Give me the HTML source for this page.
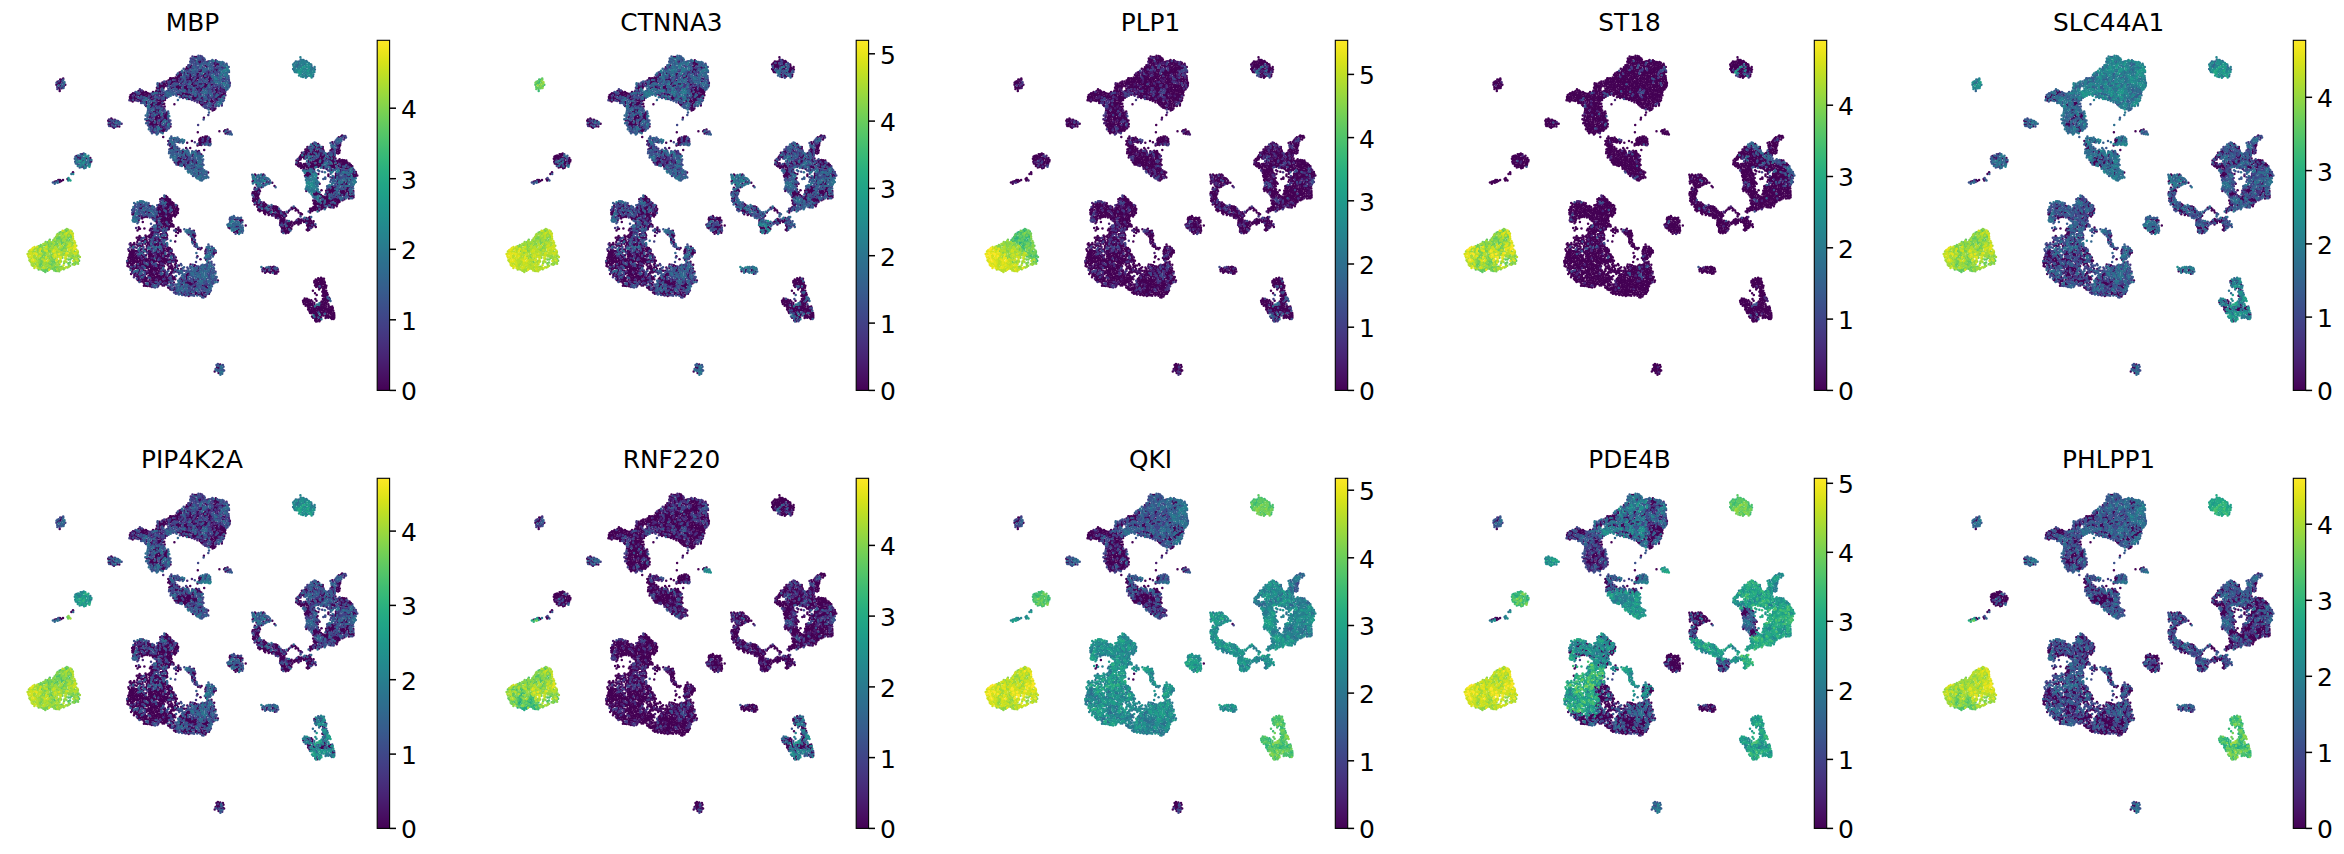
<!DOCTYPE html>
<html><head><meta charset="utf-8"><title>UMAP gene expression</title>
<style>
html,body{margin:0;padding:0;background:#fff}
body{width:2344px;height:854px;position:relative;overflow:hidden}
.tk{font-family:"DejaVu Sans","Liberation Sans",sans-serif;font-size:25px;fill:#000}
.tt{font-family:"DejaVu Sans","Liberation Sans",sans-serif;font-size:24.8px;fill:#000}
</style></head><body>
<svg width="2344" height="854" viewBox="0 0 2344 854" style="position:absolute;left:0;top:0">
<defs><linearGradient id="vg" x1="0" y1="1" x2="0" y2="0"><stop offset="0" stop-color="#440154"/><stop offset="0.03125" stop-color="#470d60"/><stop offset="0.0625" stop-color="#48186a"/><stop offset="0.09375" stop-color="#482374"/><stop offset="0.125" stop-color="#472d7b"/><stop offset="0.1562" stop-color="#453781"/><stop offset="0.1875" stop-color="#424086"/><stop offset="0.2188" stop-color="#3e4989"/><stop offset="0.25" stop-color="#3b528b"/><stop offset="0.2812" stop-color="#375b8d"/><stop offset="0.3125" stop-color="#33638d"/><stop offset="0.3438" stop-color="#2f6b8e"/><stop offset="0.375" stop-color="#2c728e"/><stop offset="0.4062" stop-color="#297a8e"/><stop offset="0.4375" stop-color="#26828e"/><stop offset="0.4688" stop-color="#23898e"/><stop offset="0.5" stop-color="#21918c"/><stop offset="0.5312" stop-color="#1f988b"/><stop offset="0.5625" stop-color="#1fa088"/><stop offset="0.5938" stop-color="#22a785"/><stop offset="0.625" stop-color="#28ae80"/><stop offset="0.6562" stop-color="#32b67a"/><stop offset="0.6875" stop-color="#3fbc73"/><stop offset="0.7188" stop-color="#4ec36b"/><stop offset="0.75" stop-color="#5ec962"/><stop offset="0.7812" stop-color="#70cf57"/><stop offset="0.8125" stop-color="#84d44b"/><stop offset="0.8438" stop-color="#98d83e"/><stop offset="0.875" stop-color="#addc30"/><stop offset="0.9062" stop-color="#c2df23"/><stop offset="0.9375" stop-color="#d8e219"/><stop offset="0.9688" stop-color="#ece51b"/><stop offset="1" stop-color="#fde725"/></linearGradient>
<path id="a0" d="M160.4 99.2h0M132.7 97.9h0M134.6 96.9h0M160 102.5h0M134.7 100.3h0M159.4 104.8h0M157.1 99.3h0M136 95.1h0M137.9 95.1h0M143.9 92.5h0M143.1 91.4h0M137.8 99.6h0M158 103h0M141.2 92.3h0M140.4 90.6h0M141.9 93.5h0M157.8 105.4h0M151.1 104.4h0M140.7 94.6h0M131.1 100.5h0M156 100.4h0M139.5 100.2h0M142.7 96.2h0M147.6 95.2h0M131.3 98.3h0M129.9 97h0M151.3 105.7h0"/><path id="a1" d="M136.2 98.3h0M138.5 90.9h0M161.6 101.1h0M158.1 100.6h0M145.8 92h0M165 97.9h0M147.1 92.9h0M153 91.9h0M145.9 93.9h0M155.8 91.8h0M158.2 93.7h0M152.8 102.4h0M140.9 100.9h0M147.3 96.6h0M134.9 93.3h0M146.6 103.4h0M133 93.2h0M142.2 94.9h0M132.7 101.4h0M151.7 97.2h0M154 98.6h0M146 96.5h0M144 95.6h0M147.7 98.3h0M130.6 95.1h0M143.5 93.8h0M153.6 96.3h0"/><path id="a2" d="M134.4 98.9h0M152.7 99.6h0M160.1 100.5h0M151.1 99.4h0M146.1 106.1h0M163.1 100.7h0M162.9 94.5h0M165 100h0M146.2 102h0M150.3 93.9h0M139.9 95.9h0M158.1 88.6h0M132.1 94.3h0M152.5 104.1h0M150.1 98.1h0M151.2 107.3h0M154.6 102.9h0M148.6 93.4h0M130 98.9h0M156.9 104.2h0M152.9 105.6h0M131.4 96.7h0M155.6 104.6h0M151.3 95.7h0"/><path id="a3" d="M143.8 98.7h0M142.3 97.5h0M159.3 97.4h0M141.9 99.6h0M139.9 89.3h0M136.4 100.6h0M142.5 101.8h0M140.6 99h0M138.2 101h0M142 90.4h0M157 95.8h0M133.8 95.1h0M129.4 100.3h0M154.8 94.7h0M158.3 96h0M155.9 98.6h0M156.7 101.6h0M132.9 96.4h0M149.7 95.9h0M152.9 107.1h0M153 97.6h0"/><path id="a4" d="M161.8 99.6h0M161.5 98.1h0M145.1 97.6h0M136.8 96.4h0M151.6 93.4h0M162.4 102.8h0M139.3 92.8h0M135.5 92h0M137 93.5h0M138.9 94.1h0M158 107h0M156.3 106.2h0M148.6 97.2h0M158.5 108.3h0M145.2 105h0M156 103h0M141.1 103.1h0"/><path id="a5" d="M158.7 98.6h0M133 99.7h0M149.5 99.6h0M148.3 101.2h0M157 97.3h0M144.4 101.4h0M138.1 97.6h0M152.3 101h0M159.4 106.6h0M152.5 94.8h0M141.3 96.3h0M140.9 97.6h0M139.4 98.1h0"/><path id="a6" d="M147 99.6h0M137.4 92.1h0M150.4 100.8h0M144.6 103.2h0M155.3 97.1h0M150.4 102.5h0M143.8 97.2h0M149.9 106h0M149 103.7h0M154.7 99.8h0M143.1 103.1h0"/><path id="a7" d="M143.4 99.9h0M156.9 92.7h0M153.6 93.4h0M148 102.7h0M154.1 101.2h0M154.1 104.4h0"/><path id="a8" d="M145.3 99.9h0M146.4 98.2h0M155 93.1h0M148.1 105.5h0"/><path id="b0" d="M152.9 125.9h0M161.2 116.8h0M151.6 125.1h0M153.7 124.6h0M150.7 123.4h0M160.6 124.1h0M149.4 125h0M152.6 123.2h0M161.1 103.6h0M153.4 121.2h0M161.1 127.4h0M161.2 121h0M155.8 127h0M163.9 116.3h0M162.6 127.7h0M155.3 119.3h0M163.5 113.7h0M165.5 115.6h0M158.9 115.1h0M157 117.4h0M166.7 120h0M159.7 116.6h0M156.2 123.3h0M157.4 109.7h0M165.2 118h0M163.1 126.2h0M157.3 124.4h0M156.8 118.8h0M166.8 116.3h0M155.8 109.7h0M158.5 118.5h0M164.5 130.6h0M165.5 114h0M163.7 129.2h0M157.1 112.9h0M162.5 120.3h0M163 131.7h0M155.7 112.9h0"/><path id="b1" d="M170.5 126.4h0M159.9 125.7h0M154.1 127.5h0M151.7 122h0M160.4 122.2h0M162.9 104.3h0M150.4 127.6h0M164.7 106.6h0M161 107.1h0M156.5 121.9h0M150.3 121.3h0M155.2 124.4h0M155.7 117.3h0M148.6 120.3h0M166.7 117.9h0M150.6 116.8h0M163.6 119.1h0M156.3 120.5h0M156.4 125.6h0M164.2 103.8h0M166.8 112.6h0M149.4 117.5h0M154.4 105.8h0M153.5 111.7h0M159.8 118.2h0M158.9 109.8h0M165.6 129.1h0M146.8 120.6h0M154.9 111.7h0M151.7 131.8h0M167.2 114h0M157.1 115.7h0M158.5 111.1h0M151 113.6h0M162.5 130h0M161.3 130.8h0M153.4 128.9h0M160.1 131.5h0"/><path id="b2" d="M152.5 117.3h0M161.7 126.1h0M162.9 106.9h0M167.7 122.6h0M163.2 110h0M169.4 122.2h0M166.5 123.3h0M164.2 108.8h0M161.2 105.3h0M148.8 123.6h0M166.9 126.2h0M154.7 126.2h0M160.8 119.6h0M160.5 113.8h0M168.8 120.4h0M150.4 115.2h0M165.9 124.9h0M164.8 125.9h0M158.5 121.8h0M161.8 110.2h0M163.2 115.1h0M164.7 127.9h0M156.2 128.3h0M159 124.2h0M158.4 113.5h0M155.6 108h0M153.6 132.2h0M160.1 130.1h0M152.3 129.8h0M149.7 112.5h0M153 130.9h0M155 132.2h0M157.9 119.7h0M151.3 118.1h0"/><path id="b3" d="M169.4 125.3h0M153.1 119.2h0M170.7 124h0M161.8 118.5h0M151.3 126.4h0M148 125.3h0M154.7 122.8h0M154 116.7h0M164.7 123.9h0M148.4 121.8h0M170.4 120.4h0M167.1 129.4h0M168.3 119.1h0M151.4 120.2h0M162.9 117.4h0M163.3 111.6h0M164.9 112.5h0M166 127.3h0M169 128.2h0M151 112.1h0M151 109.3h0M148.8 113.6h0M157.9 133.4h0M153.2 114.9h0M150.7 129.1h0M154 107.8h0M147.4 117h0M156.2 129.8h0M152.5 113.2h0"/><path id="b4" d="M161.9 123.6h0M152.1 128.3h0M149.2 126.8h0M167.9 117.1h0M152.1 115.8h0M167.6 127.5h0M161.5 128.8h0M149.8 119.1h0M160.2 108.3h0M161.4 112.5h0M160.5 109.6h0M166.2 130.8h0M148 110.6h0M168.1 111.6h0M149.9 110.9h0M154.3 109.7h0M156.1 133h0M156.9 131.6h0M152 133.2h0M150.6 130.9h0M157.1 111.4h0M156.8 114.3h0M154.3 112.9h0"/><path id="b5" d="M152.3 108.3h0M161.9 108.5h0M168.9 126.6h0M158.7 126.9h0M146.1 123.2h0M165.1 110.5h0M148 108.8h0M168 115.7h0M155.2 121.4h0M157.1 108.2h0M159.2 120.5h0M149.4 108.8h0M163.8 120.7h0M148.1 115.8h0M159.6 112.4h0M154.9 128.8h0M147.5 123.1h0M145.3 119.3h0M161.2 132.5h0"/><path id="b6" d="M161.3 115.4h0M163.1 122.1h0M163.4 124.9h0M147.2 118.9h0M147.6 112.2h0M167.1 121.3h0M148.8 129.2h0M145.7 115.5h0M165 119.9h0M168.6 113.4h0M156.8 134.6h0M157.1 126.7h0M154.5 130.2h0M158.5 132.2h0M158.2 130h0"/><path id="b7" d="M162.7 133.2h0M152.4 110.2h0M164.7 121.9h0M148.8 107.3h0M159.6 128.7h0M160.1 111h0M147.3 113.9h0M155 115h0"/><path id="b8" d="M168.7 123.8h0M168 125.2h0M169.3 116.3h0M158.2 128.5h0M147.6 106.7h0M162 114h0"/><path id="c0" d="M117.1 126.3h0M115.1 121.5h0M113.9 124h0M108.7 124.5h0M110.3 121.6h0M108.2 120.8h0M110.1 124.2h0"/><path id="c1" d="M119.3 126.6h0M114 127.7h0M112.4 119.6h0M110.7 126h0M112.4 122.8h0M111.3 118.5h0"/><path id="c2" d="M117.9 121.1h0M112.7 126.9h0M121.6 123.7h0M114.9 119.7h0M111.2 123.4h0M109 119.5h0"/><path id="c3" d="M117.4 124.6h0M116.1 124.5h0M109.2 125.9h0M111.8 121.6h0M110.8 120.1h0"/><path id="c4" d="M114.7 122.9h0M119.3 124.6h0M118.2 122.8h0M112.4 124.8h0"/><path id="c5" d="M113.4 120.8h0M114.2 125.9h0M108.8 123h0"/><path id="c6" d="M116.4 120.7h0M115.5 126.8h0M120.1 123.4h0"/><path id="c7" d="M119.5 122.1h0"/><path id="c8" d="M116.1 122.5h0"/><path id="d0" d="M225.1 130.2h0M227.5 129.5h0M224.1 131.3h0"/><path id="d1" d="M225.6 133.4h0M227.1 132.6h0M228.5 132.8h0"/><path id="d2" d="M228.9 131.4h0M230.4 131.5h0"/><path id="d3" d="M226.5 130.6h0M231 133.2h0"/><path id="d4" d="M227.7 134.1h0"/><path id="d5" d="M229.8 134.2h0M231.8 134.6h0"/><path id="d6" d="M225.5 131.7h0"/><path id="e0" d="M61.8 79.8h0M59.7 90.9h0M61.1 81.3h0M58.6 82.7h0M57.9 83.9h0M60.3 82.9h0"/><path id="e1" d="M60.2 79.6h0M65.3 84.8h0M59.6 89h0M56.4 84.7h0M62.7 87.1h0M59.3 84h0"/><path id="e2" d="M63.2 78.4h0M57.5 81.7h0M58.9 87.7h0M61.7 88.3h0M60.5 85.9h0"/><path id="e3" d="M57.2 86.9h0M63.9 86.2h0M63 82.8h0M58.9 81.2h0M57.3 88.9h0"/><path id="e4" d="M63.3 79.8h0M56.5 82.7h0M60.6 87.5h0"/><path id="e5" d="M62.5 81.1h0M61.6 84h0M63.5 88.1h0"/><path id="e6" d="M64 84.1h0M61.9 85.7h0"/><path id="e7" d="M64.5 82.3h0M58.6 85.3h0"/><path id="f0" d="M206.1 138h0M199.5 139.2h0M199.2 140.6h0M199.3 143.1h0M197.5 145.5h0M205 140.8h0M201.4 139.6h0M200.8 141.5h0"/><path id="f1" d="M204.4 139.5h0M203.9 141.5h0M207.1 136.4h0M206.3 139.5h0M208.9 140.5h0M206.1 142.1h0M208.9 141.9h0M210.2 141.2h0"/><path id="f2" d="M205.3 136.4h0M204.5 137.9h0M200.6 137.9h0M200.7 143.6h0M201.9 142.6h0M199.3 144.7h0"/><path id="f3" d="M202.7 137.3h0M208.5 144.9h0M210.1 138.9h0M203.7 143.1h0M210.1 142.5h0M201.2 145.1h0"/><path id="f4" d="M202.9 139h0M208.9 137.5h0M207.4 140.9h0M204.9 144.8h0M202.6 140.9h0"/><path id="f5" d="M207.8 138.7h0M208.2 143.5h0M205.7 143.6h0M207.5 142.3h0"/><path id="f6" d="M197.6 144h0M210.6 144.1h0M202.6 144.3h0"/><path id="f7" d="M209.8 145.2h0"/><path id="f8" d="M206.7 144.5h0"/><path id="g0" d="M89.8 162.5h0M76.5 156h0M77.9 157h0M80.2 159.3h0M83.3 167.1h0M82.1 154.3h0M85.3 165.1h0M77.2 159.3h0M90.3 158.1h0M79.5 157.9h0M83.1 160.4h0M80.7 156.5h0M91.2 161.4h0M86.4 158.3h0"/><path id="g1" d="M80.6 154.3h0M75.4 156.8h0M79.1 164.4h0M79.7 167.6h0M75.2 161.8h0M77.3 164h0M74.8 158.8h0M83.7 153.6h0M81.9 158.1h0M78.6 159.3h0M89.8 159.5h0M89.4 161h0M88.7 164h0"/><path id="g2" d="M80.6 162.4h0M82.2 161.7h0M78.1 155.6h0M81.9 155.9h0M81.5 167h0M79.4 156.2h0M75.8 163.6h0M85.1 160.1h0M86.3 163.5h0M85.9 161.9h0M86.2 166.2h0M85 157.4h0"/><path id="g3" d="M81.9 165.1h0M75.8 160.1h0M84.9 163.2h0M76.2 157.9h0M84.1 168.3h0M83.7 155h0M83.6 157.7h0M85.6 167.7h0M91.4 159.9h0M87.4 161.6h0M90.1 163.8h0"/><path id="g4" d="M83.8 165.2h0M77.8 165.9h0M85.3 154.3h0M77.6 160.6h0M88.4 158.2h0M87.7 159.7h0M84.6 158.7h0M88.3 162.7h0"/><path id="g5" d="M88.4 155.7h0M81.8 163.3h0M76.8 162.2h0M78.8 162.2h0M81.7 159.7h0M88.1 165.4h0M83.1 159h0"/><path id="g6" d="M80.7 164.4h0M80 166.1h0M86.9 156.7h0M89.7 165.2h0M84.6 166.4h0"/><path id="g7" d="M83.5 162.8h0M84.1 161.6h0M85.5 155.7h0"/><path id="g8" d="M80.3 161h0M89.4 166.7h0"/><path id="h0" d="M73 172.2h0"/><path id="h1" d="M71.4 173.9h0"/><path id="h4" d="M73.2 174h0"/><path id="i0" d="M67.5 179.1h0"/><path id="i1" d="M68.2 180.4h0"/><path id="i2" d="M69.3 179.6h0"/><path id="i3" d="M68.5 178.1h0"/><path id="i5" d="M70.4 180.4h0"/><path id="j0" d="M61.3 181.1h0M59.9 180h0M54.6 181.7h0"/><path id="j1" d="M63 179.9h0M56.2 181.3h0"/><path id="j2" d="M59.6 182.1h0M58.3 179.9h0"/><path id="j3" d="M52.9 182.5h0"/><path id="j4" d="M57.7 181.2h0M54.7 183.7h0"/><path id="j5" d="M55.6 182.6h0"/><path id="j6" d="M57.7 182.7h0"/><path id="k0" d="M143.3 206.7h0M133.5 215h0M144.8 217h0M142 215.7h0M152.3 217.8h0M141.3 208.6h0M138.7 220.1h0M146.2 216.1h0M140.9 204.8h0M141.8 207.2h0M143 217.1h0M159.1 208.3h0M139.6 207.5h0M149.5 212.5h0M139.1 215.9h0M133.9 213.1h0M141.6 217.3h0M145.2 212.2h0M154 218.2h0M139.7 209h0M149.3 205.7h0M147.2 217h0M146.2 211h0M151 206.6h0M132.4 214.2h0M148.2 212.7h0"/><path id="k1" d="M134.8 206.9h0M136.3 218h0M151.1 209.2h0M135.2 205.6h0M144.8 208.8h0M144.6 206.4h0M151.3 216.4h0M140.6 215.6h0M139.1 202.9h0M155.1 213.8h0M153 219.2h0M143.4 211.9h0M139.8 213.8h0M138.7 212.1h0M144.2 204.9h0M147.8 208.9h0M154.8 212.5h0M153.7 211.1h0M134.7 208.7h0M134.6 210.7h0M147.5 215.6h0M139 210.2h0M133.2 211.5h0M132.3 212.6h0M144.1 213.1h0M155.5 219.1h0"/><path id="k2" d="M137.3 216.4h0M150.2 207.8h0M133.2 217.9h0M137.5 204.2h0M137.8 205.9h0M143 201.6h0M149.8 217.5h0M154.3 209.2h0M155 217.1h0M147.8 206.5h0M138.3 208.4h0M152.4 209.3h0M140.3 211.6h0M141.9 211.4h0M156.9 214.6h0M148.9 207.3h0M147.9 204.6h0M149.3 214.3h0M133.3 209h0M149.2 216h0M137.3 212.7h0M147.2 214.3h0M132.1 210.1h0"/><path id="k3" d="M135 216.4h0M143.5 215.7h0M153.1 216h0M142.5 205.3h0M135.6 203.9h0M154 207.1h0M141.1 202.7h0M140.5 210.2h0M137.4 223.2h0M139.6 218.5h0M138.9 204.7h0M138.3 222h0M136.9 207.1h0M145.1 214.9h0M145.2 203.5h0M151.1 213.5h0M140.6 206.5h0M139.1 206.2h0M147.9 211h0M148.7 203.3h0"/><path id="k4" d="M151.8 214.9h0M149.2 209.7h0M146.7 209.7h0M137.5 219.2h0M142.8 209.8h0M142.9 214h0M146.3 207.5h0M142.5 203.5h0M138.2 217.8h0M150.4 215.2h0M141.7 213h0M155.1 210.5h0M136.4 209.8h0M146.8 212.7h0M156.9 211.7h0M156.4 213.3h0"/><path id="k5" d="M134.9 221.8h0M134.9 218.1h0M152.4 206h0M134.1 203.1h0M152.7 212.1h0M136.9 214.1h0M154.5 220.6h0M145.9 205h0M151.8 210.9h0M146.6 202.8h0M138.4 213.9h0M154.6 215.5h0"/><path id="k6" d="M152.4 207.5h0M143.4 208.1h0M136 219.3h0M133.3 221.4h0M136.8 221.2h0M153.5 213.6h0M133.4 207.1h0M144.5 210.4h0M150.2 211.1h0M137.2 211.3h0"/><path id="k7" d="M132.6 220.2h0M135.6 220.6h0M140 201.2h0M133.6 216.5h0M141.5 201.3h0M135.6 213h0"/><path id="k8" d="M137.5 202.3h0M134 219.6h0M135.4 214.7h0M144.3 202.3h0"/><path id="l0" d="M170.3 216.3h0M170.8 225h0M172.7 206.8h0M171.9 205.5h0M174 212.9h0M167.7 212.3h0M164.5 212.8h0M172.2 203.8h0M170.4 200.9h0M157.7 208.8h0M172.4 214.8h0M173.6 215.5h0M176.2 214.8h0M164.6 214.2h0M162.4 210h0M177.9 210.6h0M167.1 206.8h0M173.5 203.2h0M176.3 212.8h0M156.8 210.1h0M167.3 217.9h0M175 216.4h0M165.5 219h0M170.5 226.4h0M163.9 198.9h0M169.1 226h0M170 202.4h0M161.1 227.1h0M156.8 219.5h0M171.2 217.8h0M166 214.3h0M178.2 209.1h0M176.9 211.5h0M169.7 220.1h0M166.5 225.1h0M163.1 224.5h0M164.5 224.8h0M168.8 229.2h0"/><path id="l1" d="M161.8 206.7h0M168.9 207.4h0M173.5 210h0M165.6 208h0M170.1 199.6h0M169.2 206h0M170.6 214.9h0M158.1 207.3h0M167 210.4h0M160.2 199.2h0M160.8 210.8h0M169.4 213.5h0M177.1 205.8h0M168.7 211h0M167.5 213.9h0M166.8 201.2h0M163.6 211.5h0M165.4 199.8h0M171.9 223.7h0M164.7 207h0M167.4 199.6h0M159.8 213.6h0M162.8 213.3h0M156.6 217.7h0M158.3 212.1h0M169.3 221.8h0M166.1 198.2h0M168.1 221h0M159.9 216.4h0M170.9 219.3h0M164.6 221.8h0M166.8 220.3h0M167.7 203.4h0M160 219.5h0M163.8 223.3h0M159.8 215h0M162 219.9h0"/><path id="l2" d="M171.7 207.9h0M167.4 208.6h0M166.2 209.3h0M168.6 198.9h0M161.7 205.2h0M175.3 208.8h0M170.6 204.9h0M171.2 212.4h0M162.2 208.4h0M169.2 214.9h0M168.1 215.9h0M173.3 224.9h0M162.1 211.9h0M175.6 210.7h0M174.7 214.5h0M163.5 217.2h0M167.3 197.2h0M164.5 201.5h0M162.9 214.8h0M177 207.4h0M164 218.5h0M168.9 227.7h0M157.4 216h0M158.3 217.5h0M166 195.9h0M168.4 201.8h0M169.8 217.7h0M156.8 224.3h0M157.2 222.7h0M161.3 214.5h0M162.7 221.3h0M165.7 226.5h0M165.1 227.9h0"/><path id="l3" d="M162.1 216.4h0M169.5 209.9h0M163.5 204.5h0M160.3 205.5h0M174.3 211.2h0M158.8 205.1h0M171 203.3h0M176.7 209h0M164.4 215.6h0M161.1 212.9h0M171.6 221h0M164.1 208.8h0M169.3 204.2h0M164.1 220h0M170.2 223.1h0M158.3 210.1h0M167.6 226.2h0M157.7 227.4h0M159.6 225.5h0M157.7 226h0M164.7 230.8h0M168.4 222.8h0M162.5 228.5h0M167.9 219.6h0M168.6 218.4h0M158 213.6h0M163.4 226.6h0M162 223.5h0M167.5 229.6h0"/><path id="l4" d="M161.9 198.3h0M160.1 207.3h0M171.9 216.1h0M173.4 208.6h0M173.8 205.1h0M177.9 213h0M172.7 211.2h0M166.3 203.9h0M159.9 209.4h0M169 200.4h0M174.7 206.8h0M172.2 226.2h0M158.7 232.1h0M172.1 202.2h0M156 215.5h0M164.9 217.2h0M162.1 218.5h0M167.9 205h0M165.3 220.5h0M165.5 223.8h0M155.7 221.2h0M161 221.9h0M157.5 221.4h0"/><path id="l5" d="M170.5 206.8h0M163.4 207.6h0M166.1 212.5h0M163.2 206.3h0M165.6 205.9h0M169.8 211.9h0M160.3 203.9h0M161.2 202.9h0M161.9 199.9h0M156.3 208.5h0M160.3 201.4h0M165.8 215.8h0M163.2 200.5h0M168.3 224.5h0M160.6 223.9h0M160.5 229.4h0M158.4 224.3h0M165.5 229.3h0M167.2 223.6h0"/><path id="l6" d="M161.4 225.1h0M164.3 210.2h0M170.3 208.2h0M170.6 210.8h0M159.8 211.8h0M157.2 205.2h0M175.9 205h0M158 230.7h0M163.9 228.5h0M166.5 222.1h0M159.7 222.8h0M160.1 218h0M158.6 218.9h0M154.1 225.4h0"/><path id="l7" d="M165.7 211.1h0M162.3 203.9h0M164.9 203.9h0M164.3 195.4h0M159.4 226.9h0M164.4 196.9h0M167 228.2h0M158.8 221.6h0"/><path id="l8" d="M171.7 209.9h0M163.7 202.9h0M165.8 202.6h0M162.6 201.8h0M155.8 225.6h0M163.4 229.8h0"/><path id="m0" d="M178.4 227.5h0M179.1 231.1h0M180.6 231.5h0"/><path id="m1" d="M178.6 229.3h0M176.1 232.1h0"/><path id="m2" d="M173.6 226.6h0M177.1 229.8h0"/><path id="m3" d="M178 233h0"/><path id="m4" d="M180.3 230h0M176 228.9h0"/><path id="m5" d="M174.2 230.5h0"/><path id="m6" d="M175.6 230.6h0"/><path id="n0" d="M139.6 236.1h0M142.2 218.6h0"/><path id="n1" d="M144.4 228.6h0"/><path id="n2" d="M140 228.7h0"/><path id="n3" d="M145.5 235.4h0"/><path id="n4" d="M136.1 228.1h0"/><path id="n5" d="M151 223.7h0"/><path id="o0" d="M189 287.7h0M198.1 278.7h0M206.2 287.6h0M207.9 288.2h0M197 271.6h0M208.3 262.4h0M206.5 285.8h0M172.2 276.3h0M204.6 285.2h0M202.4 285.6h0M204.9 292.4h0M173.2 277.5h0M205.4 296.6h0M167.6 281.5h0M198.6 268h0M203.4 296.1h0M198.1 294.5h0M209 293.7h0M174.7 277.1h0M202.1 294.7h0M173.7 278.9h0M203.8 293.2h0M209.4 285.2h0M201.3 292.7h0M175.3 279.2h0M174.6 287.4h0M168.1 287.4h0M182 284.4h0M200.3 294.2h0M198.7 270.5h0M190.6 264.6h0M188.7 296.1h0M170.4 289.4h0M189.6 284.4h0M181.2 268.9h0M181.4 292.9h0M175.4 271.5h0M193.6 286.9h0M173.9 282.4h0M190.9 291.3h0M195.1 286.9h0M191.4 293.7h0M194.8 265.2h0M172.6 279.9h0M175 289h0M205.2 286.7h0M195.3 284.8h0M184.2 294.8h0M217.9 280.6h0M178.9 272.6h0M193.9 266.8h0M181.7 279h0M173.5 289.7h0M195.4 292h0M186.8 279.8h0M196 281.4h0M192.7 283.9h0M175.8 292.1h0M182.9 281.2h0M196.7 293.5h0M191 285.5h0M195.4 293.9h0M189.7 294.3h0M194.5 282.6h0M184.7 280.8h0M186.1 274.5h0M169.2 288.1h0M186.4 276.5h0M191.2 283.6h0M193.9 281h0M185.3 282.7h0M187.9 275.3h0M190.2 282.3h0M188.2 273.3h0M187.4 283h0M187.9 281.5h0M187.1 278.1h0M193.3 279.2h0M188.3 292.8h0M189 283h0"/><path id="o1" d="M170.6 287.9h0M179.8 279.1h0M197.3 269.7h0M188.6 289.2h0M190.5 288.8h0M169.8 279.1h0M203.7 286.4h0M210.4 271h0M206.1 289.3h0M180.2 286.8h0M215.6 271.8h0M203.2 289.1h0M215.6 280h0M192.1 289.9h0M201.4 289h0M170 286.4h0M180.8 277.8h0M210.9 269.3h0M172.2 284.1h0M176.8 270.6h0M207.1 283.4h0M205.6 269.3h0M206.1 294.8h0M180.8 285.4h0M176 288.1h0M214 268.6h0M206.7 281.8h0M183.2 287.8h0M201.4 265.5h0M203.8 282.2h0M199.6 272.6h0M190.4 267.9h0M173.5 285.2h0M204.3 265.3h0M194.5 289.7h0M208 284.9h0M189.7 292.4h0M209.7 274.4h0M185.4 291.3h0M199.1 284.2h0M193.1 291h0M209 275.9h0M186.6 270.8h0M196.9 285.8h0M206 284.5h0M213.9 272.7h0M196.6 266.2h0M196 274.4h0M173.8 272.5h0M211.5 261.8h0M213.6 283.3h0M212.2 282.7h0M185.3 293h0M200.6 291.3h0M182.8 293.4h0M174 292.5h0M182.8 270.4h0M186.9 295.1h0M196 283.5h0M187.3 267.5h0M184.3 270.8h0M180.1 283.5h0M177 267h0M209.6 277.9h0M189.6 275h0M193.9 284.7h0M214.2 264.7h0M188.2 285.5h0M211.1 279.3h0M186.2 281h0M192.7 282.2h0M183.6 280h0M188.8 280.5h0M190 273.7h0M184.9 276.7h0M190.7 281h0M184.1 292.1h0M175.8 293.8h0M186.8 293.7h0"/><path id="o2" d="M171.2 279.6h0M198.1 288.4h0M206.3 279h0M170.7 281.2h0M189.4 286.2h0M206.4 267.7h0M196.8 287.7h0M199.3 290.1h0M202.9 291.3h0M184.2 286h0M198.2 266.5h0M194.3 272.4h0M205.1 283.1h0M207.2 264.8h0M201.7 279.3h0M202.1 297.3h0M194.8 267.8h0M213.9 278.8h0M201.1 268.4h0M206.2 266.1h0M169.1 277.9h0M207.3 273.5h0M172 285.7h0M204.3 268.1h0M206.7 292.4h0M215.3 276.7h0M204.1 294.6h0M207.8 274.8h0M211.8 267.8h0M198 282.5h0M196.8 280.1h0M188.1 268.8h0M188.2 271.6h0M195.3 288.3h0M190 290.1h0M190.6 295.3h0M177.2 293.6h0M180.8 291.3h0M201.8 270h0M206.4 280.4h0M210.9 290.6h0M180.9 264.1h0M192.6 288h0M205.3 281.5h0M207.8 266.1h0M203 279.9h0M209.9 273h0M212.3 284.1h0M175.4 290.8h0M192.8 264.8h0M181.5 282.8h0M212.7 280.4h0M181 280.9h0M193.9 292.1h0M185.5 295.6h0M178.4 292.9h0M190.2 277.4h0M201.2 287.3h0M198 292.5h0M190.6 278.7h0M192.4 286h0M177.3 271.9h0M186.1 286.4h0M172 290h0M180.8 272.7h0M211.1 281.8h0M183.8 275.7h0M194.7 279.9h0M191.8 279.3h0M184.1 278.1h0"/><path id="o3" d="M179.5 288h0M188.2 279.2h0M216 278.6h0M213.9 270.6h0M189.6 272.1h0M208.7 272h0M169 282h0M195.8 269.3h0M205.8 290.7h0M188.8 290.9h0M204.5 290.2h0M202.6 287.7h0M208.2 291h0M194.3 269.5h0M190.6 287h0M211.6 272.2h0M172.5 281.3h0M197.1 277.6h0M179.9 290.1h0M175.3 284.4h0M198.1 287h0M170.8 277.5h0M187.5 286.9h0M200.2 275.9h0M209.8 292h0M191.2 271.1h0M203.5 297.5h0M178.7 291.5h0M199.5 292.7h0M200.4 274.5h0M173.3 288.3h0M200.5 286.2h0M192.6 271.8h0M210.5 276.6h0M204.4 280.5h0M205.7 264.7h0M177.2 284.4h0M176.7 289.4h0M213.4 281.9h0M184.2 290.1h0M182.1 294.9h0M208.1 278.1h0M194.1 295.8h0M214 280.4h0M203.5 266.5h0M209.7 279.5h0M212.4 273.4h0M211.8 265.2h0M178.9 282h0M192.3 295.3h0M179.2 274h0M210.9 283.3h0M193.5 294.6h0M211.6 263.7h0M171.9 288.6h0M177.1 265.6h0M192.1 276.1h0M192.9 277.7h0M185 279.3h0M181.5 265.3h0M187.4 290.7h0M192.2 281h0"/><path id="o4" d="M188.6 270.2h0M207.1 269.7h0M197.2 295.6h0M204.6 288.2h0M182.3 286.3h0M201 277.2h0M187 289.4h0M212.4 269.9h0M187.1 292.1h0M201 284.4h0M167.8 285.4h0M207.3 263.3h0M208.1 292.4h0M211.2 274h0M177.5 288.2h0M176.4 286.3h0M200.2 266.7h0M198.2 272.6h0M203.7 283.8h0M200.3 295.7h0M181.1 270.5h0M203.7 270h0M185.1 287.4h0M203.6 278.4h0M216.7 277.1h0M194.4 273.9h0M198.9 274.2h0M207.7 293.8h0M178.9 294.4h0M203.5 271.9h0M198.8 285.8h0M185.2 284.9h0M197.4 284.5h0M213.8 275.3h0M195.9 276.5h0M212.7 271.3h0M211.5 277.6h0M182.1 273.1h0M190.9 274.9h0M194.1 276.2h0M186.3 272.3h0M179.5 280.6h0M182.8 274.3h0M182.8 268.3h0M182.9 282.9h0M184.1 267.3h0M184.1 282h0M201.8 274h0"/><path id="o5" d="M208.7 286.4h0M198.5 277.3h0M207.1 271.5h0M195.1 270.6h0M196.9 268h0M180.1 293.7h0M198.6 281.2h0M178.2 286.5h0M188.2 277.1h0M178.3 270.6h0M202.4 277.3h0M193.8 271h0M185.3 289.2h0M195.9 272.4h0M191.7 269.4h0M176.1 276h0M199.5 287.7h0M195.5 277.9h0M179.9 271.6h0M201.9 282.9h0M190.1 266.2h0M182.1 271.7h0M184.2 283.7h0M209.5 283.6h0M177 291.1h0M170.7 284.7h0M217.4 282h0M208.3 280.7h0M182.9 291.5h0M192.1 292h0M208.3 282h0M195.8 290.3h0M188.2 294.6h0M201.7 271.4h0M186.9 284.7h0M213.4 267.2h0M184.7 274.2h0M182 275.8h0M205.8 275.7h0M209.9 262.5h0"/><path id="o6" d="M208.9 270.6h0M209.6 268.9h0M199.9 278.3h0M199.6 280.2h0M209.5 289.5h0M205.7 272.7h0M207.4 289.7h0M210.6 287h0M209.3 287.9h0M197 273.4h0M210.7 288.7h0M211.7 275.7h0M199.9 282.9h0M199.6 269.4h0M207.8 268.1h0M182.1 289.5h0M200.3 270.9h0M205.7 274.3h0M197.9 290.8h0M212.5 278.8h0M197.2 275.2h0M191.7 266.9h0M210.8 285.1h0M212 286.3h0M209.6 263.9h0M202.6 264.8h0M209.8 281h0M175 269.8h0M182.8 277.8h0M180.8 289.1h0M186.4 287.8h0"/><path id="o7" d="M205 270.9h0M204.9 279h0M196.5 289.1h0M215.4 273.5h0M178.5 289.7h0M215.4 282.3h0M213.2 276.8h0M193.4 268.1h0M179.2 284.8h0M202.2 281h0M198.5 275.5h0M205 266.7h0M178.1 280.7h0M207 276.6h0M200.6 281.2h0M209.4 265.3h0M178.4 283.6h0"/><path id="o8" d="M181.6 288h0M202.1 275.4h0M202.2 266.9h0M203.6 275.8h0M204.9 277.3h0M201.3 272.6h0M203.6 274.1h0M209.3 266.9h0M211 266.3h0M202.5 268.7h0M191.3 273h0M192.7 273.3h0M192.8 274.8h0"/><path id="p0" d="M195.2 235.5h0M200.4 249.2h0M194.2 236.9h0M205.4 251.3h0M198 248.7h0M192.3 235.3h0M195.1 244.6h0M192.2 240.1h0"/><path id="p1" d="M188.8 234.4h0M193.8 235h0M193.2 233.8h0M195.1 242.5h0M193.9 241.7h0M193.9 230.8h0M201.6 247.9h0M192.1 238.3h0"/><path id="p2" d="M194.7 233.6h0M189.8 228.7h0M190.9 231.2h0M195 239.9h0M199.7 247.9h0M195.9 246.7h0M194.5 246.1h0"/><path id="p3" d="M187.4 233.2h0M191.8 232.8h0M194 239h0M192.4 231.1h0M192.8 243.4h0M196.9 245.5h0M184.3 229.3h0"/><path id="p4" d="M190.7 236.2h0M190 232.7h0M197.4 247h0M192.2 236.9h0"/><path id="p5" d="M190.9 234.2h0M188.7 232.4h0M188.3 229.9h0M192.1 241.9h0"/><path id="p6" d="M187 231.7h0M193.9 232.3h0M196.6 243.9h0"/><path id="p7" d="M189.5 230.9h0M185.6 231.4h0"/><path id="p8" d="M186.5 230.1h0"/><path id="q0" d="M215.8 252.5h0M205.5 253.6h0M214.1 252.9h0M213.7 254.5h0M210.4 250.5h0M206 259.7h0M206 249.5h0M214.6 249.9h0M213.2 251.7h0"/><path id="q1" d="M206.4 252.2h0M206.7 250.7h0M210.3 256.4h0M212 252.9h0M212.4 254.9h0M207.2 248.6h0M214.6 251.6h0M212.6 249.7h0M211.9 246.8h0"/><path id="q2" d="M207.7 253.4h0M208.3 259.4h0M208.4 251.2h0M210.6 257.9h0M208.4 244.6h0M209.9 259.1h0M208.7 258.1h0"/><path id="q3" d="M211.1 254.4h0M206.8 258.4h0M204.8 258.1h0M208.4 249.7h0M215.7 250.7h0M209.5 246.5h0M212.4 248.2h0"/><path id="q4" d="M206.2 254.9h0M207.3 257.1h0M212.9 256.5h0M208 246.8h0M206.7 247.3h0"/><path id="q5" d="M209.1 253.3h0M208.8 256.7h0M211.9 251.3h0M211.1 248.8h0M213.8 248.2h0"/><path id="q6" d="M209.8 254.9h0M210.4 252.1h0M209 248.1h0"/><path id="q7" d="M207 260.9h0M207.8 255.4h0"/><path id="q8" d="M205.9 256.4h0"/><path id="r0" d="M200.5 259.2h0"/><path id="r1" d="M197.4 256.2h0"/><path id="r2" d="M196 261.9h0"/><path id="r3" d="M196.9 257.5h0"/><path id="r5" d="M196.4 253.1h0"/><path id="s0" d="M236.1 226.7h0M237.9 226.5h0M234.1 232.1h0M236.1 231.5h0M235.1 219.6h0M237 219.5h0M229.9 228.2h0M238.8 229.4h0M237.3 230.8h0M237.7 232.7h0M240.8 221.8h0M239.7 220.3h0M240.6 219.3h0M242.4 220.5h0M228.6 227.5h0"/><path id="s1" d="M235 227.8h0M237.3 227.7h0M235.6 233.7h0M233.1 223.4h0M230.1 217.7h0M237.8 217.7h0M238.6 219.1h0M241 231.1h0M231 227.1h0M230.3 220.8h0M240.7 223.4h0M231.3 218.4h0M229.7 219.3h0M232.4 226.6h0M241.3 227.9h0"/><path id="s2" d="M233.8 216.1h0M242.4 225.5h0M234.5 217.3h0M242.3 232.7h0M240.4 226.8h0M239 227.7h0M236.1 221h0M233 219.2h0M227.4 224.8h0M239.6 218.2h0M241.1 217.7h0M231.5 219.9h0M232.4 224.7h0"/><path id="s3" d="M235.7 225.1h0M237.8 225h0M234.5 226.6h0M236.2 218.2h0M234.4 224.2h0M238.5 223.5h0M233 229.4h0M242.3 222.2h0M243 230.8h0M232.9 217.5h0M230 222.3h0"/><path id="s4" d="M233.2 227.8h0M236.8 223.8h0M231.7 216.9h0M242.8 227.6h0M235.1 222.7h0M237.5 221.8h0M242.8 229.3h0M233.7 230.7h0M230.1 224.4h0"/><path id="s5" d="M233.8 225.4h0M236.8 229h0M239.9 225h0M240.8 229.4h0M239.3 230.9h0M238.8 222.2h0M228.7 224h0"/><path id="s6" d="M240 232.8h0M234.9 229.4h0M231.5 228.7h0M233.6 221.4h0M231.9 230.5h0M231.1 225.5h0"/><path id="s7" d="M239 234h0M228.1 226h0M229.5 226.1h0"/><path id="s8" d="M231.9 221.2h0M231.4 222.5h0"/><path id="t0" d="M269.1 182.3h0M261.5 187.3h0M263.4 183.4h0M266.7 182.1h0M253.6 180.4h0M254.9 174.4h0M272.3 182.7h0M264.3 179.4h0M252.6 181.5h0M263.4 174.6h0M262.1 175.5h0M259.5 177.9h0M256 175.4h0"/><path id="t1" d="M267.2 180.6h0M265.8 179.4h0M263.2 185.4h0M259.9 187.2h0M265 185.2h0M265.6 183.4h0M262.5 177h0M258.5 175.1h0M264.6 175.5h0M260.6 182h0M259.2 181h0M256.7 181.3h0M256.6 177.5h0"/><path id="t2" d="M269.9 180.4h0M265.9 177.7h0M262.1 184.5h0M252.2 174.8h0M263.1 178.3h0M254.1 177.2h0M257.4 185.9h0M259.3 184.6h0M258 180.2h0M259.4 179.5h0M259.1 176.6h0"/><path id="t3" d="M268.6 179.1h0M270.6 182.6h0M263.4 181.6h0M269.2 183.7h0M261.2 174.4h0M261.7 179.3h0M263 186.7h0M261 178.1h0M267.5 183.6h0M256.1 179.1h0"/><path id="t4" d="M261.1 180.5h0M267.5 178.2h0M262.1 181.8h0M258.8 186.2h0M252.7 177.1h0M252.9 183.5h0M257.3 175.9h0"/><path id="t5" d="M253 178.8h0M264.1 177h0M259.9 183.3h0M255.1 180.4h0M258.2 177.6h0M254.4 182.3h0M256.4 182.7h0"/><path id="t6" d="M260.7 185.4h0M266.4 184.6h0M253.8 175.7h0M257.9 183h0M257.9 184.5h0"/><path id="t7" d="M254.5 178.8h0M260.5 175.6h0"/><path id="t8" d="M264.9 181h0M263 179.9h0"/><path id="u0" d="M295.1 208h0M296.3 209.2h0M291.6 207.8h0"/><path id="u1" d="M298.7 212.5h0M298 210.6h0M295.6 210.5h0"/><path id="u2" d="M300.7 213.2h0M292.3 209.1h0"/><path id="u3" d="M288.9 210.8h0M293.5 207.8h0"/><path id="u4" d="M302 214.2h0M300.6 214.8h0"/><path id="u5" d="M290.4 209.6h0"/><path id="u6" d="M300.5 216.5h0"/><path id="u7" d="M293.7 206.5h0"/><path id="v0" d="M297.9 161.7h0M323.7 160.4h0M300.7 163.3h0M304.7 166h0M304.6 167.7h0M317.8 162h0M321.9 162.4h0M302.3 165.8h0M313 163.9h0M317.5 164h0M300.8 165.9h0M305.7 163.7h0M307.5 165.5h0M303.2 167.2h0M311.5 149h0M305.9 165.4h0M301 168h0M324.6 166.9h0M311.2 163.5h0M334.4 166.6h0M312.8 161.4h0M314.3 164.5h0M335.8 164.3h0M322.1 157.5h0M328.6 159.4h0M301.9 152.8h0M320.2 156.1h0M334.8 168.1h0M306.6 155.3h0M312.7 153.2h0M333.1 167.3h0M331 167h0M296.1 164.2h0M298 165.7h0M323.9 156.3h0M307 154h0M332.5 165.7h0"/><path id="v1" d="M323.3 162.3h0M322 160.8h0M298.7 163h0M316.3 161.6h0M314.5 151.3h0M313.9 145.4h0M299.7 165h0M296.4 160.6h0M320.6 152.7h0M299.1 166.5h0M314.1 169.4h0M307 152.4h0M319.1 163.6h0M320.6 164.7h0M307 167h0M333.9 161.7h0M313.2 149.2h0M308.3 167.4h0M300.5 159.6h0M308.8 169.1h0M299.1 158.3h0M310.4 166h0M323.3 158.3h0M342.1 167.6h0M309.7 158.9h0M325.4 160h0M302.9 156.9h0M301.3 156.7h0M312.6 157.7h0M319.6 159.1h0M310.3 153.5h0M304.2 156.6h0M304.9 151.7h0M315.8 152.4h0M299.9 156.7h0M326.5 158.4h0M306.6 150.5h0"/><path id="v2" d="M305.6 153.6h0M297.5 164.3h0M308.5 161.9h0M315.4 160.3h0M301.5 164.5h0M308.7 160.1h0M322.7 163.7h0M316.9 160h0M318.4 160.5h0M318.4 158.5h0M320.7 163.1h0M307.4 147h0M311.8 167h0M316.6 151.2h0M321.6 159.3h0M307.3 148.4h0M304.2 158.5h0M322.3 153h0M331.3 164.9h0M310.4 167.5h0M318.2 167h0M314.9 165.8h0M317.7 152.6h0M317.4 154.4h0M319.5 157.4h0M313.4 165.8h0M312.7 151.6h0M329.8 165.5h0M322.2 156.1h0M313.8 154.1h0M300.9 158.1h0M310.3 155h0M300.9 155.3h0"/><path id="v3" d="M314.2 161.7h0M332.2 161.6h0M304 164h0M333.4 163.2h0M323.3 166.4h0M316 164.5h0M320.8 166.1h0M317 165.7h0M298.8 159.9h0M310.5 162.1h0M319 165.8h0M313.4 168.2h0M333.8 165h0M303.6 168.9h0M318.6 150.9h0M311.8 165h0M306.8 157.8h0M314.8 149.1h0M327.2 153.9h0M305.4 149.6h0M338.1 165.5h0M315.2 155h0M328.9 162.2h0M309 151.5h0M303.9 153.9h0M304.5 155.2h0M311.7 154.8h0M308 150.3h0M310.8 157.9h0"/><path id="v4" d="M314.3 170.9h0M307.6 163.4h0M315.6 158.2h0M311.9 168.9h0M316.8 157.2h0M324.8 161.3h0M314.1 147.2h0M297.7 158.9h0M305.1 170.1h0M309.5 146.7h0M308.9 165.4h0M325.2 168.3h0M329.1 160.9h0M314.4 157.4h0M312.4 160.1h0M327.5 167.6h0M313.5 155.9h0M308.7 153.6h0M318.9 155.3h0M312.2 150.2h0M328.3 164.4h0M322.7 154.7h0"/><path id="v5" d="M296.5 162.5h0M314.5 152.8h0M315 163.2h0M309.2 163.9h0M322 167.2h0M314 159.1h0M320.4 151.3h0M315.7 156.4h0M310.1 148.4h0M308.7 147.9h0M311 152h0M327.4 160.3h0M318.1 157.1h0M326.3 161.4h0M307.8 156.1h0M308.1 154.8h0M311.8 158.8h0M303.5 152.4h0M325.1 157.7h0"/><path id="v6" d="M307 161.3h0M305.6 158.8h0M316.1 153.7h0M319.9 161.9h0M312.4 147.9h0M303 170.6h0M324.9 165.5h0M316.6 149.1h0M310.7 150.3h0M305.8 156.5h0M317.5 155.7h0M326.6 164.8h0M324.5 158.9h0M326 154.9h0"/><path id="v7" d="M320.7 167.8h0M331.5 163.6h0M315.2 167.6h0M322.6 165.1h0M320.3 160.4h0M330.4 162h0M316.4 166.9h0M327.5 162.9h0"/><path id="v8" d="M308.5 158.4h0M310.3 160.2h0M309.4 156.7h0M325.7 163h0M302.3 155.2h0M310.9 156.6h0"/><path id="w0" d="M342.1 135.4h0M339.3 152.7h0M339.6 146.3h0M338.7 145h0M340.2 145h0M336.5 153.1h0M336.9 151.5h0M344.6 137.8h0M339.1 148.1h0M337.6 145.9h0M336.3 149.6h0M329.4 156.6h0"/><path id="w1" d="M333.1 153h0M332.3 142.2h0M341.2 136.6h0M336.5 145h0M338.8 137.3h0M339.8 150.6h0M332.4 148.3h0M338.5 151h0M338.1 153.4h0M338.1 149.2h0M331.7 149.6h0M333.6 149.4h0"/><path id="w2" d="M332.9 144.1h0M340.4 142.9h0M338.9 139.4h0M334.7 142h0M344 139.4h0M345.3 136.1h0M333.3 150.8h0M337.8 147.5h0M328.7 153.3h0M331.9 152h0"/><path id="w3" d="M343.9 136h0M342.4 137.3h0M335.5 143.6h0M337.7 144.1h0M341.7 139.3h0M346 137.5h0M334.4 151.8h0M336 146.5h0M330.1 154.5h0"/><path id="w4" d="M334.8 153.1h0M338.6 142.8h0M335.8 140.4h0M332 154.2h0M330.5 143.1h0M336.7 139.4h0M334.9 150.3h0M329.8 152.5h0"/><path id="w5" d="M341.3 141h0M336.7 142.3h0M337.7 138.3h0M334.9 155h0M335.2 148.7h0"/><path id="w6" d="M339.3 141.3h0M331.3 145.3h0M331.5 146.7h0M334.8 145.5h0M332.9 146h0"/><path id="w7" d="M340.5 138.5h0M337.8 140.4h0M333.7 147.7h0"/><path id="w8" d="M340.3 140.1h0"/><path id="x0" d="M313.2 171.9h0M315.7 195.4h0M306.3 190.9h0M313.7 194h0M314 195.6h0M316.8 194.6h0M318.2 193.2h0M315.3 193.4h0M306.6 169.5h0M310 173.2h0M310.6 174.6h0M319.6 183.7h0M309 174.4h0M306.9 172.7h0M306.3 174.6h0M307.6 174.2h0M316.6 191.9h0M308.4 172.1h0M307 176.5h0M315.4 182.3h0M305 175.7h0M308.5 176.1h0"/><path id="x1" d="M313.4 197.2h0M315 196.7h0M312.9 170.4h0M316.6 198.1h0M316.5 179.3h0M307 189.6h0M318.4 195.8h0M317.6 183.8h0M315 172.7h0M319.7 192.3h0M316 173.6h0M318 189.5h0M314 192.1h0M313.4 183.8h0M307.4 170.7h0M305.7 177.3h0M315.2 191.3h0M308.9 170.6h0M316 184.1h0M308.7 177.8h0M317.8 186.3h0M312.1 175.8h0"/><path id="x2" d="M316.6 196.7h0M311.4 180.4h0M307.8 179.2h0M317.2 180.9h0M309.9 171.6h0M313.2 179.2h0M310.2 168.9h0M309.6 179.6h0M318.7 182.5h0M309.6 186.5h0M308.3 188.9h0M304.8 172.9h0M312.4 177.3h0M314.8 186.4h0M310 176.5h0M306.8 181.9h0M310.7 191.1h0M306.8 178.1h0M316.6 185.7h0"/><path id="x3" d="M305.9 180.1h0M314.7 179.8h0M314.3 188.8h0M311.2 170.4h0M312.5 195.4h0M320.5 196.5h0M306.4 187.3h0M311.3 172.4h0M308.4 190.5h0M309.6 181.3h0M309.5 192.2h0M314.1 190.5h0M308.4 180.6h0M318.1 191.4h0M316.7 189.9h0M311.4 189.4h0M312.3 190.9h0"/><path id="x4" d="M305.9 171.3h0M305.7 189.1h0M315.5 180.9h0M317.1 182.5h0M312.2 174.2h0M307.9 187.1h0M315.1 178.4h0M317 188.4h0M309.6 189.6h0M314.7 183.6h0M308.2 183.8h0M312.9 189.4h0M311.8 187.9h0"/><path id="x5" d="M313.7 173.5h0M313.7 176.1h0M311.8 182.5h0M313.8 177.6h0M314 182h0M304.3 171.4h0M311 178.7h0M314 185.3h0M315.7 187.6h0M316.5 175.3h0M309.1 187.8h0"/><path id="x6" d="M313.4 180.8h0M311.4 194.1h0M318.1 197.8h0M316.1 176.8h0M315.1 174.8h0M313.4 187h0M311.8 192.3h0M309.4 185.1h0"/><path id="x7" d="M306.9 185.7h0M310 183.3h0M310.5 187.6h0M312.7 185.7h0M306.8 183.2h0"/><path id="x8" d="M310.9 185.4h0M311.9 184h0M308.4 182.3h0"/><path id="y0" d="M333.1 188.9h0M343.6 187.4h0M339.8 189.2h0M348.3 191.5h0M341.2 190.7h0M339.2 200.1h0M340.3 171.7h0M328.1 196.2h0M332.7 199.9h0M335.9 177h0M348.9 198.4h0M344.9 164.5h0M346.6 191.2h0M347.7 188.9h0M347.2 187.6h0M334.9 190.4h0M351.7 188.1h0M345.6 184.3h0M345.7 192.7h0M344.1 195.4h0M349.8 195.9h0M348.4 195.3h0M335.7 198.7h0M337.6 181.8h0M353.5 195.7h0M340.7 169.7h0M334 195.6h0M346.8 183.1h0M339 166.5h0M340.7 167.1h0M334 187.4h0M333.5 191.8h0M331.9 186.3h0M335.6 193.8h0M331.8 189.5h0M332.5 192.8h0M344.8 194.1h0M342.8 193.8h0M326.8 169h0M338 175.4h0M353.3 176.9h0M341.7 165.9h0M353.5 197.2h0M332.4 191h0M337.3 199.5h0M330.8 191.1h0M347.3 176.2h0M351.8 193.3h0M326.3 193.1h0M327.4 190.3h0M327.7 165.6h0M329.4 190.1h0M353.3 191.1h0"/><path id="y1" d="M350.5 179.8h0M348.9 187.4h0M342.9 190.4h0M351 196.8h0M344.1 191.2h0M340.5 192h0M333.8 198.1h0M332.2 177.8h0M347.3 180.9h0M347 179.3h0M327 194.6h0M352.1 195.7h0M349 193.1h0M336 186.8h0M338.9 177.1h0M348.7 171.1h0M323.4 168.1h0M332.4 187.7h0M343.9 193h0M337.9 179.9h0M346.1 189.5h0M342.7 184.2h0M344 182.9h0M341.2 193.7h0M340.6 184.3h0M339.5 195.2h0M338.1 194.4h0M342.2 192.5h0M344.4 199.2h0M342.5 200.3h0M344.1 181.4h0M347.3 184.4h0M345 174.1h0M328 193.2h0M340.9 195.8h0M345.1 178.3h0M348.8 176.7h0M330.3 193h0M337.8 184.2h0M329 191.8h0M345.2 168.6h0M342.9 170.5h0M336.5 196.5h0M326.1 190.7h0M338.8 174.3h0M335.8 175.5h0M347 168.5h0M350.2 175.9h0M331.4 169.8h0M329.1 188.4h0M335.9 173.6h0M343.6 167.6h0M335 178.1h0"/><path id="y2" d="M333.2 170.7h0M332.4 198.1h0M341.5 171.2h0M331.1 179.9h0M344.8 189h0M349.6 186.1h0M342.1 177.9h0M349.1 190.1h0M341.3 187.7h0M337.8 197.6h0M339.9 173.5h0M340.7 177.2h0M334.9 197.1h0M333.8 177h0M352.4 179.8h0M343 198.9h0M340.3 178.8h0M351.3 173.2h0M338.5 178.5h0M335.5 185.3h0M343.6 197.5h0M342.2 195.1h0M352.3 198.2h0M340 165.5h0M346.7 174.8h0M344.1 184.3h0M344.7 175.9h0M347.9 169.9h0M334.2 186h0M330.8 195.8h0M345.8 171h0M334.9 183.8h0M342.1 169.2h0M346 176.5h0M339.4 164h0M345.1 197.1h0M337 183.1h0M329.9 163.7h0M352.9 186.5h0M337.3 173.9h0M338.6 172.9h0M328 170.6h0M336.3 168.7h0M329.8 170.9h0M353.3 192.6h0M344.3 170.8h0M330.8 168.5h0"/><path id="y3" d="M341.3 189.2h0M333.9 179h0M338.4 189.5h0M338.6 191.4h0M348.4 182.2h0M333.1 181.6h0M330.4 177.3h0M342.3 176.5h0M350.1 181.8h0M330.4 181.7h0M337 191.9h0M344 177.4h0M341.2 199.9h0M346.3 165.1h0M334.5 180.8h0M347.9 196.8h0M340.2 197h0M335.1 188.9h0M330.4 187.7h0M343.1 166.4h0M343.2 186h0M332.8 196.7h0M332.4 194.9h0M345.4 187.6h0M344.7 185.8h0M335.7 181.5h0M346.3 195.7h0M343.3 175.4h0M350.2 174.2h0M338.9 196.5h0M334.2 193h0M339.2 169.1h0M343.7 169h0M353.7 178.3h0M336.8 194.7h0M350.7 187h0M329.7 169.3h0M327.5 191.7h0M348 177.8h0M327.2 188.2h0M327.1 186.3h0M337.1 178.2h0"/><path id="y4" d="M350.8 198.2h0M342.9 188.8h0M338.8 188.2h0M336.9 188h0M341.8 172.8h0M340.7 181.4h0M339.2 180.3h0M349.5 169.8h0M335.4 192.2h0M330.7 173.7h0M329.5 196.2h0M350.1 190.9h0M345.2 166.7h0M346.7 193.7h0M337.2 193.3h0M339.6 175.6h0M337.3 186.1h0M329.2 194.5h0M343.3 173.7h0M339.5 185.2h0M335.5 195.2h0M340.4 182.8h0M324.3 163.3h0M328.3 185.7h0M353.4 194.2h0M337.3 167.7h0M328.2 187.1h0M335.2 170h0M330 186.2h0M333.2 169.4h0M331.2 194.4h0M353.2 188.5h0"/><path id="y5" d="M332.8 179.9h0M341.7 179.7h0M341.7 197.8h0M350.3 188.7h0M338.9 186.5h0M351.4 180.8h0M349.2 178.7h0M341.4 174.4h0M350.6 194.4h0M346.2 198.3h0M341.5 186h0M349.8 172.7h0M345.5 179.8h0M352.5 183.7h0M347.4 171.9h0M350.5 183.8h0M350.2 192.4h0M346.6 178h0M351.1 185.1h0M350.7 177.6h0M337.3 176.7h0M351.4 189.4h0M326.4 166.7h0M330.9 172.1h0M351.6 191.4h0M336.5 166h0"/><path id="y6" d="M340.2 198.4h0M348.4 183.5h0M332.7 176h0M355.8 178.2h0M345.7 181.5h0M343.9 179.1h0M342.7 181.5h0M351.6 182.2h0M333.6 182.9h0M346.3 186h0M344.8 172.4h0M346.6 173.1h0M339.4 183.8h0M336.5 179.4h0M352.2 178.3h0M332.1 183.2h0M353.8 184.4h0M355.8 181.9h0M352.6 185.2h0M353.7 179.7h0M331.9 184.7h0"/><path id="y7" d="M350.5 171.4h0M348.5 180.1h0M336.9 190.1h0M342 182.6h0M348.3 186h0M339.4 193.7h0M338.9 181.9h0M338.7 171.2h0M353.5 181.6h0M329.4 167h0M351.9 171.8h0M348.6 175.1h0"/><path id="y8" d="M343.4 171.9h0M354.9 180.6h0M329.6 184.9h0M338 170h0M329.5 198.3h0M354.5 183.1h0M336.7 171.7h0M332.3 172.2h0"/><path id="z0" d="M318.3 174.1h0M328.4 176.1h0"/><path id="z1" d="M317.6 178.1h0M328.4 174.6h0"/><path id="z2" d="M322.2 171.8h0M319.3 171.3h0"/><path id="z3" d="M325.3 178.8h0M323.3 179h0"/><path id="z4" d="M325.2 177.5h0"/><path id="z5" d="M318 170.2h0"/><path id="z6" d="M324.9 172.2h0"/><path id="A0" d="M326.4 196.6h0M325.3 197.8h0M313.8 203.5h0M315.8 206h0M326.6 198.5h0M326.6 199.9h0M314.3 202.2h0M336.5 200.6h0M335.2 201.7h0M338 201.3h0M321.3 204.9h0M327.8 199.4h0M327.7 202.4h0M330.5 201.5h0M327.7 200.8h0M310.2 212.5h0M311.3 209.8h0M311.8 208.4h0M310.1 210.7h0M313.4 207h0"/><path id="A1" d="M323.5 197.9h0M338.5 198.8h0M331.4 205.6h0M322.6 196.3h0M313.1 200.5h0M314.8 204.7h0M330.8 207.3h0M316.6 203.8h0M339.6 201.8h0M324.7 199h0M331.1 197.5h0M336.7 206.3h0M319.3 194h0M323.2 202.4h0M333.8 204h0M334.9 204.9h0M323.5 205h0M334.4 199.8h0M337.3 204.3h0M315.6 209.9h0"/><path id="A2" d="M324.3 196.7h0M322.5 208.4h0M315.1 208.3h0M328 197.8h0M330.6 204.4h0M323.3 200.7h0M318.1 204.3h0M321.4 197.6h0M319 210.4h0M316.8 207.4h0M310.1 208.7h0M336.3 202.8h0M338.4 202.6h0M315.3 203.2h0M329 201.4h0M319.5 207.4h0M327.3 204.7h0M312.2 211.1h0"/><path id="A3" d="M314.8 206.9h0M315.1 200.4h0M329.3 207.1h0M333.7 207.5h0M319.2 203.3h0M319.6 205.3h0M321 209.2h0M323 206.2h0M317.7 202.9h0M325.3 207.9h0M313.2 208.7h0M326.4 201.5h0M329.2 203.6h0M326.5 203.4h0M313.8 210.1h0M318.2 208.2h0"/><path id="A4" d="M324 207.5h0M333.8 205.8h0M322 201.5h0M316.3 201.5h0M332.1 204.3h0M321.5 207h0M331.6 200.7h0M319.7 198.3h0M329.1 199.9h0M322.6 203.8h0M317.4 209.3h0M325.2 204.2h0"/><path id="A5" d="M314.8 198.4h0M332.2 207.2h0M322.8 199.1h0M330.9 199.1h0M324.8 205.9h0M331.5 202.4h0M318.5 206.2h0M324.1 203.5h0M328.7 205.3h0M308.6 211.4h0"/><path id="A6" d="M321.6 199.8h0M320.7 203h0M330 205.6h0M335 203.2h0M333.1 202.2h0M319.5 209.1h0M326.6 206.6h0M324.9 202.4h0"/><path id="A7" d="M324.7 209.3h0M319 199.8h0M318.4 201.4h0M324.7 200.7h0"/><path id="A8" d="M317.2 199.5h0M319.9 201.3h0M317.6 211.6h0"/><path id="B0" d="M321.5 190.2h0"/><path id="B1" d="M321 194.9h0"/><path id="B4" d="M325.5 194.2h0"/><path id="C0" d="M293.1 68.9h0M296.9 64.9h0M298.4 63.2h0M299 64.9h0M296.8 66.4h0M303.5 59.9h0M306.3 61h0M307 76.6h0M305.8 74.9h0M299.1 61.6h0M295.8 61.5h0M313 76.2h0M294.9 66.5h0M311.4 66h0M300.8 66.1h0M300.7 59.5h0M297.9 67.2h0M312 67.8h0M305 64h0M310.8 69.7h0M314.9 69.6h0"/><path id="C1" d="M296.3 72.3h0M294.1 70.6h0M297.2 61.7h0M307.1 62.1h0M313.3 74.6h0M294.5 69.1h0M311.2 64.6h0M303.8 62.8h0M295.5 67.8h0M301.2 61.3h0M299.2 67.9h0M299 69.6h0M302.2 74.7h0M295.6 64.8h0M294.6 62.9h0M293.1 64.6h0M312.3 69.6h0M302.9 65.6h0M314.6 66.9h0M309.7 70.9h0M313.8 68.5h0"/><path id="C2" d="M305.6 62.8h0M294.9 72.1h0M300.4 57.2h0M299.3 66.5h0M302.7 69.8h0M304.8 61.2h0M311.5 70.9h0M304.1 68.4h0M309.8 72.3h0M305.4 69.3h0M305.4 65.4h0M303 77.1h0M311.3 72.5h0M302.4 72.3h0M306.8 67.1h0M310.6 68.2h0M307.3 72.3h0M305.5 76.3h0"/><path id="C3" d="M296.5 63.1h0M305.4 72.2h0M314.4 72.1h0M300.6 64.6h0M308.8 63h0M301 67.5h0M294.1 67.7h0M309.8 63.9h0M300.2 63.3h0M305.8 77.8h0M304 73.7h0M307.1 69.5h0M301.6 62.7h0M303 64.1h0M303.1 61.5h0M302 59.9h0"/><path id="C4" d="M304.6 70.6h0M313.9 70.8h0M308.9 75.8h0M297.7 68.9h0M301.8 71.1h0M308.5 64.9h0M303.6 71.6h0M309.8 66.7h0M304 76.1h0M293.6 66h0M309 68.4h0M300.5 71.5h0"/><path id="C5" d="M296.1 70h0M311.6 77.5h0M306.6 70.9h0M311.6 75.6h0M297.2 70.9h0M312.9 72.6h0M310.9 74.1h0M309 73.4h0M306.3 73.5h0M299 75.5h0M301.2 76.5h0"/><path id="C6" d="M302.2 68.5h0M308.6 69.9h0M307.5 74.3h0M301 72.9h0M306.9 64.6h0M308.4 66.9h0M300.1 74.4h0M305.2 66.7h0"/><path id="C7" d="M310.3 76h0M308 71.1h0M300.7 69.8h0M299.6 72.9h0"/><path id="C8" d="M298.2 72.4h0M299.2 71h0M303.3 67.1h0"/><path id="D0" d="M276.7 271.8h0M266 271.7h0M274.5 270.3h0M274.8 273.8h0M267.1 270.1h0M272.8 270.7h0M262.6 271.2h0M273.2 269.4h0"/><path id="D1" d="M277.7 269.2h0M267.8 271.3h0M268.3 268.5h0M275.3 272.5h0M272.4 267.3h0M276.5 273.6h0M265.5 268.6h0"/><path id="D2" d="M278.2 271.6h0M271 268.7h0M274 271.5h0M269.2 271.8h0M270.8 271.4h0M264.2 269.3h0"/><path id="D3" d="M265.1 272.8h0M270.3 266.9h0M270.3 272.7h0M273.8 266.8h0M263.2 268.2h0"/><path id="D4" d="M276.3 270h0M275.2 267.3h0M262.3 269.4h0M264.7 271.1h0M273.9 268.2h0"/><path id="D5" d="M269.3 270.3h0M277.1 268h0M269.7 268.1h0"/><path id="D6" d="M275.2 268.8h0M272.8 272.8h0M268.5 267h0"/><path id="D7" d="M266.5 267.5h0"/><path id="D8" d="M261.4 267.1h0"/><path id="E0" d="M323.8 296.6h0M333.1 315.2h0M324.8 305.6h0M323.5 307.9h0M324.8 307.4h0M323.4 310.4h0M322.5 309.1h0M321.4 308.1h0M322.9 288.5h0M324.4 304.3h0M324.4 289.6h0M330.4 307.1h0M328.6 308.2h0M319.8 280.6h0M321.3 310h0M307.4 300.6h0M319.8 309.4h0M326.2 309.8h0M311.2 300.2h0M309.5 311.4h0M330.9 309.7h0M329.5 309.5h0M334.2 314.4h0M314.8 309.3h0M308.1 309.4h0M320.9 282.9h0M314.4 281.1h0M312.4 301.6h0M303.3 302.3h0M308.7 301.7h0M308.4 308h0M307.7 306.5h0M317.4 321.2h0M324.9 284.5h0M316.4 319.7h0M313.5 308.7h0M312.1 303.8h0M309.5 304.1h0M315.8 281.4h0M309.9 307.3h0M311.4 311.8h0M315.5 284h0M332.6 313.4h0"/><path id="E1" d="M305.6 305.7h0M332.2 306.4h0M325 308.9h0M326.4 306.6h0M316.2 286.9h0M321.8 306.5h0M322.9 302.8h0M318.2 278.3h0M318.7 306.6h0M329.8 317h0M331.9 319.1h0M321.1 281.2h0M317.9 308.4h0M322.6 280.5h0M327.1 293h0M310 301.3h0M326.4 285.8h0M324.5 298.6h0M318.3 280h0M315.2 320.5h0M328.6 311.5h0M323.2 301.3h0M324.6 300.3h0M325.7 299.5h0M332.5 309.7h0M305.5 302.8h0M305.8 300.1h0M316.9 318.2h0M324.2 291.3h0M310.3 303h0M317.9 284.3h0M315.2 311.9h0M307.8 305h0M309.5 309.3h0M313.4 306.8h0M316.4 313h0M326.3 290.8h0M314.3 282.6h0M334.3 317.7h0M316.4 285.2h0M312.6 305.3h0M331.4 311.1h0"/><path id="E2" d="M314.9 315.2h0M324 278.8h0M324.2 288h0M326.5 304.6h0M322.8 304.6h0M321.2 279.1h0M326.8 308.5h0M320.5 305.8h0M327.6 301.5h0M330.9 314.5h0M331 317.9h0M326.5 303.2h0M320 320h0M324.7 310.9h0M319.4 310.7h0M316.9 306.6h0M327.9 310h0M324.9 303h0M308.8 299.8h0M325.1 295.9h0M316.6 308.6h0M325.6 317.9h0M325.8 297.9h0M319.5 279.3h0M319.7 282h0M312.8 312.1h0M307.1 302.1h0M304.3 299.9h0M316.9 280.2h0M303.9 303.9h0M310.1 313h0M326.8 317.3h0M323.3 294h0M314.3 303h0M334.1 313h0M316.5 315h0M317.5 313.9h0M311.6 309.2h0"/><path id="E3" d="M334.3 316h0M321 277.7h0M325.4 315.7h0M304.7 298.4h0M331.7 316.3h0M333 317.5h0M328.6 315.2h0M321.6 315.6h0M317.8 309.8h0M327.7 294.8h0M317.6 311.4h0M326.4 295.9h0M315 285.4h0M319.7 318.4h0M322.5 313.8h0M326.8 315.4h0M315.3 307.9h0M322.9 299h0M326.5 313.8h0M328.3 317.8h0M322.6 282.1h0M323.3 284h0M325 286h0M321.3 287h0M313.1 317.7h0M327.9 316.4h0M314.5 304.9h0M318.4 282.9h0M324.9 282.6h0M304.8 301.3h0M317.3 281.7h0M303 300.8h0M309.1 305.5h0"/><path id="E4" d="M323.3 306.3h0M328.7 306.1h0M321.7 301.4h0M326 287.7h0M325.3 312.4h0M321.1 317.7h0M315.8 279.4h0M329.9 310.9h0M329.1 300.2h0M327.2 311.8h0M321.4 285.4h0M326 294.4h0M319.6 284.6h0M321.1 313.9h0M319.7 316.7h0M320.2 311.9h0M315.8 310.5h0M317.9 315.8h0M331.6 312.5h0M314.1 311h0M306.2 304.5h0M308.3 303.5h0M316.7 283.2h0M311.8 307.7h0M323.9 295.2h0M321.9 284.1h0"/><path id="E5" d="M332.8 308h0M317.7 285.9h0M320 307.9h0M328.4 304.3h0M323.2 312.3h0M306.9 298.7h0M313.6 313.6h0M319.4 321.3h0M318.8 287.5h0M330.3 313h0M329.1 297.8h0M322.6 278.8h0M318.6 320.1h0M310.8 310.5h0M315 313.4h0M325.5 301.4h0M312.8 310.4h0M315.5 317.6h0M310.9 305.1h0M324.8 293.3h0M331.3 308.3h0"/><path id="E6" d="M323.4 315.5h0M321.2 304.4h0M320.7 302.8h0M333.6 319.1h0M327 300.1h0M321.9 312.5h0M324.2 281.3h0M323 286.6h0M328.8 313.1h0M315.9 316.3h0M325.4 291.9h0M312 316.4h0M315.2 319.1h0M333.3 310.8h0M316 321.6h0M323.5 292.6h0M311.5 313.3h0"/><path id="E7" d="M319.7 286.4h0M330.5 301h0M325.1 313.7h0M318.5 312.5h0M318.6 317.6h0M329.9 299h0M327.8 298.3h0M327.5 296.9h0M314.4 316.9h0"/><path id="E8" d="M315 306.3h0M319.4 303.2h0M319.2 304.7h0M313.5 315.2h0M321.4 319.2h0M317.1 304.5h0M319.8 314.6h0"/><path id="F0" d="M322.4 295.7h0M320.1 288.1h0"/><path id="F1" d="M323.1 290.3h0M315 293.2h0"/><path id="F2" d="M312.9 290.7h0M319.1 289.4h0"/><path id="F3" d="M322.3 291.7h0"/><path id="F4" d="M316.5 300.7h0"/><path id="F5" d="M315.4 299h0"/><path id="F6" d="M316.7 295.1h0"/><path id="G0" d="M217 367.3h0M218.1 368.3h0M220.2 364.6h0M214.7 371.5h0M219.2 367.3h0M218.6 373.1h0"/><path id="G1" d="M222.9 369.7h0M222.9 365.1h0M224.1 370.6h0M220.1 368.4h0M219.7 365.9h0M217.9 364.1h0"/><path id="G2" d="M215.6 368.9h0M223.5 366.8h0M221.2 370.4h0M216.5 365h0M217.2 369.4h0"/><path id="G3" d="M222.2 373.8h0M217.8 366h0M218.9 369.9h0M217.7 371.1h0"/><path id="G4" d="M222.2 367.9h0M222.8 371.4h0M220.4 373.2h0"/><path id="G5" d="M221.4 369h0M221.2 365.7h0M215.9 370.3h0"/><path id="G6" d="M219.7 371.5h0M220.4 374.7h0"/><path id="G7" d="M220.8 367.2h0M221.6 372.2h0"/><path id="H0" d="M215.6 90h0M215.6 98.8h0M215.4 108.5h0M224.5 90.1h0M217.1 64.6h0M223.1 89h0M213.5 108.3h0M209.1 81.8h0M214 63h0M215.7 65.7h0M217 88.9h0M213.3 87.8h0M213.2 105.4h0M212.1 89.4h0M214.6 64.3h0M223.4 92.6h0M211.1 84.7h0M217.8 63.4h0M214.3 109.8h0M212.6 110.4h0M216.5 91.8h0M216.1 69.7h0M219.9 90.4h0M220.1 88.7h0M211.2 98.6h0M224.8 93.5h0M217 71.3h0M220.3 86.9h0M220.7 91.9h0M212.6 84.5h0M217.8 86.4h0M217.6 90.5h0M215.6 93.1h0M211.7 100.4h0M218.3 93.4h0M218.6 64.7h0M212.9 101.5h0M223.4 94.4h0M208.7 73.6h0M213.1 81h0M211.8 102.3h0M217.3 99.8h0M211.4 70.5h0M221.2 67.3h0M221.3 94.7h0M217.2 98.1h0M217.8 69h0M221.8 96.1h0M220.6 97.5h0M214 94.8h0M220.1 95.8h0M218.4 97h0M213.4 71.2h0"/><path id="H1" d="M216.2 62.9h0M222.8 81.4h0M225.3 91.9h0M223.2 91h0M214.7 87.5h0M215.3 61.8h0M213.3 106.9h0M211.6 107.8h0M212.2 109h0M221.8 105.5h0M212.3 91.4h0M222 88.2h0M216.2 84.4h0M229.9 83.1h0M210.7 82.7h0M216.7 87.5h0M214.1 66.9h0M211.3 105h0M214 72.7h0M221.3 90.1h0M223 68.1h0M224.3 78.9h0M227.1 87.7h0M222 92.6h0M213.6 103.7h0M224.2 97.9h0M222.6 78.5h0M218.7 91.4h0M214.8 100.6h0M217.8 75.9h0M215.2 68.6h0M213.9 82.8h0M215.8 60.2h0M209.7 97.7h0M225.2 67.5h0M215.1 73.7h0M214.4 70.1h0M220.4 85h0M215.3 102.4h0M225.4 95.2h0M215.4 95.1h0M219.5 71.9h0M209.9 72.2h0M213.5 90.7h0M214.3 99.4h0M213.7 93.4h0M222.5 66.8h0M219.5 94.6h0M207.8 75.2h0M212.9 96.9h0M216.1 101.2h0M214.3 96.9h0M229.4 86.3h0"/><path id="H2" d="M216.1 72.5h0M215.8 80.8h0M224.5 81.4h0M226.2 72.5h0M213.8 89.2h0M215.9 85.9h0M211.7 87.4h0M213.3 85.9h0M211.2 81.4h0M214.4 84.3h0M215.5 106.6h0M228.4 83h0M228.9 80h0M212.8 62.1h0M216.7 105.8h0M228.7 67h0M219 85.3h0M222 69.8h0M227.5 79.6h0M216.4 68h0M218.8 89.5h0M225.5 77.9h0M220.7 76.1h0M211 92.4h0M221.9 104.1h0M229 71.9h0M212 73.2h0M222.8 101.2h0M210.4 88.7h0M217.6 74.1h0M216 75.5h0M220.2 93.2h0M217.5 80.3h0M211.7 103.7h0M229.2 81.7h0M221.5 79.9h0M212.7 98.6h0M211.7 65.7h0M220.1 73.2h0M219.1 100.2h0M218.4 67.6h0M209.1 88.4h0M226.5 63.7h0M210.2 86h0M222.5 97.3h0M217.8 72.5h0M219.8 67.4h0"/><path id="H3" d="M225.9 80h0M224.1 88.1h0M223.1 64.1h0M222.6 84.9h0M226.4 86.1h0M217.9 78.3h0M210.6 90.5h0M223 87h0M219.8 63.6h0M221.5 65.8h0M217.5 66.2h0M225.6 87.2h0M219.2 80.6h0M210.6 106.3h0M222.9 80h0M229.7 85h0M213.5 79.7h0M225.6 76.3h0M211.7 63.4h0M222.5 74.7h0M224.4 68.6h0M211.3 61.1h0M228.7 78h0M210.3 73.7h0M213.2 64.6h0M219 87.2h0M228.5 76h0M210.3 64.1h0M223.3 76.4h0M219.7 61.9h0M212.8 69.8h0M213.4 68.1h0M211.9 71.8h0M216.8 94.3h0M210.8 75.3h0M211.3 96.6h0M210.2 65.6h0M218.4 70.6h0M218.6 98.7h0M208.6 66.6h0M206.9 87.8h0M215.2 71.4h0"/><path id="H4" d="M226.2 90.1h0M225.2 83.4h0M225.3 64.7h0M226 81.6h0M222.2 83.2h0M223.6 73.3h0M212.4 82.6h0M214.6 91.8h0M218.8 105.9h0M217.6 84.9h0M227.5 89.2h0M216.9 77.1h0M221.5 85.9h0M220 65.7h0M223.7 62.7h0M220.8 101h0M215.4 105.1h0M216.6 103.8h0M212 67.2h0M221.1 68.7h0M223.9 100.2h0M219.8 79.1h0M211.7 93.9h0M219.6 69.3h0M217.9 95.1h0M212.4 60h0M213.1 78.1h0M220.2 99.3h0M211.5 69h0M209.8 91.5h0M215.7 97h0M219.8 82.3h0"/><path id="H5" d="M217.7 81.7h0M226.7 84.2h0M220.7 81.2h0M227.5 82h0M219.9 83.6h0M218.3 62.1h0M227.1 73.9h0M219.5 77.3h0M213.7 74.1h0M226.9 65.3h0M228.7 87.5h0M214.9 79.8h0M210 103.4h0M219.2 102.2h0M210.2 94.3h0M227.3 78h0M215.6 77.1h0M217 61.2h0M222.4 62.1h0M219.4 75.2h0M217.1 102.2h0M209.6 61.2h0M211.8 76.8h0M216.6 95.8h0M212.3 95.6h0M207.1 68.5h0"/><path id="H6" d="M214.4 81.4h0M218.5 82.9h0M225.2 73.5h0M223.7 65.9h0M227.6 72h0M226.3 75h0M225.8 88.6h0M227.6 70.5h0M220.6 71.1h0M227.1 76.2h0M221 62.4h0M221.1 102.5h0M227.9 85h0M225 66.1h0M223.7 96.2h0M221.3 64.3h0M227.9 86.3h0M222.1 99.2h0M214.1 76.4h0M213 75.6h0M208.4 85.6h0"/><path id="H7" d="M224.3 71.7h0M224.5 85.3h0M216.1 82.6h0M222.6 71.8h0M220.1 103.6h0M221.5 73.4h0M218.5 104.5h0M213.7 61h0M228.9 70.5h0M226.3 68.7h0M221.1 74.7h0M221.2 77.8h0"/><path id="H8" d="M216.6 79.2h0M223.7 70.2h0M223.5 83.3h0M215.1 78.5h0M225.8 70.5h0M224.7 75.3h0M227.2 67.3h0M227.7 69h0"/><path id="I0" d="M197.5 80.7h0M180.8 73.5h0M198.3 73.8h0M208.2 97.6h0M171.6 82h0M159.4 90.6h0M179.7 94.6h0M199.1 86.6h0M171.5 88.1h0M180.4 88.5h0M181.1 78.7h0M171.5 80.2h0M176.5 87.8h0M188 73.1h0M196.7 73.6h0M162.5 86.8h0M196.4 57.1h0M181 75.2h0M177.9 87.3h0M194.1 86.4h0M179.1 77.1h0M163.6 85.1h0M159.5 88.6h0M191.1 76h0M204.4 78.4h0M184.4 88.5h0M201.3 98.5h0M181.5 95.4h0M185.8 97.6h0M183.9 87.2h0M196.3 85.3h0M164.2 86.7h0M202.8 99.4h0M199.7 102.8h0M168.4 80.6h0M205.6 77.5h0M163.5 88.3h0M177.5 77.5h0M208.7 95h0M171.9 78.6h0M173.3 87.2h0M186.8 80.3h0M167.1 83.3h0M177.9 79.4h0M197 75.1h0M199.8 83.9h0M201.8 83.7h0M186.1 88.1h0M201.1 104.3h0M200.2 61h0M187.9 89.1h0M159 85.6h0M161.1 86.9h0M173.4 82h0M185.5 93.5h0M188.5 95.2h0M159.5 87.2h0M187.1 78.9h0M167.7 84.8h0M204.4 103h0M203.1 104.2h0M188 91h0M186.7 86.1h0M161.6 95.7h0M177.1 81.4h0M176.2 86.1h0M163.3 83.7h0M178.7 82.5h0M194.7 56.9h0M210.5 101.4h0M202.2 105.3h0M191.2 80.1h0M171.5 83.7h0M190.6 95h0M176.5 79.2h0M185.4 86.8h0M175.3 81.4h0M175.6 77.4h0M211.4 78.3h0M193.9 98h0M195 85h0M189.1 79.5h0M192 82h0M207.9 101.7h0M170.4 78.2h0M192 84h0M189 93.7h0M164.4 82.8h0M173.2 78.2h0M191.4 65.5h0M174.8 78.7h0M187.3 93.2h0M206.8 100.5h0M193.6 82.6h0M190.5 78.9h0M192.4 97.7h0M208 99.5h0M186.8 67.3h0M203.4 60.1h0M194.2 99.6h0M185.5 95h0M193.4 95.4h0M207.5 76.7h0M194 96.6h0M197.8 76.8h0M207.7 89.2h0M192.9 99h0"/><path id="I1" d="M179.5 72.5h0M189 98.9h0M197.7 90.2h0M200.5 91.1h0M196.6 88.1h0M196 97.9h0M198.5 88.2h0M200.2 88.3h0M177.8 94.3h0M179.1 75h0M197.9 96.7h0M183.8 80.9h0M178.1 89.1h0M160.3 92.1h0M179.7 86.9h0M199.7 101.2h0M185.5 69.5h0M187.2 82.2h0M205.7 73.2h0M181 86.2h0M184.3 72.4h0M181.6 92.6h0M180.3 79.9h0M208.6 79.3h0M204.9 74.3h0M184.6 74.2h0M189.6 75.2h0M190.6 74.1h0M201.3 89.5h0M195.1 60.8h0M199.2 71.5h0M183.7 93.2h0M156.5 90.4h0M207.7 96.1h0M197.6 95.2h0M182.7 94.2h0M161.9 85.5h0M177.9 85.4h0M186.2 89.7h0M156.9 87.8h0M210.3 108.9h0M158.3 91.8h0M178.1 76h0M186.8 68.8h0M165.8 96.8h0M201.8 101.3h0M182.1 82.1h0M160.3 94.6h0M195.7 79.6h0M208.3 61.5h0M191.1 89h0M169.7 79.8h0M186.1 77.2h0M159.4 83.8h0M188.4 68.4h0M165.9 85.8h0M166.3 81.5h0M203.4 77h0M198.2 61.3h0M170.4 86.9h0M164.9 84.2h0M162.5 82.4h0M190.9 91.2h0M184.1 96.9h0M204.9 83.7h0M192.9 85.2h0M181.2 96.8h0M191 71.4h0M199.2 62.9h0M181.1 83.3h0M189.7 66h0M186.9 94.6h0M170.1 84.3h0M189.9 77.5h0M189.6 67.7h0M204.3 86.2h0M210 80.5h0M207.4 84.5h0M203.3 75.4h0M187.1 97.4h0M160.3 85.2h0M193.4 77.4h0M206.3 103.1h0M206 84.9h0M202.4 87.7h0M188.4 70.1h0M193.1 73.1h0M202.2 97.3h0M200.3 95h0M195.2 80.9h0M206.9 85.9h0M191.1 67.4h0M209.9 78.6h0M190.7 61.4h0M202.3 59.1h0M210.1 76.9h0M201 71.2h0M194.7 76.8h0M197.1 78.1h0M198.7 77.9h0M201.3 69.6h0M208.5 72h0M192.6 79.8h0M205.3 87.2h0M205.1 65.6h0M206.8 67h0M200.6 62.7h0"/><path id="I2" d="M161.4 90h0M179.4 81h0M188.2 81.1h0M206.9 72.1h0M199.5 89.5h0M180.3 91.9h0M195.7 90h0M199 91.2h0M204.9 98.8h0M179.4 93h0M198.7 97.9h0M189.4 73.2h0M195.8 100h0M180.9 72h0M162.5 96.7h0M197.8 100.4h0M176.6 90.6h0M186.9 70.2h0M199.2 92.6h0M168.7 90.4h0M205.4 79.6h0M160.5 96.7h0M183.3 79.6h0M188.6 97.3h0M191.9 100h0M197.6 82.3h0M205.1 107.7h0M194.3 91h0M179.2 78.8h0M188.3 65.3h0M164 92.4h0M197.3 102.2h0M208.4 83h0M181.9 84.6h0M200.2 93.5h0M176.8 75.1h0M183 97.9h0M195.7 87h0M186.8 75.9h0M207.7 78.2h0M206.8 62.1h0M186.6 91.9h0M188.1 77.9h0M190.3 85.5h0M169.8 82.8h0M200.4 55.9h0M203 102.4h0M209.1 107.4h0M156.8 94.1h0M196.4 76.4h0M167.4 86.6h0M196.2 96.1h0M195.7 67.2h0M205.9 104.6h0M206.6 106.8h0M166.9 97.7h0M211.5 79.7h0M202.8 81h0M188 85.5h0M193.8 59.1h0M196.9 92.9h0M184.9 84.6h0M176.1 82.8h0M194.4 83.7h0M192.3 78.3h0M199.1 75.7h0M192.2 61.8h0M192 95.6h0M201.8 93.5h0M200.8 76.5h0M192.3 59.2h0M194.6 101h0M193.1 68.6h0M208.3 91.4h0M190.7 58.4h0M196.2 82h0M202.8 57.8h0M185.9 83h0M202.3 61.9h0M206.2 75.1h0M175.2 80.1h0M189.1 88.2h0M203.2 83.4h0M195.1 63.4h0M209.2 75.5h0M199.8 69.6h0M192.5 56.6h0M201 79.4h0M202.3 67.2h0M203.9 88.4h0M208.2 70.4h0M200.1 64h0M198.5 66.9h0M201.8 75.1h0M204.5 104.6h0"/><path id="I3" d="M170.3 81.2h0M207.1 108.2h0M186.4 71.7h0M172.1 90.2h0M162.1 91.2h0M203.7 98.2h0M181.6 89.4h0M162.2 93.2h0M196 72.2h0M201.1 102.8h0M176.3 92.9h0M168.4 82h0M171.7 86.4h0M158.2 90h0M168.3 88.8h0M198.6 59.9h0M182.5 77.9h0M183.5 75.3h0M192.2 74.2h0M198.3 85.1h0M192.5 90.2h0M206.7 82.5h0M201 87h0M185.5 91.1h0M197.7 87h0M161.5 83.6h0M209.5 99.2h0M165.1 94h0M195.5 74.5h0M185.3 75.4h0M207 94.7h0M198.2 57.3h0M205.3 94.6h0M188.9 83h0M174.9 89.3h0M203.7 100.7h0M203.6 82h0M178 83.8h0M198.1 83.7h0M204.2 61.4h0M209.9 105.1h0M164.2 81.4h0M201.9 56.5h0M169.1 95.1h0M182.9 96.1h0M186.1 81.5h0M188.4 76.3h0M186.9 84h0M207.8 63.1h0M183.2 85.2h0M203.5 106.4h0M168.7 83.8h0M196.1 62.4h0M191.7 63.3h0M202 60.5h0M202.8 91.5h0M191.6 69h0M205.2 105.9h0M201 58.1h0M191.1 98.9h0M200.7 59.4h0M185.7 78.6h0M191.7 93.3h0M205.9 95.9h0M196.5 64.4h0M209.2 90.2h0M199.9 74.5h0M198.4 70.1h0M193.1 81.2h0M173.6 84.4h0M189.4 91.3h0M209.1 96.4h0M174.8 87.2h0M200.4 80.7h0M173.3 94.7h0M195.3 65.6h0M172.3 85.1h0M207.2 73.8h0M205.4 71.7h0M202.8 78.2h0M203.6 65.2h0M197.8 68.1h0M195.3 71h0"/><path id="I4" d="M188.4 71.7h0M189 89.9h0M197.3 71.9h0M207.2 80.8h0M180.5 82h0M169.8 88.3h0M199.5 99.5h0M181.8 80.5h0M174.7 91.3h0M183 89.9h0M182.7 88.1h0M163 98.1h0M181.1 77.3h0M200.2 85.7h0M197.7 58.7h0M164 96.8h0M209.6 84.1h0M201.1 99.9h0M192.1 86.4h0M157.5 84.6h0M157.8 86.5h0M198.4 55.8h0M183.7 68.8h0M183.6 83.1h0M167.1 91h0M188.5 66.8h0M190.8 87.2h0M175.7 94.4h0M204 71.9h0M199 95.7h0M207.6 104.3h0M164 99.1h0M174.3 83.2h0M198.7 94.2h0M188.6 92.4h0M169.8 92.9h0M190.1 81.5h0M184.7 76.7h0M194.2 79.4h0M191.1 59.9h0M175 84.5h0M208.3 103h0M188.2 87.1h0M184.2 95.4h0M173.5 79.9h0M172.4 91.5h0M204.8 59.8h0M174.1 85.8h0M195 78.3h0M207.7 93.3h0M193.8 63.8h0M200.3 78.3h0M189.5 86.8h0M207 65h0M192.5 67h0M206.8 70h0M193.5 62.4h0M200.4 73.2h0M193.6 60.9h0M199.2 80h0M196.8 66.4h0M193.4 65.4h0M204.2 58.5h0M189.6 70.9h0M209.1 92.9h0"/><path id="I5" d="M179.7 90.6h0M197.4 62.8h0M206.5 63.6h0M206.7 98.9h0M177.9 73.6h0M206.7 79.1h0M190.3 97.8h0M191.4 72.8h0M184.7 70.9h0M192.4 71.8h0M162.1 88.5h0M194 71.7h0M189.5 96.3h0M183.2 73.6h0M163.4 90.2h0M205.5 81.7h0M180.7 93.6h0M188.1 75h0M180 84.9h0M184.7 89.9h0M194.4 73.5h0M178.2 91h0M168.4 92h0M192.7 88.3h0M176.7 84.6h0M182.3 72.2h0M179.8 97.3h0M196.2 69.1h0M165.2 95.5h0M204.6 63.3h0M159.5 93.3h0M199.6 58.1h0M199.9 96.9h0M184.9 79.8h0M157.6 83.2h0M190.1 64.6h0M204.4 80.8h0M169.2 86.1h0M171.9 94.3h0M190.7 82.8h0M198.9 81.9h0M198.1 64.3h0M184.6 82h0M194.3 94.2h0M203.3 79.6h0M190.4 92.5h0M202.7 68.9h0M203.1 63.5h0M204.2 67.5h0M210.1 67.1h0M193.5 93.1h0M205.3 62.2h0M201.7 63.5h0"/><path id="I6" d="M170.3 89.7h0M197.5 98.8h0M196.9 91.5h0M196.7 70.4h0M176.6 95.7h0M170.1 91.3h0M194.9 88.2h0M194.3 89.6h0M182.2 91.2h0M206.4 97.3h0M178.1 92.5h0M168.6 96.7h0M208.6 105.8h0M171.1 92.6h0M194.1 75.5h0M195.1 92.5h0M194 70.3h0M189.6 69.4h0M205.2 100.5h0M195.9 58.5h0M192.4 75.6h0M196.1 83.6h0M202 86h0M173.2 89.3h0M201.5 96h0M184.4 78.3h0M203.2 84.9h0M167 94.7h0M165.4 91.7h0M193.5 57.7h0M204.5 89.9h0M182.5 86.4h0M201 82.2h0M186.2 96.2h0M172.9 92.8h0M206.2 89h0M208.9 100.5h0M204.2 69.3h0M205.1 75.9h0M176.6 89.2h0M199.6 65.9h0M208.4 87.2h0"/><path id="I7" d="M207 90.5h0M185.9 73.8h0M196 94.4h0M174.4 93.6h0M183.2 76.7h0M201.6 92.2h0M205 97.2h0M166.4 92.8h0M208.7 109.6h0M195 95.7h0M194.3 67h0M203.2 70.6h0M203.5 95.9h0M167.1 96.1h0M205.6 91.7h0M205.1 70.4h0M203.4 93.7h0M194.7 68.3h0M205.6 69h0M202.5 72.3h0M210 69.9h0M208.4 64.4h0M209.5 68.5h0M201.5 64.8h0"/><path id="I8" d="M196.6 61h0M182.1 70.8h0M184 91.3h0M186.9 99h0M192.6 70.1h0M167.9 93.5h0M170.7 95.8h0M193.1 91.7h0M189.4 84.3h0M209.2 62.7h0M203.1 89.6h0M206.1 93.1h0M202.3 73.7h0M170.2 94.2h0M204.3 92.3h0M200.4 67.7h0M201 66.1h0"/><path id="J0" d="M170.3 144.1h0M197.2 151.7h0M169.9 145.4h0M192.8 154.5h0M170.4 148.8h0M168.3 140.9h0M177.4 148.3h0M178.2 142h0M173.3 149.4h0M172.5 146.4h0M171.8 148h0M173.7 139.6h0M179.4 141.3h0M177.3 151.7h0M182.1 150.7h0M185.6 154.1h0M182.1 153.4h0"/><path id="J1" d="M170.7 152.7h0M197.9 153.4h0M199.2 152.2h0M169.3 142.6h0M171.4 138.2h0M197.2 154.8h0M196.1 150.8h0M175.2 146.8h0M168.2 144.4h0M173.7 141.3h0M169.3 149.6h0M182.3 141.5h0M179.3 148.8h0M175.4 151.3h0M187.3 149.5h0M176.6 140.3h0"/><path id="J2" d="M171.3 136.6h0M175.2 144.8h0M171.8 145h0M193.6 153.1h0M172.3 151.5h0M174.6 142.5h0M177.2 146.9h0M176.4 138.7h0M192.2 151.3h0M171 146.3h0M178.8 139.1h0M188.4 151.3h0M176 154.3h0M173.9 152.4h0M185.7 151.9h0"/><path id="J3" d="M169 153.2h0M195.9 152.9h0M170 140.7h0M173.9 145.9h0M169.2 151.8h0M194.5 155.3h0M175.1 148.8h0M173.9 150.8h0M177.8 149.8h0M172.4 152.9h0M180.8 141.3h0M183.2 149.8h0M186.8 152.9h0"/><path id="J4" d="M170 138.5h0M170.7 150.8h0M177.5 137.5h0M179.7 142.6h0M174.9 138h0M197.8 156.3h0M175.2 140.1h0M174 147.9h0M174.6 154.4h0M176.4 149.7h0"/><path id="J5" d="M171.3 140.2h0M172 149.9h0M176.4 141.7h0M177.6 153.7h0M173.3 143.8h0M178.2 140.4h0M182.8 143.1h0M180.9 151.2h0"/><path id="J6" d="M180.9 139.9h0M171.2 142.1h0M173.1 138.3h0M183.9 141.7h0M172 143.4h0M187 150.9h0"/><path id="J7" d="M194.1 151.7h0M184.2 140.3h0M172.8 142.3h0M185 150.7h0"/><path id="J8" d="M191.9 152.8h0M182.3 139.4h0"/><path id="K0" d="M179.9 162h0M188.9 161.7h0M178.5 161.2h0M198.4 172.7h0M180.4 160.1h0M181.2 158.6h0M181.7 162h0M198.6 174.2h0M196 161.8h0M208.1 172.6h0M178.4 163.5h0M181.6 156.1h0M193.6 159.6h0M177 162.2h0M179.5 158.1h0M177.7 164.6h0M189.1 160.2h0M174.8 162.2h0M192.9 162h0M178.1 158.2h0M194 167.4h0M198.7 169.5h0M183.9 164.9h0M201.3 154.6h0M192.2 160.7h0M196.9 163.1h0M191.7 168.4h0M187.4 162.3h0M183.9 159.4h0M179.1 164.7h0M194.6 164h0M188.1 163.8h0M185.2 166.7h0M186.2 159.9h0M184.8 163.8h0M192.2 165.2h0M185.7 156h0M183.4 152.2h0M192.2 156.3h0M187.3 157.1h0M187.2 158.5h0"/><path id="K1" d="M179.6 152.7h0M199.9 153.7h0M196 160.4h0M200.8 159.4h0M190.4 161.1h0M180.5 163.4h0M182.4 163.6h0M201.6 172.7h0M178.8 159.5h0M182.8 157.8h0M194.3 161.1h0M201.3 168.8h0M173.4 159.9h0M200.5 169.9h0M187.3 168.8h0M194.4 162.5h0M184.2 158h0M183.8 162.9h0M190.5 159.6h0M177 155.2h0M193.7 168.8h0M176.2 152.5h0M200.3 157.6h0M187.4 160.6h0M181 152.6h0M193 175.9h0M185.9 162.8h0M185.8 165.1h0M184.7 160.9h0M176.4 159.5h0M172.8 155.5h0M193.6 158.1h0M175.9 163.1h0M187.3 164.9h0M190 166h0M189.8 163.4h0M188.9 157h0M190.4 157.5h0M188.4 159h0M193.6 156.7h0"/><path id="K2" d="M198.6 154.7h0M205 171.8h0M202.5 164h0M201.9 160.1h0M201.2 165h0M202.5 161.5h0M204.7 174.3h0M196.9 175.9h0M195.3 159h0M188.6 169.6h0M195.7 173.8h0M201.4 179h0M206.6 174.8h0M201.8 177.3h0M199.8 164.4h0M202.6 168.5h0M178.3 155.6h0M196.2 177.5h0M176.4 164.5h0M196.2 166.7h0M198.8 157.5h0M202.6 175.4h0M193.7 170.6h0M194.3 173.1h0M183.6 156.3h0M179.2 150.9h0M192.4 158.9h0M177.2 156.6h0M194.3 165.8h0M190 168.4h0M192.9 166.4h0M203.5 165.1h0M188.2 155.6h0M185.5 157.6h0M200.9 167.5h0"/><path id="K3" d="M189.2 171.5h0M198.2 171h0M206.5 171.5h0M171.4 153.9h0M197.7 159.2h0M173.1 154h0M199.9 173.7h0M200 175.3h0M198.9 176.2h0M202.8 174.1h0M193.9 174.9h0M181.9 160h0M170.6 157.5h0M203.2 179.2h0M208.3 177.6h0M187.3 154.3h0M197.2 168.8h0M203.1 171.2h0M183.2 161.7h0M191.3 154.4h0M203.2 159.4h0M195.7 168.3h0M199.5 158.9h0M181 154.7h0M199.2 168.1h0M186.6 167.6h0M176.3 157.8h0M191.5 167h0M190.6 156.1h0M188.6 165.3h0M193 173.2h0M182.4 154.8h0"/><path id="K4" d="M206.5 173.1h0M195.3 171.6h0M199.7 171.5h0M200.8 162.8h0M204.3 178.2h0M201.9 180.5h0M197.5 157.8h0M170.9 155.7h0M207.2 176.5h0M201.5 170.9h0M199.3 156h0M203.2 176.7h0M202.5 169.9h0M198.4 163.1h0M176.8 160.8h0M180.2 156.6h0M190.6 172.5h0M192.9 164.1h0M195.8 164.8h0M190.4 170.6h0M197.7 164.8h0M190.9 164.4h0M187.7 166.3h0M184.4 153.1h0"/><path id="K5" d="M188.8 153.1h0M179.6 154.5h0M205.1 176.7h0M200.3 180.2h0M202.8 155.9h0M200.3 178.1h0M204.3 170.3h0M201.3 174.9h0M180.1 165.6h0M201.1 156h0M181.9 166.1h0M197.6 167.5h0M192.2 171.8h0M174.8 160.8h0M185.5 168.8h0M191.3 162.3h0M194.9 157.5h0M192.1 169.8h0M184.2 154.6h0M181.6 164.8h0"/><path id="K6" d="M198.1 161.8h0M196.7 172h0M206.1 178.1h0M197.2 173.9h0M196.1 170.4h0M200.7 160.8h0M172.3 157h0M199.3 179.3h0M195.9 156h0M195.1 169.5h0M202 166.6h0M174.9 159.3h0M175.5 156.6h0M188.8 167.4h0M198.3 166.1h0M191.5 173.9h0"/><path id="K7" d="M199 160.5h0M199.6 162.1h0M203.5 172.6h0M187.8 171.2h0M174 156.7h0M201.6 157.6h0M195.3 176.1h0M173.3 158.3h0M189.3 154.7h0"/><path id="K8" d="M195.3 154.2h0M197.3 178.6h0M198.3 177.7h0M200.4 176.6h0M188.4 172.6h0M200 166h0"/><path id="L0" d="M44.7 270h0M56.1 270.9h0M37.8 251.1h0M55 269.5h0M43.4 270.7h0M52.2 268.7h0M42.1 262.4h0M41.9 257.2h0M38.7 269.5h0M42.6 255.6h0M40.3 263.6h0M41.9 261.1h0M47.8 268.7h0M54 267.6h0M41.4 269.6h0M52.6 262.1h0M46.3 270.1h0M41.7 263.8h0M45.3 272.1h0M52.7 265.3h0M50.2 264.6h0M40.2 265.1h0M47.6 270.7h0M51.1 261.2h0M45.3 268.8h0M39.9 266.7h0M51.4 265.7h0M55.3 266.9h0M51.5 264.2h0M38.8 264.6h0M58.8 269.8h0M39 259.5h0"/><path id="L1" d="M54.2 270.6h0M43.3 269.2h0M45.9 262.3h0M45.9 264.4h0M42.7 252.3h0M45.3 255.6h0M43.6 258.2h0M43.8 250.9h0M53.6 269.3h0M44 254.8h0M58.6 268.4h0M56.5 268h0M54.6 259.8h0M44.7 259.2h0M42.6 265.6h0M40.5 262.2h0M49 263.7h0M41.4 266.9h0M42.1 249.8h0M40.7 260.3h0M48.3 262.3h0M40.4 258.2h0M49.2 267.4h0M59.2 271.3h0M50 260.2h0M53 263.8h0M59.4 264.6h0M57.1 266.6h0M35.2 258.4h0M55.4 263.9h0M52.5 259.9h0"/><path id="L2" d="M33.8 251.4h0M46 266.4h0M57.7 270.9h0M33.9 249.5h0M34.6 262.7h0M31.5 258h0M35.7 264.2h0M47 263.2h0M47.5 266.3h0M54.2 265.6h0M37 252.4h0M50.1 268.8h0M49.5 261.5h0M50.5 262.6h0M48.8 265.5h0M50.9 267.5h0M52.9 266.8h0M39 267.8h0M38.9 263h0M38.3 266h0M36.9 265.7h0M58.7 267h0M39.1 261.1h0M51.4 259h0M38 254.9h0M40.2 254.4h0M36.6 259.3h0M38.1 248h0"/><path id="L3" d="M35.4 251.9h0M28.9 251.6h0M32.3 252.2h0M43.7 262h0M44.4 265.3h0M46.3 267.8h0M33.5 256.1h0M30.2 261.3h0M42.2 258.8h0M33.9 257.7h0M43.5 263.9h0M32.6 262.8h0M42.1 253.9h0M35 248.4h0M35.4 255.8h0M40 268.9h0M60.7 269.7h0M33.6 264.1h0M29.4 260.2h0M41.1 255.7h0M34.8 254.4h0M37.7 260.8h0M58 264.8h0M38.5 252.3h0M50.1 266.1h0"/><path id="L4" d="M46.2 259.3h0M32.1 253.8h0M46.7 254.5h0M31.2 262.6h0M57.3 269.2h0M47.4 264.8h0M44.7 266.7h0M47.7 258.1h0M31.7 264.7h0M44.9 263.3h0M29 257.6h0M64.7 268.2h0M34 266h0M38.7 258.2h0M32.6 265.8h0M36.5 257.8h0M38.7 253.7h0M37 262.7h0M56.5 265.3h0"/><path id="L5" d="M36 261.1h0M42.7 267.5h0M36.3 250.1h0M30.8 251.5h0M32.7 250.1h0M43.4 259.7h0M29.2 253.4h0M44.2 268h0M27.6 254h0M30.6 259.5h0M48.6 259.9h0M40.8 253.2h0M37.5 268.1h0M34.4 268.1h0M37.9 256.5h0M37.5 264.4h0"/><path id="L6" d="M45 260.7h0M46.1 257.3h0M33.5 253.5h0M30.1 250.3h0M49.1 269.8h0M30 254.5h0M32.1 261.2h0M30.3 257.2h0M39.8 251h0M34.6 259.7h0M35.5 266.5h0M40.7 248.8h0"/><path id="L7" d="M34.1 261.4h0M31.7 255.2h0M28.4 256h0M47.5 261.2h0M32 256.8h0M39.7 256.1h0M30.9 253.1h0"/><path id="L8" d="M31.4 249.6h0M32.6 259.5h0M35.7 253.4h0M36.7 254.5h0M32.8 248.1h0"/><path id="M0" d="M62.6 243.3h0M69.9 234.6h0M63.6 242.1h0M63.4 246.9h0M55 241.6h0M61.3 243.9h0M60.2 236.9h0M60.8 232.2h0M59.5 232.8h0M65.3 243.8h0M69.5 239.9h0M65 245.3h0M66.9 241h0M71.7 236.1h0M61.3 242h0M68.7 237.8h0M59.3 238.7h0M58.4 237.6h0M56.9 238.7h0M73.4 256.4h0M79.1 260.7h0M68 233.9h0M67.3 235.2h0M67.3 231h0M65.5 230h0M61.7 239.4h0M65.9 231.4h0M68.1 244.8h0M78.3 259.3h0M77.8 256.6h0"/><path id="M1" d="M62.7 234.3h0M72.2 242.8h0M61.3 248.7h0M64.6 247.9h0M53.3 240.3h0M65.5 246.8h0M68.6 241.4h0M65.6 239.4h0M71.3 238.1h0M69.7 236.6h0M60.8 238.4h0M58 236.2h0M67.2 239.4h0M62.4 232.3h0M65.9 248.9h0M73.9 250.8h0M72 255.7h0M58.1 240.3h0M64.8 235.6h0M62.8 238.3h0M63.7 233.1h0M66.3 245.3h0M64.6 237.1h0M75.3 261.4h0M56.3 241.1h0M74.8 251.9h0M67.5 236.9h0M69.8 247h0M77.8 262.2h0"/><path id="M2" d="M71.3 234.3h0M63.9 251.5h0M70.6 241.4h0M65.5 241.9h0M56 236.9h0M59.7 234.4h0M66.8 244h0M73.3 254.4h0M71.7 231.6h0M71.9 246.4h0M57.6 234.1h0M70.9 250.2h0M54.6 238.5h0M59.4 241.1h0M68.2 247.8h0M59.3 243.3h0M78.5 255.4h0M64.8 232.3h0M58.2 241.8h0M68.9 256.4h0M72.5 244.3h0M66.8 228.9h0M75.6 256.7h0M68.3 229.7h0M68.2 251.4h0M77 254.8h0"/><path id="M3" d="M61.9 237.2h0M61.2 233.5h0M69.8 233.2h0M56.9 235.3h0M54.7 239.9h0M69.2 231.6h0M71.3 245h0M63 240.6h0M69.6 242.7h0M61.4 235.9h0M66.9 247h0M71.2 239.6h0M66.2 250.5h0M64.1 239h0M64.5 240.6h0M70.7 256.8h0M77.9 252.1h0M70.4 255.4h0M76.3 245.7h0M77.1 257.7h0M73.4 257.8h0M74.7 257.9h0"/><path id="M4" d="M71.3 251.9h0M71.9 253.4h0M63.3 235.8h0M62.4 246h0M64.4 250h0M63.9 243.9h0M77.6 253.5h0M67.4 242.4h0M72.2 240.6h0M69.6 252.9h0M75.4 254.9h0M73.6 243h0M65.8 238h0M79.9 256.9h0M64.1 231h0M66.2 236.5h0M72.3 248.8h0M70.5 253.9h0"/><path id="M5" d="M64.8 234h0M72.9 233.4h0M68 232.3h0M70.6 243.6h0M69.2 244h0M73 252.1h0M73.1 238.8h0M72.4 250.4h0M60 244.6h0M66 234.7h0M75.1 242.8h0M76.3 252.2h0M68.7 235.4h0M76.2 249.6h0M73.9 245.9h0"/><path id="M6" d="M70.5 230.5h0M74.3 253.2h0M62.6 230.8h0M69.6 248.4h0M68.5 249.3h0M77.5 250.8h0M69.5 245.6h0M72.6 234.9h0M71.2 233h0M76 253.5h0M73.1 247.3h0"/><path id="M7" d="M73 236.7h0M68.3 246.2h0M74.3 241.1h0M69.2 250.5h0M66.7 233.2h0M71 247.7h0M77.6 260.6h0"/><path id="M8" d="M74.9 244.9h0M74.8 248.1h0M73.8 249.5h0M75.4 246.8h0"/><path id="N0" d="M44.8 251.8h0M54 261.5h0M61.4 250.7h0M63.2 248.8h0M52.1 243h0M70.3 259.6h0M54.5 245.8h0M44.2 245h0M55.6 244.3h0M51.8 244.6h0M70 262.5h0M60.9 240.5h0M68.4 259.6h0M49.8 239.8h0M53.2 248.6h0M57.2 244.1h0M50.4 251h0M40.7 246.5h0M68.3 263.2h0M48.2 244.2h0M71.9 257.9h0M48.7 250.7h0M51.2 256.8h0M47.9 242.3h0M61.7 266.7h0M48.7 246.3h0M48.5 249.1h0M49.5 258.9h0M41.7 251.1h0M75.4 264.1h0M52.7 257.9h0M55 262.6h0"/><path id="N1" d="M45.8 253.2h0M45.7 245h0M56.1 242.7h0M47.8 256.4h0M44.3 253.2h0M45.7 242.1h0M72.6 264.3h0M64.6 253.7h0M57.6 246.9h0M50.8 246.2h0M50.2 243.7h0M62.4 257.7h0M40.8 245h0M59.2 260.9h0M49.2 247.8h0M60 249.6h0M62.8 250.3h0M63.7 269.2h0M64.1 263.3h0M38.7 246.3h0M41.9 248h0M68.8 264.9h0M39.6 247.8h0M51.9 254.7h0M65.5 251.8h0M74.1 263.3h0M74.1 259.9h0M37.8 249.7h0M60.1 266.9h0M55.6 258.3h0M48.9 252.1h0"/><path id="N2" d="M53.3 244.3h0M62.7 253.6h0M50.9 242.2h0M44.4 257h0M56.4 245.7h0M53.5 246.9h0M46.7 243.8h0M50.5 252.8h0M56.8 251.4h0M51.1 248.6h0M66.5 258.8h0M58.3 252.5h0M49.5 257.2h0M58.2 249.2h0M63.2 255h0M58.7 245.4h0M50 245.1h0M50.2 255.2h0M42.3 245.9h0M76.3 262.6h0M61.1 261.4h0M67.5 255.1h0M78.1 263.7h0M70.1 265.8h0M49.2 242.8h0M58.7 263h0M57.6 261.7h0M67.5 267.5h0"/><path id="N3" d="M45 243.4h0M54.1 243.2h0M62.3 251.9h0M52.9 241.9h0M52 250h0M47.1 252.6h0M54.6 248.3h0M59.6 255.5h0M49.9 249.3h0M66.4 262h0M45.7 249.2h0M64.3 261.4h0M54.9 253.3h0M36.6 248.1h0M58.2 255.2h0M47.1 245.6h0M47.1 249.5h0M61.7 256.2h0M47.4 247.4h0M49.1 241h0M62.9 267.5h0M43.3 244h0M69.1 254.7h0M74.2 264.7h0"/><path id="N4" d="M53 253.1h0M52 251.4h0M48.4 253.3h0M48.3 255h0M61.8 247.3h0M52.2 245.8h0M62.1 268.8h0M61.2 254.3h0M55.5 249.6h0M59.9 248.3h0M44.2 247.6h0M60.1 251.8h0M56.7 253.1h0M43.6 249.5h0M60.9 268.1h0M56.9 254.6h0M52.1 247.6h0M68.8 266.7h0M56.7 262.8h0"/><path id="N5" d="M61.2 252.7h0M60.4 260.2h0M60.4 246h0M64.7 255.5h0M55.3 247h0M56.5 248.6h0M65.4 260.2h0M58.7 251h0M53.7 255.2h0M66 254.7h0M57.1 250.1h0M57.4 257.3h0M52.9 256.3h0M66.1 267.2h0M75.9 259.4h0M39.6 249.6h0"/><path id="N6" d="M73.4 261.1h0M46 247h0M46.8 251.1h0M45.2 250.4h0M66 253.2h0M66.4 256.4h0M55.8 256.2h0M60 262.6h0M54.4 257.4h0M63.5 265.3h0M56.3 260.6h0M37.3 246.7h0"/><path id="N7" d="M60.4 258.8h0M54.9 251.2h0M54 249.8h0M65.2 258h0M59.2 256.8h0M34.5 247.1h0M57.2 259.6h0"/><path id="N8" d="M53.4 251.6h0M60.7 257.2h0M58.8 254h0M55.3 254.6h0M67.4 253.3h0"/><path id="O0" d="M134.3 252.2h0M152.8 233.8h0M152.4 269.8h0M133.5 253.8h0M152.7 268.2h0M155.4 269.6h0M154.6 267.1h0M151 269.4h0M132.1 254.9h0M151.9 254.1h0M154 275.2h0M134.1 255.6h0M133.7 250h0M153 235.8h0M149.7 270.8h0M132.9 257.1h0M148.5 258.4h0M155.1 252.2h0M152.3 271.7h0M151 272.6h0M136.1 258.8h0M132 250.8h0M151.5 274.4h0M158.8 271.3h0M154 259.9h0M150.2 253h0M148.6 272.4h0M132.9 252h0M153 274h0M150.3 276.6h0M134.6 257.9h0M157.5 269h0M131.1 257.2h0M149.9 275h0M128.3 257.8h0M137.5 259.7h0M140.6 262.9h0M128.3 259.9h0M157.9 273.2h0M159 255.9h0M128.8 266.4h0M148 267.8h0M129.3 256.3h0M137.5 274.5h0M138.4 268.3h0M131.5 252.3h0M133.4 261h0M140.8 260.4h0M149.6 279.7h0M137.3 242h0M135.6 256.4h0M139.3 257.6h0M132.8 265.6h0M150 254.9h0M138 261.5h0M157 274.5h0M157.5 255.5h0M149.9 230.3h0M130.9 259h0M130.5 262.9h0M139.3 265.6h0M137.8 265.6h0M158.7 239.3h0M139.7 245.3h0M129 263.1h0M132.4 264h0M127.8 264h0M162.4 247.3h0M150.4 238h0M150.7 228.7h0M159.5 264.2h0M162.5 266.5h0M158.8 241.3h0M137.9 258h0M152.7 228.8h0M158.1 242.7h0M149.4 236.9h0M140.6 265.2h0"/><path id="O1" d="M161.9 243.4h0M160 269.6h0M130.7 245h0M152 259.3h0M150.7 260.4h0M131.4 253.7h0M136.2 261.3h0M152.3 266.3h0M145 276.9h0M155.9 267.9h0M150.1 258.8h0M162.1 261.9h0M141 266.9h0M157.5 233h0M151.1 251.6h0M134.8 262.1h0M147.7 260.1h0M146.4 238.8h0M132.3 260h0M150.9 268h0M149.7 262.1h0M155.2 261.4h0M154.8 243.7h0M157 270.5h0M136.5 266.6h0M145.2 243.7h0M155.4 271.5h0M155.5 233.1h0M142.6 262.8h0M166.9 237.4h0M145.8 272.5h0M136.5 264.7h0M130.1 253.2h0M158.2 237.6h0M146.1 258.9h0M133.2 267.3h0M127.3 262.4h0M156.9 254h0M132.2 271.2h0M157 258.3h0M142 264.6h0M146 260.3h0M156.5 252.4h0M138 245.7h0M148.5 253.9h0M157.6 266.5h0M147.4 266.2h0M143.4 264h0M156.4 250.8h0M162 237.6h0M159.2 228.9h0M148.9 264h0M155.7 257.9h0M139.6 261.1h0M149.4 235.6h0M142.6 246.1h0M149.4 265.6h0M163.7 239.2h0M153.1 231.7h0M150.9 234.2h0M127.5 265.9h0M142.6 244.1h0M151.5 232.3h0M140 259h0M146.8 246h0M156.6 243.9h0M138.3 252.4h0M140.7 246.3h0M160.9 244.9h0M142.1 255.6h0M145.8 265.2h0M153.8 240.6h0M143.1 256.9h0M149.4 245.7h0M161 230.8h0M159.9 260.9h0M141.1 254.1h0M147.5 273.3h0"/><path id="O2" d="M134.8 260.7h0M143.3 252.4h0M143.3 270.1h0M153 261h0M161.3 260.6h0M154 268.9h0M134.6 244.5h0M132.8 244.8h0M160.5 234.3h0M142.4 261h0M134.2 259.4h0M154 245.2h0M131.6 246.6h0M135.4 254h0M144.9 239.7h0M152.5 256.5h0M142 267.9h0M134.4 274.3h0M155.5 273.9h0M130.6 255.3h0M135.2 251h0M167.2 235.6h0M130.1 251.8h0M166.7 234.3h0M149.6 273.6h0M150.3 257.2h0M132.6 258.6h0M148.8 261.1h0M156.5 272.8h0M151.8 277.2h0M145.5 270.7h0M160.1 262.3h0M147 261.2h0M136.8 262.6h0M146.2 249.7h0M157.7 278.3h0M158.1 275.6h0M139.3 269.9h0M144.1 259.9h0M151.2 270.9h0M137.1 251.1h0M141 237.8h0M159.5 275.4h0M137.9 240h0M129.7 258.2h0M159.4 230.8h0M146 266.7h0M150.9 264.8h0M136.8 268.2h0M128.9 261.3h0M130.5 243.2h0M149.6 244h0M149.1 267h0M160.7 236.4h0M139.5 264.2h0M155.5 239.3h0M151.4 236.3h0M163 245.2h0M146.1 255.2h0M149 250.8h0M156.7 261.2h0M144.4 258h0M158.6 244h0M155.8 241h0M152.2 238.3h0M140.3 250.2h0M157.9 245.5h0M141.3 249.1h0M129.5 254.5h0"/><path id="O3" d="M134.2 242.9h0M161.9 234.2h0M153.3 257.7h0M135.2 268h0M153.9 255.8h0M148.5 275.9h0M146 237h0M133.6 269.5h0M132.3 268.9h0M154.3 270.6h0M153.9 262.1h0M146.8 241.9h0M131.7 249.5h0M160.8 256.5h0M150.4 266.4h0M145.4 261.5h0M133.8 263.4h0M146.1 273.9h0M148.5 269.9h0M151.4 255.7h0M132.8 262.3h0M148.6 242.5h0M146.4 251.4h0M143.9 240.9h0M136.6 257.5h0M128.9 250.8h0M149 256.2h0M146.7 240.5h0M157 264.4h0M137 255.8h0M142 241h0M158.8 261.7h0M130.5 268.1h0M165.9 232.7h0M136.9 244.5h0M146.4 268.1h0M139.2 239.8h0M138.3 237.5h0M157.1 229.3h0M138.7 273h0M148.1 236.4h0M138.5 262.9h0M155.5 245.5h0M130.7 260.9h0M139 271.6h0M164.1 237.3h0M154.1 238.2h0M144.4 265.6h0M139.8 238.5h0M151.4 248.6h0M150.2 240.7h0M148.6 252.2h0M131.1 264.9h0M156.7 259.7h0M158.1 265.3h0M147.8 244h0M144.7 256.2h0M160.1 240.3h0M144.8 249.6h0M150.2 263.6h0M140.8 252.7h0"/><path id="O4" d="M144 261.4h0M152.7 243.5h0M153.4 253.2h0M154.1 265.7h0M151.6 257.9h0M140.8 268.5h0M129.6 244.3h0M136.5 253.1h0M143.5 268.4h0M161.1 263.2h0M156.7 237.6h0M147.3 271.6h0M163 233.3h0M154.3 272.6h0M128.4 249.3h0M155.4 253.8h0M142.1 258.9h0M148.1 262.6h0M156.6 231.6h0M160 259.5h0M140.4 240.5h0M138.4 256.2h0M139.6 267.3h0M155.9 256.5h0M136.7 247.8h0M166 239.6h0M166 244h0M153.5 242h0M155.4 237h0M134.9 247.2h0M157.1 239.4h0M155.2 255.3h0M161 241.6h0M154.8 231.6h0M159.3 257.9h0M151.5 230.2h0M140 255.6h0M141.1 257.6h0M153 248.2h0M160.6 266.8h0M155.5 265h0M150.8 250h0M150.2 242.7h0M149.3 239.4h0M141.7 251.7h0M146.9 248h0M161.6 246.2h0"/><path id="O5" d="M152.7 252.1h0M141.6 270.2h0M152.6 250.1h0M152.5 245.3h0M152.6 227h0M133.3 248.2h0M130.1 247.5h0M158.2 234.5h0M133.5 272.5h0M140.6 271.7h0M134.7 266.2h0M154.5 264h0M142.2 266.2h0M152.6 264.1h0M131.4 267h0M164.7 233.5h0M143.8 266.8h0M141.2 243.2h0M141.3 239.2h0M147.3 252.8h0M144.8 273.4h0M144.4 262.7h0M138.4 244.3h0M154.6 228.7h0M142.6 238.3h0M138.1 264.2h0M158.3 259.8h0M156.3 227.6h0M163.7 231.7h0M162.2 239.4h0M157.6 246.9h0M153 237.2h0M143.9 255.1h0M150.9 245.9h0M154.6 234.3h0M143.5 247.1h0M142.7 248.7h0M138.7 250.7h0M152.3 240.6h0"/><path id="O6" d="M144.1 242.7h0M151.7 262.1h0M161.5 249.2h0M154.7 247.1h0M156.3 266h0M158.1 236.2h0M141.8 273.7h0M155.8 263.5h0M156.1 249.5h0M163.9 235.6h0M156.6 234.1h0M127.1 261h0M144.4 271.9h0M137.2 271.9h0M145.7 263.4h0M155.9 230.2h0M144.1 237.7h0M145.6 257.2h0M138.1 254.5h0M139.6 243.5h0M151.4 241.7h0M162.6 230.9h0M166.2 230.8h0M163.2 240.6h0M160 243.3h0M139.7 251.9h0M154.1 230h0M148.7 247h0M157.3 241.4h0M153.2 239.3h0"/><path id="O7" d="M161.9 235.6h0M154.6 235.7h0M154.7 250.8h0M165.7 235.2h0M142.1 253.2h0M130.5 269.9h0M142.2 271.5h0M136 271.1h0M144.9 268.1h0M154.4 249.1h0M140.5 273.2h0M155 242.2h0M154.5 258.5h0M147.6 264.5h0M151.4 239.5h0M164.7 240.2h0M139.9 247.7h0M143.5 250.6h0"/><path id="O8" d="M133.2 246.8h0M145.3 241.6h0M144.9 251.3h0M160 237.6h0M156 247.4h0M154.6 227h0M138.6 249.4h0M139.8 254.1h0M150.1 248.5h0M153.3 246.5h0M148.4 248.6h0M151 243.8h0"/><path id="P0" d="M143.6 279.6h0M170.7 252.3h0M161.7 277.1h0M171.9 278.4h0M141.9 278.9h0M169.1 280.5h0M168 254.6h0M164.4 255h0M144.5 281.5h0M163.1 248.5h0M166.6 249.1h0M168.2 279.4h0M163.9 253.2h0M161.6 254.9h0M154.8 278.4h0M161.7 280.5h0M146.5 279.5h0M146.6 281h0M162.7 259.3h0M171.4 273.5h0M152.5 275.6h0M162.4 275.7h0M156.6 276.5h0M156.4 280.7h0M166.8 260.8h0M143.5 282.5h0M138.9 278.9h0M158.9 276.8h0M144.5 284.1h0M151.4 284.4h0M164.2 285.5h0M149.2 284.6h0M163.6 281.2h0M158.9 267.9h0M149.7 283.1h0M173.6 254.6h0M164.2 274h0M164.1 259.1h0M160.7 279.5h0M158.8 279.6h0M168.8 260.5h0M165.5 274.4h0M174.2 260.6h0M145.4 280.3h0M172 253.8h0M175.3 261.6h0M164 266.3h0M175.4 260h0"/><path id="P1" d="M152.3 278.7h0M169.1 251.1h0M170.7 283h0M169.6 254.1h0M158.9 254h0M167 280.3h0M178 269.1h0M168 250h0M168.2 256.2h0M167.2 251.3h0M131.1 273.9h0M165.9 277h0M164.8 250.8h0M138.9 280.7h0M160.5 250.8h0M158.2 249.7h0M156 277.8h0M173.6 270.6h0M164.8 256.6h0M169.8 249.4h0M167.6 283.1h0M170 274.1h0M135.6 273h0M167.5 259.4h0M143.9 285.7h0M168.8 275.7h0M170.7 263.3h0M138.9 275.7h0M141.2 275h0M166.8 262.3h0M171.5 265.3h0M163.8 257.8h0M166 259.1h0M168.6 263.4h0M164.8 280.4h0M164.1 271.5h0M167.6 264.7h0M137.7 279.9h0M165.6 246.5h0M176.9 260.8h0M159.5 282.9h0M158.6 281.1h0M162.2 281.9h0M166.2 281.6h0M175.8 257.5h0M172.4 266.4h0M166.5 284.5h0M171.2 272.2h0"/><path id="P2" d="M161.8 278.7h0M168.8 268.4h0M142.5 281.3h0M145.1 278.9h0M153.6 277.6h0M163.7 277.1h0M134.4 275.8h0M153.7 280h0M163.5 250.1h0M166.1 256h0M168.6 248.6h0M140.8 281.5h0M151.6 280.5h0M160.8 271.4h0M162.6 285.5h0M162.9 251.5h0M169.9 248h0M136.6 276.3h0M158.2 285.8h0M161.1 268.1h0M166.3 278.9h0M167.7 247.3h0M170.1 259.4h0M175.1 267.7h0M165.4 238h0M173.8 257.7h0M164.1 275.7h0M153 282.2h0M171.7 261.4h0M160.1 278.1h0M160.8 276h0M168.2 269.6h0M171.5 249.6h0M162.3 257.9h0M170.8 267.9h0M162.7 270.4h0M160.9 284h0M136.7 237.8h0M172.4 268h0M175.9 263.3h0M159.1 266.4h0M164.9 284.3h0"/><path id="P3" d="M161.3 252.1h0M161 253.5h0M168.8 266.6h0M162.5 253.3h0M147 278h0M154.7 276.8h0M154.9 280.7h0M145.8 285.8h0M137.9 277.3h0M142.8 274.8h0M148.2 281.6h0M147.7 286.1h0M171.9 269.5h0M164.5 248.5h0M163.7 262.8h0M150.1 286.3h0M155.9 283.7h0M157.7 248.4h0M167.5 277.4h0M171.5 260.1h0M162.3 265.1h0M154.4 283.3h0M160.2 265.4h0M158.1 257h0M172.9 259.9h0M173.5 269.2h0M172.6 271.7h0M173.5 256.1h0M165.3 261.1h0M163.5 260.5h0M179 265.6h0M175.7 266.1h0M165 263.4h0M165.3 272.5h0M160.8 258.2h0M170.3 266.5h0M175 264.4h0"/><path id="P4" d="M151.9 287.1h0M169.1 252.8h0M133.9 277.3h0M143 277.9h0M171.9 251.1h0M170 255.9h0M159.8 252.5h0M140.4 279.9h0M164.7 278.7h0M136 275h0M150.4 281.2h0M171 275.6h0M140.5 276.2h0M167.6 258.1h0M139.8 277.4h0M156.4 279.3h0M166.3 275.5h0M163 263.9h0M165.8 282.9h0M132.1 272.7h0M167.2 238.9h0M159.7 273.1h0M151.2 282.5h0M163.6 246.5h0M163.1 284.2h0M165 270.4h0M164.6 245.3h0M172.2 255.2h0M164.2 282.9h0M174.1 259.2h0"/><path id="P5" d="M153.6 287.1h0M161.9 250.6h0M163.4 279.2h0M144.9 275h0M143.4 276.5h0M157.4 287h0M152.3 285.7h0M159.8 248.3h0M165.2 252.5h0M163.2 256.2h0M159.1 284.3h0M156.9 285.2h0M158 283.4h0M152.9 284.2h0M167.7 274.2h0M136.8 278.7h0M160.4 281.9h0M163.5 269.2h0M157.1 281.9h0M174.8 256.6h0M166.5 273.4h0M173.4 261.9h0M164.3 241.9h0"/><path id="P6" d="M161.5 270h0M170.3 261.4h0M155.1 287.4h0M170.6 250.8h0M168.5 261.9h0M148.6 277.5h0M150 278h0M155.7 281.9h0M162.9 242.3h0M158 251.8h0M161 272.8h0M171.9 258.7h0M168.4 271h0M146.2 283.6h0M167.1 245.9h0M167.1 272.1h0M147.8 284.6h0M139.4 282h0M161.2 274.5h0"/><path id="P7" d="M165.5 253.9h0M141.8 277.2h0M155.5 285.5h0M139.5 274.4h0M154.2 285.8h0M163.9 243.4h0M161 247.6h0M147.5 283.2h0M167.3 244.3h0M162.4 273.6h0M163.2 267.7h0"/><path id="P8" d="M134.5 271.4h0M158.9 247.2h0M160 246.2h0M171.4 256.5h0M137.8 270.2h0M167 243h0M170.8 257.8h0"/><path id="Q0" d="M344.6 161.5h0M355.7 176.1h0M346.5 163.8h0M346.3 160.5h0M347.8 164.9h0M354.7 174.8h0M349.5 163.5h0M350.9 165h0M349.4 165.8h0M324.3 154.8h0M322.7 148.6h0M321.3 148.6h0M337.5 163.1h0M340 161.3h0M342 164.4h0M344.1 160.2h0M318.1 144h0M322.8 147.1h0"/><path id="Q1" d="M343.1 162.1h0M340.7 163.7h0M344.9 163.1h0M353.1 175.1h0M343.4 164.9h0M342.5 160.1h0M332.9 159.9h0M341.2 160.4h0M330.3 159.2h0M353.6 172h0M351.3 167.1h0M339.6 162.6h0M346.7 166.6h0M319.1 146.7h0M338.4 160.6h0M320 147.9h0M335.5 158.6h0M333.6 155.1h0"/><path id="Q2" d="M312.9 143.7h0M343.2 163.4h0M323.4 150.2h0M355.8 171.9h0M352.9 173.3h0M349.2 167.9h0M315.6 146.8h0M317.8 148.3h0M352.3 166.2h0M320.9 154.8h0M336.2 161h0M333.4 157.9h0M353.2 169.2h0M334.5 156.5h0M330.5 150.5h0"/><path id="Q3" d="M341.5 161.8h0M346.4 162h0M357.3 175.6h0M311 146.6h0M330.8 160.6h0M354.8 177.2h0M347.6 162.8h0M356.2 173.9h0M319.2 152.2h0M309.4 149.5h0M339.6 159.2h0M330.6 157.4h0M332.4 156.4h0M337.6 161.6h0"/><path id="Q4" d="M323.9 151.6h0M315.8 142.9h0M322.3 151.5h0M348.3 173.5h0M354.7 172.8h0M320.8 150h0M348.3 166.8h0M319.1 153.6h0M328.9 158h0M335.1 160.1h0M328.7 154.9h0"/><path id="Q5" d="M314.3 143.8h0M324 153.2h0M314.5 142.4h0M319.1 149.1h0M351.9 170.3h0M354.2 170.3h0M319.3 145.2h0M326.5 156.3h0M331.1 153.2h0"/><path id="Q6" d="M352.4 168.1h0M331.7 158.6h0M321.3 147h0M317.4 145.9h0M335.6 162.7h0M331.3 155.6h0M327.8 156.9h0"/><path id="Q7" d="M311 144.5h0M312.5 145.9h0M325.5 153.3h0M316.1 144.7h0"/><path id="Q8" d="M351.7 175.7h0M350.5 168.8h0"/><path id="R0" d="M280.4 221.1h0M289 227.1h0M287.6 230.9h0M282.9 222.1h0M282.1 228.8h0M281.1 226.6h0M281.9 231.7h0M285.4 228.4h0M284.5 227.2h0M290.1 228.1h0"/><path id="R1" d="M286.6 232.2h0M286.1 230.5h0M285.7 233.3h0M291.1 223.5h0M288.9 224.4h0M282.7 227.4h0M283.8 228.6h0M286.6 223h0M291.3 229h0"/><path id="R2" d="M285.1 232.1h0M281.9 220.6h0M292.5 225.3h0M288.4 223.1h0M290.1 222.4h0M284.6 225.8h0M291.6 226.4h0M284.4 222.6h0"/><path id="R3" d="M283.5 231.6h0M289.2 231.6h0M291.6 221.8h0M284.3 230h0M288.2 232.7h0M281.3 222.1h0M283.4 220.3h0"/><path id="R4" d="M287.9 225.4h0M287.2 227.3h0M287 224.3h0M283.5 223.6h0M290.2 225h0M287.6 229.2h0"/><path id="R5" d="M280 224.9h0M283 225.6h0M281.9 230.3h0M281.8 223.5h0"/><path id="R6" d="M281.4 225.2h0M283.3 233h0M285.4 224.2h0M289.1 229.3h0"/><path id="R7" d="M286.6 226h0M290.5 230.5h0"/><path id="R8" d="M289 221h0"/><path id="S0" d="M315 225.6h0M305.5 221.8h0M307.9 230.4h0M306.7 229.7h0M308.1 226.9h0M308.1 228.3h0M303.9 222h0M307.4 220.4h0"/><path id="S1" d="M307.4 224h0M307.1 225.5h0M311.5 222.3h0M311.1 225.9h0M301.3 221h0M305.4 219.9h0M306.3 217.9h0"/><path id="S2" d="M312.4 226.8h0M310.2 218.9h0M308.8 218.1h0M308.4 225.1h0M307.2 221.8h0M308.9 220.6h0M309.7 225.8h0"/><path id="S3" d="M313.5 225.1h0M313.6 221.2h0M311.1 220.9h0M309.3 229.8h0M311 223.7h0M308.8 223.5h0"/><path id="S4" d="M315.8 226.9h0M313.1 223.2h0M309.8 217.1h0M309.3 221.9h0"/><path id="S5" d="M312.1 225h0M311.3 228.1h0M309.8 227.7h0M303.6 218.7h0"/><path id="S6" d="M315.4 224.2h0M307.4 218.9h0M306.4 223.1h0"/><path id="S7" d="M311.2 216.9h0"/><path id="S8" d="M304.7 217.8h0"/><path id="T0" d="M253.2 198.5h0M259.3 189.8h0M257.9 189.9h0M255.6 191h0M256.7 195.1h0M255.7 193.8h0M252.8 192.2h0"/><path id="T1" d="M255.2 199h0M260 191.3h0M254.9 187.8h0M256.5 184.5h0M257.2 191.3h0M255.6 197.3h0"/><path id="T2" d="M257.9 200.1h0M258.6 188.1h0M259.1 193.8h0M258.2 195.6h0M252.4 193.8h0"/><path id="T3" d="M258.6 198.2h0M257.7 197h0M254.3 192.1h0M255.5 195.9h0M257.7 193.9h0"/><path id="T4" d="M253.9 193.4h0M256.8 198.9h0M256.7 192.7h0M254.6 194.7h0"/><path id="T5" d="M253.8 196.9h0M254.4 189.3h0M258.7 192.5h0"/><path id="T6" d="M252.6 195.3h0M257.3 188.6h0"/><path id="T7" d="M256 189.4h0"/><path id="T8" d="M259.7 199.9h0"/><path id="U0" d="M265.4 203.9h0M268.7 215h0M287.8 212.4h0M256.7 204h0M294.6 222.4h0M281.4 215h0M258.6 208.3h0M280.6 219.6h0M257.9 205.4h0M263.1 210.4h0M266.8 212h0M298.4 224.5h0M282.4 219.2h0M272.4 208.1h0M254.1 201.8h0M277.2 208.8h0M299.8 221.7h0M265.2 214.2h0M269.8 213.9h0M300.8 222.9h0M265.2 212.2h0M273.5 209.8h0M279.1 210.4h0M303.1 220.4h0M277.5 210.2h0"/><path id="U1" d="M260.2 205.9h0M266.7 205.2h0M286.1 215.7h0M284.6 217.1h0M259.9 209.3h0M263.7 208.2h0M266 210.3h0M295.8 221.4h0M284 213.9h0M255.4 201.1h0M277.4 207.3h0M268.5 211.8h0M298.2 220.9h0M298.4 219h0M278.4 212.3h0M265.1 206.9h0M275.9 206.4h0M277.3 216.8h0M264.4 209.7h0M274.5 206.6h0M264.1 211.3h0M299.8 219.7h0M279.9 212.1h0M276 210.6h0M272.1 215.4h0"/><path id="U2" d="M269.6 206.7h0M279 216h0M267.9 207h0M260.9 210.5h0M258.2 210.1h0M277.2 215.4h0M262.7 203.9h0M283.5 218.1h0M296.8 223.1h0M279.5 213.9h0M294.5 224.1h0M275.5 216.2h0M254 199.9h0M264.6 205.3h0M270 211.4h0M298 222.3h0M284.5 219.2h0M301.5 219.6h0M267.8 213.1h0M271.8 214.1h0M273.5 213.8h0M275.7 209.2h0"/><path id="U3" d="M260.4 203.8h0M253 200.8h0M280.2 223.1h0M280.5 216.2h0M262 207.3h0M263.9 202.5h0M278.3 214.5h0M259 204.4h0M279.4 217.6h0M284.6 221.1h0M281 217.8h0M293.4 223.1h0M276.5 213.8h0M274.9 214.3h0M259.7 211.3h0M276 207.8h0M264.1 213.1h0M282.1 212.2h0M263.7 206.5h0"/><path id="U4" d="M257.1 202.3h0M285.5 213.9h0M254.6 204.4h0M260.2 202.2h0M283 216.1h0M284.2 212.3h0M257.3 206.7h0M262.6 205.8h0M271.2 210.5h0M273.1 206.2h0M299.2 223.2h0M275.9 217.7h0M274 211.2h0M277.1 211.5h0M274.1 208.2h0"/><path id="U5" d="M260.5 207.4h0M296.8 220h0M261.6 202.2h0M271.5 207h0M282.3 214h0M269.5 209.7h0M286.9 220.7h0M270.4 208.6h0M277.9 218.3h0M285.7 221.9h0M273.6 215.5h0M280.6 210.8h0"/><path id="U6" d="M259 206.9h0M284.4 215.7h0M258.9 201.2h0M279 208.8h0M255.1 202.8h0M281 213.1h0M261.3 205.1h0M265.3 208.6h0M275.4 212.5h0M270.8 212.8h0"/><path id="U7" d="M258.9 202.6h0M268.3 209h0M267.5 210.2h0M286.6 211.8h0M271.5 205.1h0"/><path id="U8" d="M268.6 205.7h0M266.6 207.8h0M262.1 208.6h0M271.7 211.8h0"/><path id="V0" d="M197.8 132.3h0M219.4 131.3h0M204.2 149.9h0M245.7 225.6h0M137.5 230.5h0M139 229h0"/><path id="V1" d="M174.4 104.2h0M203.9 117.8h0M170.3 78.6h0M190.2 148.1h0M274.5 186h0"/><path id="V2" d="M163.2 137h0M191.9 141.1h0M187.2 142.8h0M176 235.8h0M142.8 221.9h0"/><path id="V3" d="M186.1 148.1h0M198.9 151h0M175.2 241.4h0M138.7 227.2h0"/><path id="V4" d="M208.3 114.9h0M198.1 124.9h0M194.8 142.2h0"/><path id="V5" d="M203.6 119.6h0M190.2 61.7h0"/><path id="V6" d="M209 112.5h0M275.6 187.3h0"/><path id="V7" d="M177.9 100.1h0M170.7 240.7h0"/></defs>
<g transform="translate(0.0 0.0)" fill="none" stroke-linecap="round" stroke-width="2.5">
<g stroke="#440154"><use href="#a0"/><use href="#a1"/><use href="#a2"/><use href="#b0"/><use href="#b1"/><use href="#c0"/><use href="#c1"/><use href="#d0"/><use href="#d1"/><use href="#e0"/><use href="#e1"/><use href="#e2"/><use href="#f0"/><use href="#f1"/><use href="#f2"/><use href="#f3"/><use href="#g0"/><use href="#h0"/><use href="#i0"/><use href="#j0"/><use href="#j1"/><use href="#j2"/><use href="#k0"/><use href="#l0"/><use href="#l1"/><use href="#l2"/><use href="#l3"/><use href="#l4"/><use href="#m0"/><use href="#m1"/><use href="#m2"/><use href="#m3"/><use href="#m4"/><use href="#n0"/><use href="#n1"/><use href="#n2"/><use href="#n3"/><use href="#o0"/><use href="#p0"/><use href="#p1"/><use href="#q0"/><use href="#r0"/><use href="#r1"/><use href="#s0"/><use href="#t0"/><use href="#u0"/><use href="#u1"/><use href="#u2"/><use href="#u3"/><use href="#u4"/><use href="#v0"/><use href="#v1"/><use href="#v2"/><use href="#v3"/><use href="#w0"/><use href="#w1"/><use href="#x0"/><use href="#y0"/><use href="#y1"/><use href="#z0"/><use href="#z1"/><use href="#A0"/><use href="#A1"/><use href="#A2"/><use href="#A3"/><use href="#A4"/><use href="#B0"/><use href="#B1"/><use href="#D0"/><use href="#D1"/><use href="#D2"/><use href="#D3"/><use href="#E0"/><use href="#E1"/><use href="#E2"/><use href="#E3"/><use href="#E4"/><use href="#E5"/><use href="#E6"/><use href="#F0"/><use href="#F1"/><use href="#F2"/><use href="#F3"/><use href="#F4"/><use href="#F5"/><use href="#F6"/><use href="#G0"/><use href="#H0"/><use href="#I0"/><use href="#I1"/><use href="#J0"/><use href="#K0"/><use href="#O0"/><use href="#O1"/><use href="#O2"/><use href="#O3"/><use href="#P0"/><use href="#P1"/><use href="#P2"/><use href="#P3"/><use href="#Q0"/><use href="#Q1"/><use href="#Q2"/><use href="#Q3"/><use href="#R0"/><use href="#R1"/><use href="#R2"/><use href="#R3"/><use href="#R4"/><use href="#S0"/><use href="#S1"/><use href="#S2"/><use href="#S3"/><use href="#S4"/><use href="#T0"/><use href="#T1"/><use href="#T2"/><use href="#T3"/><use href="#T4"/><use href="#U0"/><use href="#U1"/><use href="#U2"/><use href="#U3"/><use href="#U4"/><use href="#V0"/><use href="#V1"/><use href="#V2"/><use href="#V3"/></g>
<g stroke="#482677"><use href="#b2"/><use href="#c2"/><use href="#n4"/><use href="#H1"/><use href="#O4"/><use href="#P4"/></g>
<g stroke="#46327e"><use href="#a3"/><use href="#u5"/><use href="#w2"/><use href="#I2"/><use href="#R5"/><use href="#S5"/><use href="#T5"/><use href="#U5"/></g>
<g stroke="#433d84"><use href="#d2"/><use href="#e3"/><use href="#f4"/><use href="#k1"/><use href="#l5"/><use href="#m5"/><use href="#o1"/><use href="#p2"/><use href="#q1"/><use href="#r2"/><use href="#D4"/><use href="#V4"/></g>
<g stroke="#3f4788"><use href="#a4"/><use href="#b3"/><use href="#c3"/><use href="#f5"/><use href="#n5"/><use href="#o2"/><use href="#s1"/><use href="#v4"/><use href="#w3"/><use href="#y2"/><use href="#z2"/><use href="#A5"/><use href="#G1"/><use href="#H2"/><use href="#I3"/><use href="#J1"/><use href="#K1"/><use href="#O5"/><use href="#P5"/><use href="#Q4"/></g>
<g stroke="#3b528b"><use href="#a5"/><use href="#b4"/><use href="#c4"/><use href="#c5"/><use href="#d3"/><use href="#d4"/><use href="#e4"/><use href="#f6"/><use href="#g1"/><use href="#j3"/><use href="#k2"/><use href="#k3"/><use href="#l6"/><use href="#m6"/><use href="#o3"/><use href="#p3"/><use href="#q2"/><use href="#r3"/><use href="#t1"/><use href="#u6"/><use href="#v5"/><use href="#w4"/><use href="#y3"/><use href="#z3"/><use href="#D5"/><use href="#G2"/><use href="#H3"/><use href="#I4"/><use href="#J2"/><use href="#K2"/><use href="#O6"/><use href="#P6"/><use href="#Q5"/><use href="#R6"/><use href="#S6"/><use href="#T6"/><use href="#U6"/><use href="#V5"/></g>
<g stroke="#365c8d"><use href="#a6"/><use href="#b5"/><use href="#c6"/><use href="#d5"/><use href="#e5"/><use href="#f7"/><use href="#j4"/><use href="#k4"/><use href="#l7"/><use href="#o4"/><use href="#p4"/><use href="#q3"/><use href="#s2"/><use href="#s3"/><use href="#t2"/><use href="#u7"/><use href="#w5"/><use href="#y4"/><use href="#z4"/><use href="#A6"/><use href="#B4"/><use href="#D6"/><use href="#E7"/><use href="#G3"/><use href="#H4"/><use href="#I5"/><use href="#I6"/><use href="#J3"/><use href="#K3"/><use href="#R7"/><use href="#S7"/><use href="#T7"/><use href="#U7"/><use href="#V6"/></g>
<g stroke="#32658e"><use href="#a7"/><use href="#b6"/><use href="#c7"/><use href="#d6"/><use href="#e6"/><use href="#g2"/><use href="#j5"/><use href="#k5"/><use href="#l8"/><use href="#o5"/><use href="#o6"/><use href="#p5"/><use href="#p6"/><use href="#q4"/><use href="#r5"/><use href="#s4"/><use href="#t3"/><use href="#v6"/><use href="#w6"/><use href="#w7"/><use href="#x1"/><use href="#y5"/><use href="#z5"/><use href="#A7"/><use href="#C0"/><use href="#D7"/><use href="#G4"/><use href="#G5"/><use href="#H5"/><use href="#I7"/><use href="#J4"/><use href="#J5"/><use href="#K4"/><use href="#K5"/><use href="#O7"/><use href="#P7"/><use href="#Q6"/><use href="#V7"/></g>
<g stroke="#2e6e8e"><use href="#a8"/><use href="#b7"/><use href="#c8"/><use href="#e7"/><use href="#f8"/><use href="#g3"/><use href="#h1"/><use href="#j6"/><use href="#k6"/><use href="#o7"/><use href="#o8"/><use href="#p7"/><use href="#q5"/><use href="#q6"/><use href="#s5"/><use href="#t4"/><use href="#v7"/><use href="#w8"/><use href="#x2"/><use href="#y6"/><use href="#z6"/><use href="#D8"/><use href="#G6"/><use href="#H6"/><use href="#I8"/><use href="#J6"/><use href="#J7"/><use href="#K6"/><use href="#K7"/><use href="#O8"/><use href="#P8"/><use href="#Q7"/><use href="#R8"/><use href="#S8"/><use href="#T8"/><use href="#U8"/></g>
<g stroke="#2a768e"><use href="#b8"/><use href="#g4"/><use href="#k7"/><use href="#k8"/><use href="#p8"/><use href="#q7"/><use href="#s6"/><use href="#s7"/><use href="#t5"/><use href="#v8"/><use href="#x3"/><use href="#x4"/><use href="#y7"/><use href="#A8"/><use href="#C1"/><use href="#E8"/><use href="#G7"/><use href="#H7"/><use href="#J8"/><use href="#K8"/><use href="#Q8"/></g>
<g stroke="#277f8e"><use href="#g5"/><use href="#i1"/><use href="#q8"/><use href="#s8"/><use href="#t6"/><use href="#t7"/><use href="#x5"/><use href="#y8"/><use href="#C2"/><use href="#C3"/><use href="#H8"/></g>
<g stroke="#24878e"><use href="#g6"/><use href="#h4"/><use href="#i2"/><use href="#t8"/><use href="#x6"/><use href="#x7"/><use href="#C4"/><use href="#C5"/></g>
<g stroke="#21918c"><use href="#g7"/><use href="#i3"/><use href="#x8"/><use href="#C6"/></g>
<g stroke="#1f998a"><use href="#g8"/><use href="#C7"/><use href="#C8"/></g>
<g stroke="#1fa187"><use href="#i5"/></g>
<g stroke="#5ec962"><use href="#L0"/><use href="#M0"/><use href="#N0"/></g>
<g stroke="#73d056"><use href="#L1"/><use href="#M1"/><use href="#N1"/></g>
<g stroke="#89d548"><use href="#L2"/><use href="#M2"/><use href="#N2"/></g>
<g stroke="#a0da39"><use href="#L3"/><use href="#L4"/><use href="#M3"/><use href="#M4"/><use href="#N3"/><use href="#N4"/></g>
<g stroke="#b8de29"><use href="#L5"/><use href="#M5"/><use href="#N5"/></g>
<g stroke="#d0e11c"><use href="#L6"/><use href="#L7"/><use href="#M6"/><use href="#M7"/><use href="#N6"/><use href="#N7"/></g>
<g stroke="#e7e419"><use href="#L8"/><use href="#M8"/><use href="#N8"/></g>
</g>
<rect x="377.2" y="40.3" width="12.4" height="350.1" fill="url(#vg)" stroke="#000" stroke-width="1.1"/>
<path d="M389.6 390.4h6.4" stroke="#000" stroke-width="1.5"/>
<text x="400.9" y="400.3" class="tk">0</text>
<path d="M389.6 319.8h6.4" stroke="#000" stroke-width="1.5"/>
<text x="400.9" y="329.7" class="tk">1</text>
<path d="M389.6 249.3h6.4" stroke="#000" stroke-width="1.5"/>
<text x="400.9" y="259.2" class="tk">2</text>
<path d="M389.6 178.7h6.4" stroke="#000" stroke-width="1.5"/>
<text x="400.9" y="188.6" class="tk">3</text>
<path d="M389.6 108.2h6.4" stroke="#000" stroke-width="1.5"/>
<text x="400.9" y="118.1" class="tk">4</text>
<text x="192.5" y="30.9" class="tt" text-anchor="middle">MBP</text>
<g transform="translate(479.0 0.0)" fill="none" stroke-linecap="round" stroke-width="2.5">
<g stroke="#440154"><use href="#a0"/><use href="#a1"/><use href="#a2"/><use href="#b0"/><use href="#b1"/><use href="#c0"/><use href="#c1"/><use href="#c2"/><use href="#d0"/><use href="#d1"/><use href="#f0"/><use href="#f1"/><use href="#f2"/><use href="#g0"/><use href="#g1"/><use href="#g2"/><use href="#g3"/><use href="#h0"/><use href="#h1"/><use href="#i0"/><use href="#i1"/><use href="#i2"/><use href="#j0"/><use href="#j1"/><use href="#j2"/><use href="#k0"/><use href="#k1"/><use href="#l0"/><use href="#l1"/><use href="#l2"/><use href="#m0"/><use href="#m1"/><use href="#m2"/><use href="#n0"/><use href="#n1"/><use href="#n2"/><use href="#n3"/><use href="#o0"/><use href="#o1"/><use href="#p0"/><use href="#p1"/><use href="#q0"/><use href="#q1"/><use href="#r0"/><use href="#r1"/><use href="#s0"/><use href="#s1"/><use href="#s2"/><use href="#t0"/><use href="#u0"/><use href="#u1"/><use href="#v0"/><use href="#v1"/><use href="#w0"/><use href="#w1"/><use href="#w2"/><use href="#x0"/><use href="#x1"/><use href="#y0"/><use href="#y1"/><use href="#z0"/><use href="#z1"/><use href="#A0"/><use href="#A1"/><use href="#B0"/><use href="#B1"/><use href="#C0"/><use href="#C1"/><use href="#C2"/><use href="#D0"/><use href="#E0"/><use href="#E1"/><use href="#E2"/><use href="#E3"/><use href="#E4"/><use href="#F0"/><use href="#F1"/><use href="#F2"/><use href="#F3"/><use href="#F4"/><use href="#G0"/><use href="#H0"/><use href="#H1"/><use href="#I0"/><use href="#J0"/><use href="#K0"/><use href="#O0"/><use href="#O1"/><use href="#O2"/><use href="#O3"/><use href="#P0"/><use href="#P1"/><use href="#P2"/><use href="#P3"/><use href="#Q0"/><use href="#Q1"/><use href="#R0"/><use href="#R1"/><use href="#S0"/><use href="#S1"/><use href="#T0"/><use href="#T1"/><use href="#U0"/><use href="#U1"/><use href="#V0"/><use href="#V1"/><use href="#V2"/></g>
<g stroke="#46327e"><use href="#c3"/><use href="#f3"/><use href="#l3"/><use href="#m3"/><use href="#n4"/><use href="#o2"/><use href="#v2"/><use href="#w3"/><use href="#I1"/><use href="#J1"/><use href="#K1"/><use href="#O4"/><use href="#P4"/><use href="#Q2"/></g>
<g stroke="#433d84"><use href="#a3"/><use href="#d2"/><use href="#k2"/><use href="#s3"/><use href="#u2"/><use href="#A2"/><use href="#H2"/><use href="#S2"/><use href="#T2"/><use href="#U2"/><use href="#V3"/></g>
<g stroke="#3f4788"><use href="#a4"/><use href="#b2"/><use href="#c4"/><use href="#f4"/><use href="#g4"/><use href="#i3"/><use href="#j3"/><use href="#k3"/><use href="#l4"/><use href="#m4"/><use href="#n5"/><use href="#o3"/><use href="#p2"/><use href="#q2"/><use href="#r2"/><use href="#s4"/><use href="#v3"/><use href="#w4"/><use href="#x2"/><use href="#y2"/><use href="#z2"/><use href="#C3"/><use href="#E5"/><use href="#F5"/><use href="#J2"/><use href="#K2"/><use href="#O5"/><use href="#P5"/><use href="#Q3"/><use href="#V4"/></g>
<g stroke="#3b528b"><use href="#a5"/><use href="#b3"/><use href="#c5"/><use href="#d3"/><use href="#d4"/><use href="#f5"/><use href="#h4"/><use href="#j4"/><use href="#k4"/><use href="#l5"/><use href="#m5"/><use href="#o4"/><use href="#p3"/><use href="#q3"/><use href="#r3"/><use href="#s5"/><use href="#u3"/><use href="#v4"/><use href="#w5"/><use href="#x3"/><use href="#y3"/><use href="#z3"/><use href="#A3"/><use href="#C4"/><use href="#G1"/><use href="#H3"/><use href="#I2"/><use href="#J3"/><use href="#K3"/><use href="#O6"/><use href="#P6"/><use href="#Q4"/><use href="#S3"/><use href="#T3"/><use href="#U3"/><use href="#V5"/></g>
<g stroke="#365c8d"><use href="#a6"/><use href="#b4"/><use href="#c6"/><use href="#d5"/><use href="#f6"/><use href="#g5"/><use href="#i5"/><use href="#j5"/><use href="#k5"/><use href="#l6"/><use href="#m6"/><use href="#o5"/><use href="#p4"/><use href="#q4"/><use href="#s6"/><use href="#t1"/><use href="#u4"/><use href="#v5"/><use href="#w6"/><use href="#x4"/><use href="#y4"/><use href="#z4"/><use href="#A4"/><use href="#B4"/><use href="#C5"/><use href="#D1"/><use href="#E6"/><use href="#F6"/><use href="#G2"/><use href="#H4"/><use href="#I3"/><use href="#J4"/><use href="#K4"/><use href="#O7"/><use href="#P7"/><use href="#Q5"/><use href="#R2"/><use href="#S4"/><use href="#T4"/><use href="#U4"/><use href="#V6"/></g>
<g stroke="#32658e"><use href="#a7"/><use href="#b5"/><use href="#b6"/><use href="#c7"/><use href="#d6"/><use href="#f7"/><use href="#g6"/><use href="#j6"/><use href="#k6"/><use href="#l7"/><use href="#o6"/><use href="#o7"/><use href="#p5"/><use href="#q5"/><use href="#r5"/><use href="#s7"/><use href="#t2"/><use href="#u5"/><use href="#u6"/><use href="#v6"/><use href="#w7"/><use href="#x5"/><use href="#y5"/><use href="#z5"/><use href="#A5"/><use href="#A6"/><use href="#C6"/><use href="#D2"/><use href="#E7"/><use href="#G3"/><use href="#G4"/><use href="#H5"/><use href="#H6"/><use href="#I4"/><use href="#J5"/><use href="#K5"/><use href="#Q6"/><use href="#S5"/><use href="#S6"/><use href="#T5"/><use href="#T6"/><use href="#U5"/><use href="#U6"/><use href="#V7"/></g>
<g stroke="#2e6e8e"><use href="#a8"/><use href="#b7"/><use href="#c8"/><use href="#f8"/><use href="#g7"/><use href="#k7"/><use href="#l8"/><use href="#o8"/><use href="#p6"/><use href="#p7"/><use href="#q6"/><use href="#q7"/><use href="#s8"/><use href="#t3"/><use href="#u7"/><use href="#v7"/><use href="#w8"/><use href="#x6"/><use href="#x7"/><use href="#y6"/><use href="#y7"/><use href="#z6"/><use href="#A7"/><use href="#C7"/><use href="#D3"/><use href="#G5"/><use href="#H7"/><use href="#I5"/><use href="#J6"/><use href="#K6"/><use href="#O8"/><use href="#P8"/><use href="#Q7"/><use href="#R3"/><use href="#S7"/><use href="#T7"/><use href="#U7"/></g>
<g stroke="#2a768e"><use href="#b8"/><use href="#g8"/><use href="#k8"/><use href="#p8"/><use href="#q8"/><use href="#t4"/><use href="#t5"/><use href="#v8"/><use href="#x8"/><use href="#y8"/><use href="#A8"/><use href="#C8"/><use href="#D4"/><use href="#D5"/><use href="#E8"/><use href="#G6"/><use href="#H8"/><use href="#I6"/><use href="#I7"/><use href="#J7"/><use href="#J8"/><use href="#K7"/><use href="#K8"/><use href="#Q8"/><use href="#R4"/><use href="#S8"/><use href="#T8"/><use href="#U8"/></g>
<g stroke="#277f8e"><use href="#t6"/><use href="#D6"/><use href="#G7"/><use href="#I8"/><use href="#R5"/></g>
<g stroke="#24878e"><use href="#t7"/><use href="#t8"/><use href="#D7"/><use href="#D8"/><use href="#R6"/></g>
<g stroke="#21918c"><use href="#R7"/></g>
<g stroke="#1f998a"><use href="#R8"/></g>
<g stroke="#3aba76"><use href="#e0"/></g>
<g stroke="#4ac16d"><use href="#e1"/></g>
<g stroke="#5ec962"><use href="#e2"/><use href="#e3"/></g>
<g stroke="#73d056"><use href="#e4"/><use href="#M0"/><use href="#N0"/></g>
<g stroke="#89d548"><use href="#e5"/><use href="#e6"/><use href="#M1"/><use href="#N1"/></g>
<g stroke="#a0da39"><use href="#e7"/><use href="#L0"/><use href="#M2"/><use href="#M3"/><use href="#N2"/><use href="#N3"/></g>
<g stroke="#b8de29"><use href="#L1"/><use href="#L2"/><use href="#L3"/><use href="#M4"/><use href="#M5"/><use href="#N4"/><use href="#N5"/></g>
<g stroke="#d0e11c"><use href="#L4"/><use href="#L5"/><use href="#M6"/><use href="#M7"/><use href="#M8"/><use href="#N6"/><use href="#N7"/><use href="#N8"/></g>
<g stroke="#e7e419"><use href="#L6"/><use href="#L7"/><use href="#L8"/></g>
</g>
<rect x="856.2" y="40.3" width="12.4" height="350.1" fill="url(#vg)" stroke="#000" stroke-width="1.1"/>
<path d="M868.6 390.4h6.4" stroke="#000" stroke-width="1.5"/>
<text x="879.9" y="400.3" class="tk">0</text>
<path d="M868.6 323.1h6.4" stroke="#000" stroke-width="1.5"/>
<text x="879.9" y="333.0" class="tk">1</text>
<path d="M868.6 255.7h6.4" stroke="#000" stroke-width="1.5"/>
<text x="879.9" y="265.6" class="tk">2</text>
<path d="M868.6 188.4h6.4" stroke="#000" stroke-width="1.5"/>
<text x="879.9" y="198.3" class="tk">3</text>
<path d="M868.6 121.1h6.4" stroke="#000" stroke-width="1.5"/>
<text x="879.9" y="131.0" class="tk">4</text>
<path d="M868.6 53.8h6.4" stroke="#000" stroke-width="1.5"/>
<text x="879.9" y="63.7" class="tk">5</text>
<text x="671.5" y="30.9" class="tt" text-anchor="middle">CTNNA3</text>
<g transform="translate(958.1 0.0)" fill="none" stroke-linecap="round" stroke-width="2.5">
<g stroke="#440154"><use href="#a0"/><use href="#a1"/><use href="#a2"/><use href="#a3"/><use href="#a4"/><use href="#b0"/><use href="#b1"/><use href="#b2"/><use href="#b3"/><use href="#b4"/><use href="#c0"/><use href="#c1"/><use href="#c2"/><use href="#c3"/><use href="#c4"/><use href="#d0"/><use href="#d1"/><use href="#d2"/><use href="#d3"/><use href="#d4"/><use href="#e0"/><use href="#e1"/><use href="#e2"/><use href="#e3"/><use href="#e4"/><use href="#f0"/><use href="#f1"/><use href="#f2"/><use href="#f3"/><use href="#f4"/><use href="#g0"/><use href="#g1"/><use href="#g2"/><use href="#g3"/><use href="#g4"/><use href="#h0"/><use href="#h1"/><use href="#h4"/><use href="#i0"/><use href="#i1"/><use href="#i2"/><use href="#i3"/><use href="#j0"/><use href="#j1"/><use href="#j2"/><use href="#j3"/><use href="#j4"/><use href="#k0"/><use href="#k1"/><use href="#k2"/><use href="#k3"/><use href="#k4"/><use href="#l0"/><use href="#l1"/><use href="#l2"/><use href="#l3"/><use href="#l4"/><use href="#m0"/><use href="#m1"/><use href="#m2"/><use href="#m3"/><use href="#m4"/><use href="#n0"/><use href="#n1"/><use href="#n2"/><use href="#n3"/><use href="#n4"/><use href="#o0"/><use href="#o1"/><use href="#o2"/><use href="#o3"/><use href="#o4"/><use href="#p0"/><use href="#p1"/><use href="#p2"/><use href="#p3"/><use href="#p4"/><use href="#q0"/><use href="#q1"/><use href="#q2"/><use href="#q3"/><use href="#q4"/><use href="#r0"/><use href="#r1"/><use href="#r2"/><use href="#r3"/><use href="#s0"/><use href="#s1"/><use href="#s2"/><use href="#s3"/><use href="#s4"/><use href="#t0"/><use href="#t1"/><use href="#t2"/><use href="#t3"/><use href="#t4"/><use href="#u0"/><use href="#u1"/><use href="#u2"/><use href="#u3"/><use href="#u4"/><use href="#v0"/><use href="#v1"/><use href="#v2"/><use href="#v3"/><use href="#v4"/><use href="#w0"/><use href="#w1"/><use href="#w2"/><use href="#w3"/><use href="#w4"/><use href="#x0"/><use href="#x1"/><use href="#x2"/><use href="#x3"/><use href="#x4"/><use href="#y0"/><use href="#y1"/><use href="#y2"/><use href="#y3"/><use href="#y4"/><use href="#z0"/><use href="#z1"/><use href="#z2"/><use href="#z3"/><use href="#z4"/><use href="#A0"/><use href="#A1"/><use href="#A2"/><use href="#A3"/><use href="#A4"/><use href="#B0"/><use href="#B1"/><use href="#B4"/><use href="#C0"/><use href="#C1"/><use href="#C2"/><use href="#C3"/><use href="#D0"/><use href="#D1"/><use href="#D2"/><use href="#D3"/><use href="#D4"/><use href="#E0"/><use href="#E1"/><use href="#E2"/><use href="#E3"/><use href="#E4"/><use href="#F0"/><use href="#F1"/><use href="#F2"/><use href="#F3"/><use href="#F4"/><use href="#G0"/><use href="#G1"/><use href="#G2"/><use href="#G3"/><use href="#G4"/><use href="#H0"/><use href="#H1"/><use href="#H2"/><use href="#H3"/><use href="#H4"/><use href="#I0"/><use href="#I1"/><use href="#I2"/><use href="#I3"/><use href="#I4"/><use href="#J0"/><use href="#J1"/><use href="#J2"/><use href="#J3"/><use href="#J4"/><use href="#K0"/><use href="#K1"/><use href="#K2"/><use href="#K3"/><use href="#K4"/><use href="#O0"/><use href="#O1"/><use href="#O2"/><use href="#O3"/><use href="#O4"/><use href="#P0"/><use href="#P1"/><use href="#P2"/><use href="#P3"/><use href="#P4"/><use href="#Q0"/><use href="#Q1"/><use href="#Q2"/><use href="#Q3"/><use href="#Q4"/><use href="#R0"/><use href="#R1"/><use href="#R2"/><use href="#R3"/><use href="#R4"/><use href="#S0"/><use href="#S1"/><use href="#S2"/><use href="#S3"/><use href="#S4"/><use href="#T0"/><use href="#T1"/><use href="#T2"/><use href="#T3"/><use href="#T4"/><use href="#U0"/><use href="#U1"/><use href="#U2"/><use href="#U3"/><use href="#U4"/><use href="#V0"/><use href="#V1"/><use href="#V2"/><use href="#V3"/><use href="#V4"/></g>
<g stroke="#470e61"><use href="#x5"/><use href="#y5"/><use href="#z5"/></g>
<g stroke="#481b6d"><use href="#a5"/><use href="#b5"/><use href="#c5"/><use href="#d5"/><use href="#e5"/><use href="#f5"/><use href="#g5"/><use href="#i5"/><use href="#j5"/><use href="#k5"/><use href="#l5"/><use href="#m5"/><use href="#n5"/><use href="#o5"/><use href="#p5"/><use href="#q5"/><use href="#r5"/><use href="#s5"/><use href="#t5"/><use href="#u5"/><use href="#v5"/><use href="#w5"/><use href="#A5"/><use href="#C4"/><use href="#D5"/><use href="#G5"/><use href="#H5"/><use href="#I5"/><use href="#J5"/><use href="#K5"/><use href="#O5"/><use href="#P5"/><use href="#Q5"/><use href="#R5"/><use href="#S5"/><use href="#T5"/><use href="#U5"/><use href="#V5"/></g>
<g stroke="#46327e"><use href="#a6"/><use href="#b6"/><use href="#c6"/><use href="#d6"/><use href="#e6"/><use href="#f6"/><use href="#g6"/><use href="#j6"/><use href="#k6"/><use href="#l6"/><use href="#m6"/><use href="#o6"/><use href="#p6"/><use href="#q6"/><use href="#s6"/><use href="#t6"/><use href="#u6"/><use href="#v6"/><use href="#w6"/><use href="#x6"/><use href="#y6"/><use href="#z6"/><use href="#A6"/><use href="#D6"/><use href="#G6"/><use href="#H6"/><use href="#I6"/><use href="#J6"/><use href="#K6"/><use href="#O6"/><use href="#P6"/><use href="#Q6"/><use href="#R6"/><use href="#S6"/><use href="#T6"/><use href="#U6"/><use href="#V6"/></g>
<g stroke="#433d84"><use href="#a7"/><use href="#b7"/><use href="#c7"/><use href="#e7"/><use href="#f7"/><use href="#g7"/><use href="#k7"/><use href="#l7"/><use href="#o7"/><use href="#p7"/><use href="#q7"/><use href="#s7"/><use href="#t7"/><use href="#u7"/><use href="#v7"/><use href="#w7"/><use href="#A7"/><use href="#C5"/><use href="#D7"/><use href="#E5"/><use href="#F5"/><use href="#G7"/><use href="#H7"/><use href="#I7"/><use href="#J7"/><use href="#K7"/><use href="#O7"/><use href="#P7"/><use href="#Q7"/><use href="#R7"/><use href="#S7"/><use href="#T7"/><use href="#U7"/><use href="#V7"/></g>
<g stroke="#3f4788"><use href="#a8"/><use href="#b8"/><use href="#c8"/><use href="#f8"/><use href="#g8"/><use href="#k8"/><use href="#l8"/><use href="#o8"/><use href="#p8"/><use href="#q8"/><use href="#s8"/><use href="#t8"/><use href="#v8"/><use href="#w8"/><use href="#x7"/><use href="#y7"/><use href="#A8"/><use href="#D8"/><use href="#H8"/><use href="#I8"/><use href="#J8"/><use href="#K8"/><use href="#O8"/><use href="#P8"/><use href="#Q8"/><use href="#R8"/><use href="#S8"/><use href="#T8"/><use href="#U8"/></g>
<g stroke="#3b528b"><use href="#x8"/><use href="#y8"/><use href="#C6"/><use href="#E6"/><use href="#F6"/></g>
<g stroke="#365c8d"><use href="#E7"/></g>
<g stroke="#32658e"><use href="#C7"/></g>
<g stroke="#2e6e8e"><use href="#E8"/></g>
<g stroke="#2a768e"><use href="#C8"/></g>
<g stroke="#2db27d"><use href="#M0"/></g>
<g stroke="#3aba76"><use href="#M1"/></g>
<g stroke="#4ac16d"><use href="#M2"/></g>
<g stroke="#5ec962"><use href="#M3"/><use href="#M4"/></g>
<g stroke="#73d056"><use href="#M5"/><use href="#M6"/><use href="#N0"/></g>
<g stroke="#89d548"><use href="#M7"/><use href="#M8"/><use href="#N1"/><use href="#N2"/></g>
<g stroke="#a0da39"><use href="#N3"/><use href="#N4"/></g>
<g stroke="#b8de29"><use href="#L0"/><use href="#L1"/><use href="#N5"/><use href="#N6"/></g>
<g stroke="#d0e11c"><use href="#L2"/><use href="#L3"/><use href="#N7"/><use href="#N8"/></g>
<g stroke="#e7e419"><use href="#L4"/><use href="#L5"/><use href="#L6"/></g>
<g stroke="#fde725"><use href="#L7"/><use href="#L8"/></g>
</g>
<rect x="1335.3" y="40.3" width="12.4" height="350.1" fill="url(#vg)" stroke="#000" stroke-width="1.1"/>
<path d="M1347.7 390.4h6.4" stroke="#000" stroke-width="1.5"/>
<text x="1359.0" y="400.3" class="tk">0</text>
<path d="M1347.7 327.2h6.4" stroke="#000" stroke-width="1.5"/>
<text x="1359.0" y="337.1" class="tk">1</text>
<path d="M1347.7 264.0h6.4" stroke="#000" stroke-width="1.5"/>
<text x="1359.0" y="273.9" class="tk">2</text>
<path d="M1347.7 200.8h6.4" stroke="#000" stroke-width="1.5"/>
<text x="1359.0" y="210.7" class="tk">3</text>
<path d="M1347.7 137.6h6.4" stroke="#000" stroke-width="1.5"/>
<text x="1359.0" y="147.5" class="tk">4</text>
<path d="M1347.7 74.4h6.4" stroke="#000" stroke-width="1.5"/>
<text x="1359.0" y="84.3" class="tk">5</text>
<text x="1150.6" y="30.9" class="tt" text-anchor="middle">PLP1</text>
<g transform="translate(1437.1 0.0)" fill="none" stroke-linecap="round" stroke-width="2.5">
<g stroke="#440154"><use href="#a0"/><use href="#a1"/><use href="#a2"/><use href="#a3"/><use href="#a4"/><use href="#a5"/><use href="#a6"/><use href="#b0"/><use href="#b1"/><use href="#b2"/><use href="#b3"/><use href="#b4"/><use href="#b5"/><use href="#b6"/><use href="#c0"/><use href="#c1"/><use href="#c2"/><use href="#c3"/><use href="#c4"/><use href="#c5"/><use href="#c6"/><use href="#d0"/><use href="#d1"/><use href="#d2"/><use href="#d3"/><use href="#d4"/><use href="#d5"/><use href="#d6"/><use href="#e0"/><use href="#e1"/><use href="#e2"/><use href="#e3"/><use href="#e4"/><use href="#e5"/><use href="#e6"/><use href="#f0"/><use href="#f1"/><use href="#f2"/><use href="#f3"/><use href="#f4"/><use href="#f5"/><use href="#f6"/><use href="#g0"/><use href="#g1"/><use href="#g2"/><use href="#g3"/><use href="#g4"/><use href="#g5"/><use href="#g6"/><use href="#h0"/><use href="#h1"/><use href="#h4"/><use href="#i0"/><use href="#i1"/><use href="#i2"/><use href="#i3"/><use href="#i5"/><use href="#j0"/><use href="#j1"/><use href="#j2"/><use href="#j3"/><use href="#j4"/><use href="#j5"/><use href="#j6"/><use href="#k0"/><use href="#k1"/><use href="#k2"/><use href="#k3"/><use href="#k4"/><use href="#k5"/><use href="#k6"/><use href="#l0"/><use href="#l1"/><use href="#l2"/><use href="#l3"/><use href="#l4"/><use href="#l5"/><use href="#l6"/><use href="#m0"/><use href="#m1"/><use href="#m2"/><use href="#m3"/><use href="#m4"/><use href="#m5"/><use href="#m6"/><use href="#n0"/><use href="#n1"/><use href="#n2"/><use href="#n3"/><use href="#n4"/><use href="#n5"/><use href="#o0"/><use href="#o1"/><use href="#o2"/><use href="#o3"/><use href="#o4"/><use href="#o5"/><use href="#o6"/><use href="#p0"/><use href="#p1"/><use href="#p2"/><use href="#p3"/><use href="#p4"/><use href="#p5"/><use href="#p6"/><use href="#q0"/><use href="#q1"/><use href="#q2"/><use href="#q3"/><use href="#q4"/><use href="#q5"/><use href="#q6"/><use href="#r0"/><use href="#r1"/><use href="#r2"/><use href="#r3"/><use href="#r5"/><use href="#s0"/><use href="#s1"/><use href="#s2"/><use href="#s3"/><use href="#s4"/><use href="#s5"/><use href="#s6"/><use href="#t0"/><use href="#t1"/><use href="#t2"/><use href="#t3"/><use href="#t4"/><use href="#t5"/><use href="#t6"/><use href="#u0"/><use href="#u1"/><use href="#u2"/><use href="#u3"/><use href="#u4"/><use href="#u5"/><use href="#u6"/><use href="#v0"/><use href="#v1"/><use href="#v2"/><use href="#v3"/><use href="#v4"/><use href="#v5"/><use href="#w0"/><use href="#w1"/><use href="#w2"/><use href="#w3"/><use href="#w4"/><use href="#w5"/><use href="#w6"/><use href="#x0"/><use href="#x1"/><use href="#x2"/><use href="#x3"/><use href="#x4"/><use href="#x5"/><use href="#x6"/><use href="#y0"/><use href="#y1"/><use href="#y2"/><use href="#y3"/><use href="#y4"/><use href="#y5"/><use href="#z0"/><use href="#z1"/><use href="#z2"/><use href="#z3"/><use href="#z4"/><use href="#z5"/><use href="#A0"/><use href="#A1"/><use href="#A2"/><use href="#A3"/><use href="#A4"/><use href="#A5"/><use href="#A6"/><use href="#B0"/><use href="#B1"/><use href="#B4"/><use href="#C0"/><use href="#C1"/><use href="#C2"/><use href="#C3"/><use href="#C4"/><use href="#D0"/><use href="#D1"/><use href="#D2"/><use href="#D3"/><use href="#D4"/><use href="#D5"/><use href="#D6"/><use href="#E0"/><use href="#E1"/><use href="#E2"/><use href="#E3"/><use href="#E4"/><use href="#E5"/><use href="#E6"/><use href="#F0"/><use href="#F1"/><use href="#F2"/><use href="#F3"/><use href="#F4"/><use href="#F5"/><use href="#F6"/><use href="#G0"/><use href="#G1"/><use href="#G2"/><use href="#G3"/><use href="#G4"/><use href="#G5"/><use href="#G6"/><use href="#H0"/><use href="#H1"/><use href="#H2"/><use href="#H3"/><use href="#H4"/><use href="#H5"/><use href="#H6"/><use href="#I0"/><use href="#I1"/><use href="#I2"/><use href="#I3"/><use href="#I4"/><use href="#I5"/><use href="#I6"/><use href="#J0"/><use href="#J1"/><use href="#J2"/><use href="#J3"/><use href="#J4"/><use href="#J5"/><use href="#J6"/><use href="#K0"/><use href="#K1"/><use href="#K2"/><use href="#K3"/><use href="#K4"/><use href="#K5"/><use href="#K6"/><use href="#O0"/><use href="#O1"/><use href="#O2"/><use href="#O3"/><use href="#O4"/><use href="#O5"/><use href="#O6"/><use href="#P0"/><use href="#P1"/><use href="#P2"/><use href="#P3"/><use href="#P4"/><use href="#P5"/><use href="#P6"/><use href="#Q0"/><use href="#R0"/><use href="#R1"/><use href="#R2"/><use href="#R3"/><use href="#R4"/><use href="#R5"/><use href="#R6"/><use href="#S0"/><use href="#S1"/><use href="#S2"/><use href="#S3"/><use href="#S4"/><use href="#S5"/><use href="#S6"/><use href="#T0"/><use href="#T1"/><use href="#T2"/><use href="#T3"/><use href="#T4"/><use href="#T5"/><use href="#T6"/><use href="#U0"/><use href="#U1"/><use href="#U2"/><use href="#U3"/><use href="#U4"/><use href="#U5"/><use href="#U6"/><use href="#V0"/><use href="#V1"/><use href="#V2"/><use href="#V3"/><use href="#V4"/><use href="#V5"/><use href="#V6"/></g>
<g stroke="#482677"><use href="#a7"/><use href="#b7"/><use href="#c7"/><use href="#e7"/><use href="#f7"/><use href="#g7"/><use href="#k7"/><use href="#l7"/><use href="#o7"/><use href="#p7"/><use href="#q7"/><use href="#s7"/><use href="#t7"/><use href="#u7"/><use href="#w7"/><use href="#x7"/><use href="#A7"/><use href="#D7"/><use href="#E7"/><use href="#G7"/><use href="#J7"/><use href="#K7"/><use href="#O7"/><use href="#P7"/><use href="#R7"/><use href="#S7"/><use href="#T7"/><use href="#U7"/><use href="#V7"/></g>
<g stroke="#46327e"><use href="#C5"/></g>
<g stroke="#433d84"><use href="#v6"/><use href="#y6"/><use href="#z6"/><use href="#H7"/><use href="#I7"/></g>
<g stroke="#3f4788"><use href="#Q1"/></g>
<g stroke="#3b528b"><use href="#a8"/><use href="#b8"/><use href="#c8"/><use href="#f8"/><use href="#g8"/><use href="#k8"/><use href="#l8"/><use href="#o8"/><use href="#p8"/><use href="#q8"/><use href="#s8"/><use href="#t8"/><use href="#v7"/><use href="#w8"/><use href="#x8"/><use href="#y7"/><use href="#A8"/><use href="#D8"/><use href="#E8"/><use href="#H8"/><use href="#I8"/><use href="#J8"/><use href="#K8"/><use href="#O8"/><use href="#P8"/><use href="#Q2"/><use href="#R8"/><use href="#S8"/><use href="#T8"/><use href="#U8"/></g>
<g stroke="#365c8d"><use href="#Q3"/><use href="#Q4"/></g>
<g stroke="#32658e"><use href="#v8"/><use href="#y8"/><use href="#Q5"/></g>
<g stroke="#2e6e8e"><use href="#C6"/><use href="#Q6"/><use href="#Q7"/></g>
<g stroke="#2a768e"><use href="#Q8"/></g>
<g stroke="#24878e"><use href="#C7"/></g>
<g stroke="#1fa187"><use href="#C8"/></g>
<g stroke="#5ec962"><use href="#L0"/><use href="#M0"/><use href="#N0"/></g>
<g stroke="#73d056"><use href="#L1"/><use href="#M1"/><use href="#N1"/></g>
<g stroke="#89d548"><use href="#L2"/><use href="#M2"/><use href="#N2"/></g>
<g stroke="#a0da39"><use href="#L3"/><use href="#M3"/><use href="#N3"/></g>
<g stroke="#b8de29"><use href="#L4"/><use href="#M4"/><use href="#N4"/></g>
<g stroke="#d0e11c"><use href="#L5"/><use href="#M5"/><use href="#N5"/></g>
<g stroke="#e7e419"><use href="#L6"/><use href="#L7"/><use href="#M6"/><use href="#M7"/><use href="#N6"/><use href="#N7"/></g>
<g stroke="#fde725"><use href="#L8"/><use href="#M8"/><use href="#N8"/></g>
</g>
<rect x="1814.3" y="40.3" width="12.4" height="350.1" fill="url(#vg)" stroke="#000" stroke-width="1.1"/>
<path d="M1826.7 390.4h6.4" stroke="#000" stroke-width="1.5"/>
<text x="1838.0" y="400.3" class="tk">0</text>
<path d="M1826.7 319.1h6.4" stroke="#000" stroke-width="1.5"/>
<text x="1838.0" y="329.0" class="tk">1</text>
<path d="M1826.7 247.8h6.4" stroke="#000" stroke-width="1.5"/>
<text x="1838.0" y="257.7" class="tk">2</text>
<path d="M1826.7 176.5h6.4" stroke="#000" stroke-width="1.5"/>
<text x="1838.0" y="186.4" class="tk">3</text>
<path d="M1826.7 105.2h6.4" stroke="#000" stroke-width="1.5"/>
<text x="1838.0" y="115.1" class="tk">4</text>
<text x="1629.6" y="30.9" class="tt" text-anchor="middle">ST18</text>
<g transform="translate(1916.1 0.0)" fill="none" stroke-linecap="round" stroke-width="2.5">
<g stroke="#440154"><use href="#a0"/><use href="#b0"/><use href="#c0"/><use href="#d0"/><use href="#f0"/><use href="#g0"/><use href="#h0"/><use href="#h1"/><use href="#i0"/><use href="#i1"/><use href="#j0"/><use href="#j1"/><use href="#k0"/><use href="#l0"/><use href="#m0"/><use href="#n0"/><use href="#n1"/><use href="#o0"/><use href="#p0"/><use href="#q0"/><use href="#r0"/><use href="#s0"/><use href="#t0"/><use href="#u0"/><use href="#u1"/><use href="#v0"/><use href="#v1"/><use href="#w0"/><use href="#x0"/><use href="#y0"/><use href="#z0"/><use href="#A0"/><use href="#A1"/><use href="#B0"/><use href="#D0"/><use href="#E0"/><use href="#F0"/><use href="#G0"/><use href="#J0"/><use href="#K0"/><use href="#O0"/><use href="#O1"/><use href="#P0"/><use href="#P1"/><use href="#Q0"/><use href="#Q1"/><use href="#R0"/><use href="#R1"/><use href="#S0"/><use href="#S1"/><use href="#T0"/><use href="#T1"/><use href="#U0"/><use href="#U1"/><use href="#V0"/></g>
<g stroke="#46327e"><use href="#l1"/><use href="#m1"/><use href="#o1"/><use href="#w1"/><use href="#x1"/><use href="#y1"/><use href="#z1"/><use href="#B1"/></g>
<g stroke="#433d84"><use href="#k1"/><use href="#n2"/><use href="#p1"/><use href="#r1"/><use href="#u2"/><use href="#v2"/><use href="#O2"/><use href="#P2"/><use href="#Q2"/><use href="#R2"/><use href="#S2"/><use href="#T2"/><use href="#U2"/></g>
<g stroke="#3f4788"><use href="#c1"/><use href="#d1"/><use href="#g1"/><use href="#i2"/><use href="#j2"/><use href="#l2"/><use href="#m2"/><use href="#n3"/><use href="#o2"/><use href="#q1"/><use href="#w2"/><use href="#x2"/><use href="#y2"/><use href="#z2"/><use href="#A2"/><use href="#G1"/><use href="#O3"/><use href="#P3"/></g>
<g stroke="#3b528b"><use href="#a1"/><use href="#b1"/><use href="#d2"/><use href="#i3"/><use href="#j3"/><use href="#k2"/><use href="#k3"/><use href="#l3"/><use href="#m3"/><use href="#n4"/><use href="#o3"/><use href="#p2"/><use href="#p3"/><use href="#r2"/><use href="#r3"/><use href="#s1"/><use href="#u3"/><use href="#v3"/><use href="#v4"/><use href="#w3"/><use href="#x3"/><use href="#y3"/><use href="#z3"/><use href="#A3"/><use href="#G2"/><use href="#O4"/><use href="#P4"/><use href="#Q3"/><use href="#Q4"/><use href="#R3"/><use href="#S3"/><use href="#T3"/><use href="#U3"/><use href="#V1"/></g>
<g stroke="#365c8d"><use href="#a2"/><use href="#b2"/><use href="#c2"/><use href="#c3"/><use href="#d3"/><use href="#g2"/><use href="#h4"/><use href="#j4"/><use href="#k4"/><use href="#l4"/><use href="#m4"/><use href="#n5"/><use href="#o4"/><use href="#p4"/><use href="#q2"/><use href="#q3"/><use href="#s2"/><use href="#t1"/><use href="#u4"/><use href="#u5"/><use href="#v5"/><use href="#w4"/><use href="#x4"/><use href="#y4"/><use href="#z4"/><use href="#A4"/><use href="#B4"/><use href="#G3"/><use href="#G4"/><use href="#H0"/><use href="#I0"/><use href="#J1"/><use href="#K1"/><use href="#O5"/><use href="#P5"/><use href="#Q5"/><use href="#R4"/><use href="#R5"/><use href="#S4"/><use href="#S5"/><use href="#T4"/><use href="#T5"/><use href="#U4"/><use href="#U5"/><use href="#V2"/></g>
<g stroke="#32658e"><use href="#a3"/><use href="#b3"/><use href="#c4"/><use href="#d4"/><use href="#e0"/><use href="#f1"/><use href="#g3"/><use href="#i5"/><use href="#j5"/><use href="#k5"/><use href="#l5"/><use href="#l6"/><use href="#m5"/><use href="#m6"/><use href="#o5"/><use href="#p5"/><use href="#q4"/><use href="#r5"/><use href="#s3"/><use href="#t2"/><use href="#t3"/><use href="#u6"/><use href="#v6"/><use href="#w5"/><use href="#x5"/><use href="#y5"/><use href="#z5"/><use href="#A5"/><use href="#C0"/><use href="#D1"/><use href="#E1"/><use href="#F1"/><use href="#G5"/><use href="#J2"/><use href="#K2"/><use href="#O6"/><use href="#P6"/><use href="#Q6"/><use href="#R6"/><use href="#S6"/><use href="#T6"/><use href="#U6"/><use href="#V3"/></g>
<g stroke="#2e6e8e"><use href="#a4"/><use href="#a5"/><use href="#b4"/><use href="#b5"/><use href="#c5"/><use href="#d5"/><use href="#f2"/><use href="#g4"/><use href="#g5"/><use href="#j6"/><use href="#k6"/><use href="#l7"/><use href="#o6"/><use href="#p6"/><use href="#q5"/><use href="#s4"/><use href="#s5"/><use href="#t4"/><use href="#u7"/><use href="#v7"/><use href="#w6"/><use href="#x6"/><use href="#y6"/><use href="#z6"/><use href="#A6"/><use href="#A7"/><use href="#D2"/><use href="#G6"/><use href="#H1"/><use href="#I1"/><use href="#J3"/><use href="#J4"/><use href="#K3"/><use href="#K4"/><use href="#O7"/><use href="#P7"/><use href="#Q7"/><use href="#R7"/><use href="#S7"/><use href="#T7"/><use href="#U7"/><use href="#V4"/><use href="#V5"/></g>
<g stroke="#2a768e"><use href="#a6"/><use href="#b6"/><use href="#c6"/><use href="#c7"/><use href="#d6"/><use href="#e1"/><use href="#f3"/><use href="#f4"/><use href="#g6"/><use href="#k7"/><use href="#k8"/><use href="#l8"/><use href="#o7"/><use href="#o8"/><use href="#p7"/><use href="#p8"/><use href="#q6"/><use href="#q7"/><use href="#s6"/><use href="#t5"/><use href="#v8"/><use href="#w7"/><use href="#w8"/><use href="#x7"/><use href="#x8"/><use href="#y7"/><use href="#y8"/><use href="#A8"/><use href="#D3"/><use href="#D4"/><use href="#E2"/><use href="#F2"/><use href="#G7"/><use href="#H2"/><use href="#I2"/><use href="#J5"/><use href="#K5"/><use href="#O8"/><use href="#P8"/><use href="#Q8"/><use href="#R8"/><use href="#S8"/><use href="#T8"/><use href="#U8"/><use href="#V6"/></g>
<g stroke="#277f8e"><use href="#a7"/><use href="#b7"/><use href="#c8"/><use href="#e2"/><use href="#f5"/><use href="#g7"/><use href="#q8"/><use href="#s7"/><use href="#t6"/><use href="#t7"/><use href="#C1"/><use href="#D5"/><use href="#E3"/><use href="#F3"/><use href="#H3"/><use href="#I3"/><use href="#J6"/><use href="#K6"/><use href="#V7"/></g>
<g stroke="#24878e"><use href="#a8"/><use href="#b8"/><use href="#e3"/><use href="#f6"/><use href="#f7"/><use href="#g8"/><use href="#s8"/><use href="#t8"/><use href="#C2"/><use href="#D6"/><use href="#D7"/><use href="#E4"/><use href="#F4"/><use href="#H4"/><use href="#H5"/><use href="#I4"/><use href="#I5"/><use href="#J7"/><use href="#J8"/><use href="#K7"/><use href="#K8"/></g>
<g stroke="#21918c"><use href="#e4"/><use href="#e5"/><use href="#f8"/><use href="#C3"/><use href="#C4"/><use href="#D8"/><use href="#E5"/><use href="#F5"/><use href="#H6"/><use href="#I6"/></g>
<g stroke="#1f998a"><use href="#e6"/><use href="#C5"/><use href="#E6"/><use href="#F6"/><use href="#H7"/><use href="#H8"/><use href="#I7"/><use href="#I8"/></g>
<g stroke="#1fa187"><use href="#e7"/><use href="#C6"/><use href="#E7"/></g>
<g stroke="#24aa83"><use href="#C7"/><use href="#C8"/><use href="#E8"/></g>
<g stroke="#5ec962"><use href="#L0"/><use href="#M0"/><use href="#N0"/></g>
<g stroke="#73d056"><use href="#L1"/><use href="#M1"/><use href="#N1"/></g>
<g stroke="#89d548"><use href="#L2"/><use href="#M2"/><use href="#N2"/></g>
<g stroke="#a0da39"><use href="#L3"/><use href="#L4"/><use href="#M3"/><use href="#M4"/><use href="#N3"/><use href="#N4"/></g>
<g stroke="#b8de29"><use href="#L5"/><use href="#M5"/><use href="#N5"/></g>
<g stroke="#d0e11c"><use href="#L6"/><use href="#L7"/><use href="#M6"/><use href="#M7"/><use href="#N6"/><use href="#N7"/></g>
<g stroke="#e7e419"><use href="#L8"/><use href="#M8"/><use href="#N8"/></g>
</g>
<rect x="2293.3" y="40.3" width="12.4" height="350.1" fill="url(#vg)" stroke="#000" stroke-width="1.1"/>
<path d="M2305.7 390.4h6.4" stroke="#000" stroke-width="1.5"/>
<text x="2317.0" y="400.3" class="tk">0</text>
<path d="M2305.7 317.1h6.4" stroke="#000" stroke-width="1.5"/>
<text x="2317.0" y="327.0" class="tk">1</text>
<path d="M2305.7 243.9h6.4" stroke="#000" stroke-width="1.5"/>
<text x="2317.0" y="253.8" class="tk">2</text>
<path d="M2305.7 170.6h6.4" stroke="#000" stroke-width="1.5"/>
<text x="2317.0" y="180.5" class="tk">3</text>
<path d="M2305.7 97.3h6.4" stroke="#000" stroke-width="1.5"/>
<text x="2317.0" y="107.2" class="tk">4</text>
<text x="2108.6" y="30.9" class="tt" text-anchor="middle">SLC44A1</text>
<g transform="translate(0.0 438.0)" fill="none" stroke-linecap="round" stroke-width="2.5">
<g stroke="#440154"><use href="#a0"/><use href="#a1"/><use href="#b0"/><use href="#b1"/><use href="#c0"/><use href="#c1"/><use href="#d0"/><use href="#d1"/><use href="#e0"/><use href="#f0"/><use href="#h0"/><use href="#h1"/><use href="#j0"/><use href="#j1"/><use href="#k0"/><use href="#k1"/><use href="#k2"/><use href="#l0"/><use href="#l1"/><use href="#l2"/><use href="#l3"/><use href="#m0"/><use href="#m1"/><use href="#m2"/><use href="#m3"/><use href="#n0"/><use href="#n1"/><use href="#n2"/><use href="#n3"/><use href="#n4"/><use href="#o0"/><use href="#o1"/><use href="#p0"/><use href="#p1"/><use href="#q0"/><use href="#r0"/><use href="#r1"/><use href="#s0"/><use href="#s1"/><use href="#t0"/><use href="#u0"/><use href="#u1"/><use href="#u2"/><use href="#u3"/><use href="#v0"/><use href="#v1"/><use href="#w0"/><use href="#w1"/><use href="#x0"/><use href="#x1"/><use href="#y0"/><use href="#y1"/><use href="#z0"/><use href="#z1"/><use href="#A0"/><use href="#A1"/><use href="#A2"/><use href="#B0"/><use href="#B1"/><use href="#D0"/><use href="#E0"/><use href="#F0"/><use href="#G0"/><use href="#G1"/><use href="#G2"/><use href="#H0"/><use href="#H1"/><use href="#I0"/><use href="#I1"/><use href="#J0"/><use href="#J1"/><use href="#K0"/><use href="#K1"/><use href="#O0"/><use href="#O1"/><use href="#O2"/><use href="#O3"/><use href="#O4"/><use href="#P0"/><use href="#P1"/><use href="#P2"/><use href="#P3"/><use href="#P4"/><use href="#Q0"/><use href="#Q1"/><use href="#R0"/><use href="#R1"/><use href="#R2"/><use href="#R3"/><use href="#S0"/><use href="#S1"/><use href="#S2"/><use href="#S3"/><use href="#T0"/><use href="#T1"/><use href="#T2"/><use href="#T3"/><use href="#U0"/><use href="#U1"/><use href="#U2"/><use href="#U3"/><use href="#V0"/><use href="#V1"/></g>
<g stroke="#482677"><use href="#a2"/><use href="#u4"/><use href="#H2"/><use href="#I2"/><use href="#R4"/><use href="#S4"/><use href="#T4"/><use href="#U4"/><use href="#V2"/></g>
<g stroke="#46327e"><use href="#k3"/><use href="#p2"/><use href="#r2"/><use href="#v2"/><use href="#w2"/><use href="#x2"/><use href="#G3"/><use href="#Q2"/></g>
<g stroke="#433d84"><use href="#a3"/><use href="#d2"/><use href="#e1"/><use href="#l4"/><use href="#m4"/><use href="#n5"/><use href="#o2"/><use href="#y2"/><use href="#z2"/><use href="#A3"/><use href="#H3"/><use href="#I3"/><use href="#J2"/><use href="#K2"/><use href="#O5"/><use href="#P5"/><use href="#V3"/></g>
<g stroke="#3f4788"><use href="#a4"/><use href="#b2"/><use href="#c2"/><use href="#k4"/><use href="#l5"/><use href="#m5"/><use href="#p3"/><use href="#q1"/><use href="#r3"/><use href="#s2"/><use href="#t1"/><use href="#u5"/><use href="#v3"/><use href="#w3"/><use href="#x3"/><use href="#y3"/><use href="#z3"/><use href="#A4"/><use href="#D1"/><use href="#G4"/><use href="#H4"/><use href="#I4"/><use href="#J3"/><use href="#K3"/><use href="#Q3"/><use href="#R5"/><use href="#S5"/><use href="#T5"/><use href="#U5"/><use href="#V4"/></g>
<g stroke="#3b528b"><use href="#a5"/><use href="#b3"/><use href="#c3"/><use href="#d3"/><use href="#d4"/><use href="#e2"/><use href="#e3"/><use href="#f1"/><use href="#j2"/><use href="#k5"/><use href="#l6"/><use href="#m6"/><use href="#o3"/><use href="#o4"/><use href="#p4"/><use href="#s3"/><use href="#t2"/><use href="#u6"/><use href="#v4"/><use href="#w4"/><use href="#x4"/><use href="#y4"/><use href="#z4"/><use href="#A5"/><use href="#B4"/><use href="#D2"/><use href="#G5"/><use href="#H5"/><use href="#I5"/><use href="#J4"/><use href="#K4"/><use href="#O6"/><use href="#P6"/><use href="#Q4"/><use href="#R6"/><use href="#S6"/><use href="#T6"/><use href="#U6"/><use href="#V5"/></g>
<g stroke="#365c8d"><use href="#a6"/><use href="#b4"/><use href="#c4"/><use href="#d5"/><use href="#e4"/><use href="#k6"/><use href="#l7"/><use href="#o5"/><use href="#p5"/><use href="#q2"/><use href="#r5"/><use href="#s4"/><use href="#t3"/><use href="#v5"/><use href="#w5"/><use href="#x5"/><use href="#y5"/><use href="#z5"/><use href="#A6"/><use href="#D3"/><use href="#E1"/><use href="#F1"/><use href="#G6"/><use href="#H6"/><use href="#I6"/><use href="#J5"/><use href="#K5"/><use href="#O7"/><use href="#P7"/><use href="#Q5"/><use href="#V6"/></g>
<g stroke="#32658e"><use href="#a7"/><use href="#b5"/><use href="#c5"/><use href="#d6"/><use href="#e5"/><use href="#f2"/><use href="#h4"/><use href="#j3"/><use href="#j4"/><use href="#k7"/><use href="#o6"/><use href="#p6"/><use href="#q3"/><use href="#s5"/><use href="#t4"/><use href="#u7"/><use href="#v6"/><use href="#v7"/><use href="#w6"/><use href="#w7"/><use href="#x6"/><use href="#x7"/><use href="#y6"/><use href="#z6"/><use href="#A7"/><use href="#D4"/><use href="#G7"/><use href="#H7"/><use href="#I7"/><use href="#J6"/><use href="#K6"/><use href="#O8"/><use href="#P8"/><use href="#Q6"/><use href="#Q7"/><use href="#R7"/><use href="#S7"/><use href="#T7"/><use href="#U7"/><use href="#V7"/></g>
<g stroke="#2e6e8e"><use href="#a8"/><use href="#b6"/><use href="#b7"/><use href="#c6"/><use href="#c7"/><use href="#e6"/><use href="#f3"/><use href="#j5"/><use href="#k8"/><use href="#l8"/><use href="#o7"/><use href="#p7"/><use href="#q4"/><use href="#q5"/><use href="#s6"/><use href="#s7"/><use href="#t5"/><use href="#v8"/><use href="#w8"/><use href="#x8"/><use href="#y7"/><use href="#A8"/><use href="#C0"/><use href="#D5"/><use href="#E2"/><use href="#F2"/><use href="#H8"/><use href="#I8"/><use href="#J7"/><use href="#K7"/><use href="#Q8"/><use href="#R8"/><use href="#S8"/><use href="#T8"/><use href="#U8"/></g>
<g stroke="#2a768e"><use href="#b8"/><use href="#c8"/><use href="#e7"/><use href="#f4"/><use href="#f5"/><use href="#g0"/><use href="#j6"/><use href="#o8"/><use href="#p8"/><use href="#q6"/><use href="#s8"/><use href="#t6"/><use href="#t7"/><use href="#y8"/><use href="#D6"/><use href="#D7"/><use href="#J8"/><use href="#K8"/></g>
<g stroke="#277f8e"><use href="#f6"/><use href="#q7"/><use href="#t8"/><use href="#C1"/><use href="#D8"/><use href="#E3"/><use href="#F3"/></g>
<g stroke="#24878e"><use href="#f7"/><use href="#f8"/><use href="#g1"/><use href="#q8"/><use href="#C2"/><use href="#E4"/><use href="#F4"/></g>
<g stroke="#21918c"><use href="#g2"/><use href="#C3"/><use href="#C4"/><use href="#E5"/><use href="#F5"/></g>
<g stroke="#1f998a"><use href="#g3"/><use href="#g4"/><use href="#C5"/><use href="#E6"/><use href="#F6"/></g>
<g stroke="#1fa187"><use href="#g5"/><use href="#C6"/><use href="#E7"/></g>
<g stroke="#24aa83"><use href="#g6"/><use href="#C7"/><use href="#C8"/><use href="#E8"/></g>
<g stroke="#2db27d"><use href="#g7"/><use href="#g8"/></g>
<g stroke="#4ac16d"><use href="#M0"/><use href="#N0"/></g>
<g stroke="#5ec962"><use href="#i0"/></g>
<g stroke="#73d056"><use href="#i1"/><use href="#i2"/><use href="#L0"/><use href="#M1"/><use href="#M2"/><use href="#N1"/><use href="#N2"/></g>
<g stroke="#89d548"><use href="#i3"/><use href="#L1"/><use href="#M3"/><use href="#N3"/></g>
<g stroke="#a0da39"><use href="#i5"/><use href="#L2"/><use href="#L3"/><use href="#M4"/><use href="#M5"/><use href="#N4"/><use href="#N5"/></g>
<g stroke="#b8de29"><use href="#L4"/><use href="#L5"/><use href="#M6"/><use href="#M7"/><use href="#N6"/><use href="#N7"/></g>
<g stroke="#d0e11c"><use href="#L6"/><use href="#L7"/><use href="#M8"/><use href="#N8"/></g>
<g stroke="#e7e419"><use href="#L8"/></g>
</g>
<rect x="377.2" y="478.3" width="12.4" height="350.1" fill="url(#vg)" stroke="#000" stroke-width="1.1"/>
<path d="M389.6 828.4h6.4" stroke="#000" stroke-width="1.5"/>
<text x="400.9" y="838.3" class="tk">0</text>
<path d="M389.6 754.1h6.4" stroke="#000" stroke-width="1.5"/>
<text x="400.9" y="764.0" class="tk">1</text>
<path d="M389.6 679.7h6.4" stroke="#000" stroke-width="1.5"/>
<text x="400.9" y="689.6" class="tk">2</text>
<path d="M389.6 605.4h6.4" stroke="#000" stroke-width="1.5"/>
<text x="400.9" y="615.3" class="tk">3</text>
<path d="M389.6 531.1h6.4" stroke="#000" stroke-width="1.5"/>
<text x="400.9" y="541.0" class="tk">4</text>
<text x="192.0" y="468.0" class="tt" text-anchor="middle">PIP4K2A</text>
<g transform="translate(479.0 438.0)" fill="none" stroke-linecap="round" stroke-width="2.5">
<g stroke="#440154"><use href="#a0"/><use href="#a1"/><use href="#a2"/><use href="#a3"/><use href="#a4"/><use href="#b0"/><use href="#b1"/><use href="#b2"/><use href="#b3"/><use href="#b4"/><use href="#c0"/><use href="#c1"/><use href="#d0"/><use href="#e0"/><use href="#e1"/><use href="#f0"/><use href="#f1"/><use href="#f2"/><use href="#f3"/><use href="#f4"/><use href="#g0"/><use href="#g1"/><use href="#g2"/><use href="#g3"/><use href="#g4"/><use href="#h0"/><use href="#h1"/><use href="#i0"/><use href="#i1"/><use href="#i2"/><use href="#j0"/><use href="#k0"/><use href="#k1"/><use href="#k2"/><use href="#k3"/><use href="#k4"/><use href="#l0"/><use href="#l1"/><use href="#l2"/><use href="#l3"/><use href="#l4"/><use href="#m0"/><use href="#m1"/><use href="#m2"/><use href="#m3"/><use href="#m4"/><use href="#n0"/><use href="#n1"/><use href="#n2"/><use href="#n3"/><use href="#n4"/><use href="#o0"/><use href="#o1"/><use href="#o2"/><use href="#o3"/><use href="#o4"/><use href="#p0"/><use href="#p1"/><use href="#p2"/><use href="#p3"/><use href="#p4"/><use href="#q0"/><use href="#q1"/><use href="#q2"/><use href="#q3"/><use href="#q4"/><use href="#r0"/><use href="#r1"/><use href="#r2"/><use href="#r3"/><use href="#s0"/><use href="#s1"/><use href="#s2"/><use href="#s3"/><use href="#s4"/><use href="#t0"/><use href="#t1"/><use href="#t2"/><use href="#t3"/><use href="#u0"/><use href="#u1"/><use href="#u2"/><use href="#u3"/><use href="#u4"/><use href="#v0"/><use href="#v1"/><use href="#v2"/><use href="#v3"/><use href="#w0"/><use href="#w1"/><use href="#w2"/><use href="#w3"/><use href="#x0"/><use href="#x1"/><use href="#x2"/><use href="#x3"/><use href="#y0"/><use href="#y1"/><use href="#y2"/><use href="#y3"/><use href="#z0"/><use href="#z1"/><use href="#z2"/><use href="#z3"/><use href="#A0"/><use href="#A1"/><use href="#A2"/><use href="#A3"/><use href="#A4"/><use href="#B0"/><use href="#B1"/><use href="#C0"/><use href="#C1"/><use href="#C2"/><use href="#C3"/><use href="#C4"/><use href="#D0"/><use href="#D1"/><use href="#D2"/><use href="#D3"/><use href="#D4"/><use href="#D5"/><use href="#E0"/><use href="#E1"/><use href="#F0"/><use href="#F1"/><use href="#G0"/><use href="#G1"/><use href="#G2"/><use href="#G3"/><use href="#H0"/><use href="#H1"/><use href="#H2"/><use href="#H3"/><use href="#I0"/><use href="#I1"/><use href="#I2"/><use href="#I3"/><use href="#J0"/><use href="#J1"/><use href="#J2"/><use href="#J3"/><use href="#K0"/><use href="#K1"/><use href="#K2"/><use href="#K3"/><use href="#O0"/><use href="#O1"/><use href="#O2"/><use href="#O3"/><use href="#O4"/><use href="#P0"/><use href="#P1"/><use href="#P2"/><use href="#P3"/><use href="#P4"/><use href="#Q0"/><use href="#Q1"/><use href="#Q2"/><use href="#Q3"/><use href="#R0"/><use href="#R1"/><use href="#R2"/><use href="#R3"/><use href="#R4"/><use href="#S0"/><use href="#S1"/><use href="#S2"/><use href="#S3"/><use href="#S4"/><use href="#T0"/><use href="#T1"/><use href="#T2"/><use href="#T3"/><use href="#T4"/><use href="#U0"/><use href="#U1"/><use href="#U2"/><use href="#U3"/><use href="#U4"/><use href="#V0"/><use href="#V1"/><use href="#V2"/><use href="#V3"/><use href="#V4"/></g>
<g stroke="#481b6d"><use href="#k5"/><use href="#l5"/><use href="#m5"/><use href="#n5"/><use href="#o5"/><use href="#p5"/><use href="#q5"/><use href="#r5"/><use href="#s5"/><use href="#t4"/><use href="#u5"/><use href="#v4"/><use href="#w4"/><use href="#x4"/><use href="#y4"/><use href="#z4"/><use href="#B4"/><use href="#G4"/><use href="#J4"/><use href="#K4"/><use href="#O5"/><use href="#P5"/><use href="#Q4"/><use href="#R5"/><use href="#S5"/><use href="#T5"/><use href="#U5"/></g>
<g stroke="#482677"><use href="#a5"/><use href="#e2"/><use href="#f5"/><use href="#g5"/><use href="#A5"/><use href="#C5"/><use href="#H4"/><use href="#I4"/><use href="#V5"/></g>
<g stroke="#46327e"><use href="#b5"/><use href="#k6"/><use href="#l6"/><use href="#m6"/><use href="#o6"/><use href="#p6"/><use href="#q6"/><use href="#s6"/><use href="#t5"/><use href="#u6"/><use href="#v5"/><use href="#w5"/><use href="#x5"/><use href="#y5"/><use href="#z5"/><use href="#D6"/><use href="#G5"/><use href="#H5"/><use href="#I5"/><use href="#J5"/><use href="#K5"/><use href="#O6"/><use href="#P6"/><use href="#Q5"/><use href="#R6"/><use href="#S6"/><use href="#T6"/><use href="#U6"/></g>
<g stroke="#433d84"><use href="#a6"/><use href="#b6"/><use href="#c2"/><use href="#e3"/><use href="#f6"/><use href="#k7"/><use href="#l7"/><use href="#p7"/><use href="#q7"/><use href="#s7"/><use href="#u7"/><use href="#A6"/><use href="#O7"/><use href="#P7"/><use href="#R7"/><use href="#S7"/><use href="#T7"/><use href="#U7"/><use href="#V6"/></g>
<g stroke="#3f4788"><use href="#a7"/><use href="#e4"/><use href="#f7"/><use href="#g6"/><use href="#i3"/><use href="#k8"/><use href="#l8"/><use href="#o7"/><use href="#p8"/><use href="#q8"/><use href="#s8"/><use href="#t6"/><use href="#v6"/><use href="#w6"/><use href="#x6"/><use href="#y6"/><use href="#z6"/><use href="#A7"/><use href="#C6"/><use href="#D7"/><use href="#G6"/><use href="#H6"/><use href="#H7"/><use href="#I6"/><use href="#I7"/><use href="#J6"/><use href="#K6"/><use href="#O8"/><use href="#P8"/><use href="#Q6"/><use href="#R8"/><use href="#S8"/><use href="#T8"/><use href="#U8"/><use href="#V7"/></g>
<g stroke="#3b528b"><use href="#a8"/><use href="#b7"/><use href="#c3"/><use href="#e5"/><use href="#g7"/><use href="#h4"/><use href="#o8"/><use href="#t7"/><use href="#v7"/><use href="#w7"/><use href="#x7"/><use href="#y7"/><use href="#D8"/><use href="#E2"/><use href="#F2"/><use href="#G7"/><use href="#J7"/><use href="#K7"/><use href="#Q7"/></g>
<g stroke="#365c8d"><use href="#b8"/><use href="#c4"/><use href="#e6"/><use href="#f8"/><use href="#i5"/><use href="#t8"/><use href="#v8"/><use href="#w8"/><use href="#x8"/><use href="#y8"/><use href="#A8"/><use href="#C7"/><use href="#H8"/><use href="#I8"/><use href="#J8"/><use href="#K8"/><use href="#Q8"/></g>
<g stroke="#32658e"><use href="#c5"/><use href="#c6"/><use href="#e7"/><use href="#g8"/><use href="#C8"/><use href="#E3"/><use href="#F3"/></g>
<g stroke="#2e6e8e"><use href="#c7"/><use href="#E4"/><use href="#F4"/></g>
<g stroke="#2a768e"><use href="#c8"/><use href="#d1"/><use href="#j1"/></g>
<g stroke="#277f8e"><use href="#d2"/><use href="#E5"/><use href="#F5"/></g>
<g stroke="#24878e"><use href="#d3"/><use href="#E6"/><use href="#F6"/></g>
<g stroke="#21918c"><use href="#d4"/><use href="#d5"/><use href="#E7"/></g>
<g stroke="#1f998a"><use href="#d6"/><use href="#j2"/><use href="#E8"/></g>
<g stroke="#24aa83"><use href="#j3"/><use href="#L0"/></g>
<g stroke="#2db27d"><use href="#j4"/></g>
<g stroke="#3aba76"><use href="#L1"/></g>
<g stroke="#4ac16d"><use href="#j5"/><use href="#L2"/><use href="#M0"/><use href="#N0"/></g>
<g stroke="#5ec962"><use href="#L3"/></g>
<g stroke="#73d056"><use href="#j6"/><use href="#L4"/><use href="#M1"/><use href="#N1"/></g>
<g stroke="#89d548"><use href="#L5"/><use href="#M2"/><use href="#M3"/><use href="#N2"/><use href="#N3"/></g>
<g stroke="#a0da39"><use href="#L6"/><use href="#M4"/><use href="#N4"/></g>
<g stroke="#b8de29"><use href="#L7"/><use href="#L8"/><use href="#M5"/><use href="#M6"/><use href="#N5"/><use href="#N6"/></g>
<g stroke="#d0e11c"><use href="#M7"/><use href="#N7"/></g>
<g stroke="#e7e419"><use href="#M8"/><use href="#N8"/></g>
</g>
<rect x="856.2" y="478.3" width="12.4" height="350.1" fill="url(#vg)" stroke="#000" stroke-width="1.1"/>
<path d="M868.6 828.4h6.4" stroke="#000" stroke-width="1.5"/>
<text x="879.9" y="838.3" class="tk">0</text>
<path d="M868.6 757.6h6.4" stroke="#000" stroke-width="1.5"/>
<text x="879.9" y="767.5" class="tk">1</text>
<path d="M868.6 686.9h6.4" stroke="#000" stroke-width="1.5"/>
<text x="879.9" y="696.8" class="tk">2</text>
<path d="M868.6 616.1h6.4" stroke="#000" stroke-width="1.5"/>
<text x="879.9" y="626.0" class="tk">3</text>
<path d="M868.6 545.4h6.4" stroke="#000" stroke-width="1.5"/>
<text x="879.9" y="555.3" class="tk">4</text>
<text x="671.5" y="468.0" class="tt" text-anchor="middle">RNF220</text>
<g transform="translate(958.1 438.0)" fill="none" stroke-linecap="round" stroke-width="2.5">
<g stroke="#440154"><use href="#a0"/><use href="#a1"/><use href="#a2"/><use href="#a3"/><use href="#b0"/><use href="#b1"/><use href="#b2"/><use href="#b3"/><use href="#c0"/><use href="#d0"/><use href="#d1"/><use href="#e0"/><use href="#e1"/><use href="#f0"/><use href="#G0"/><use href="#G1"/><use href="#G2"/><use href="#G3"/><use href="#H0"/><use href="#I0"/><use href="#J0"/><use href="#J1"/><use href="#K0"/><use href="#K1"/><use href="#K2"/><use href="#V0"/><use href="#V1"/><use href="#V2"/><use href="#V3"/></g>
<g stroke="#481b6d"><use href="#a4"/><use href="#b4"/><use href="#V4"/></g>
<g stroke="#482677"><use href="#K3"/></g>
<g stroke="#46327e"><use href="#d2"/><use href="#e2"/><use href="#G4"/></g>
<g stroke="#433d84"><use href="#a5"/><use href="#b5"/><use href="#c1"/><use href="#f1"/><use href="#G5"/><use href="#I1"/><use href="#K4"/><use href="#V5"/></g>
<g stroke="#3f4788"><use href="#a6"/><use href="#b6"/><use href="#d3"/><use href="#e3"/><use href="#w0"/><use href="#G6"/><use href="#I2"/><use href="#J2"/><use href="#K5"/><use href="#V6"/></g>
<g stroke="#3b528b"><use href="#a7"/><use href="#b7"/><use href="#c2"/><use href="#d4"/><use href="#e4"/><use href="#f2"/><use href="#f3"/><use href="#G7"/><use href="#H1"/><use href="#I3"/><use href="#J3"/><use href="#K6"/><use href="#V7"/></g>
<g stroke="#365c8d"><use href="#c3"/><use href="#c4"/><use href="#d5"/><use href="#e5"/><use href="#f4"/><use href="#w1"/><use href="#H2"/><use href="#I4"/><use href="#J4"/><use href="#K7"/></g>
<g stroke="#32658e"><use href="#a8"/><use href="#b8"/><use href="#c5"/><use href="#d6"/><use href="#e6"/><use href="#e7"/><use href="#f5"/><use href="#v0"/><use href="#w2"/><use href="#y0"/><use href="#z0"/><use href="#B0"/><use href="#H3"/><use href="#I5"/><use href="#I6"/><use href="#J5"/><use href="#J6"/><use href="#K8"/><use href="#Q0"/></g>
<g stroke="#2e6e8e"><use href="#c6"/><use href="#f6"/><use href="#n0"/><use href="#o0"/><use href="#w3"/><use href="#H4"/><use href="#H5"/><use href="#I7"/><use href="#J7"/><use href="#O0"/><use href="#P0"/></g>
<g stroke="#2a768e"><use href="#c7"/><use href="#c8"/><use href="#f7"/><use href="#f8"/><use href="#h0"/><use href="#i0"/><use href="#j0"/><use href="#k0"/><use href="#l0"/><use href="#m0"/><use href="#o1"/><use href="#p0"/><use href="#q0"/><use href="#r0"/><use href="#t0"/><use href="#u0"/><use href="#v1"/><use href="#w4"/><use href="#w5"/><use href="#x0"/><use href="#y1"/><use href="#z1"/><use href="#A0"/><use href="#B1"/><use href="#D0"/><use href="#H6"/><use href="#I8"/><use href="#J8"/><use href="#Q1"/><use href="#R0"/><use href="#S0"/><use href="#T0"/><use href="#U0"/></g>
<g stroke="#277f8e"><use href="#k1"/><use href="#l1"/><use href="#m1"/><use href="#n1"/><use href="#o2"/><use href="#p1"/><use href="#r1"/><use href="#s0"/><use href="#u1"/><use href="#v2"/><use href="#w6"/><use href="#x1"/><use href="#y2"/><use href="#y3"/><use href="#z2"/><use href="#z3"/><use href="#A1"/><use href="#D1"/><use href="#H7"/><use href="#H8"/><use href="#O1"/><use href="#P1"/><use href="#Q2"/><use href="#R1"/><use href="#S1"/><use href="#T1"/><use href="#U1"/></g>
<g stroke="#24878e"><use href="#h1"/><use href="#i1"/><use href="#j1"/><use href="#k2"/><use href="#l2"/><use href="#m2"/><use href="#n2"/><use href="#o3"/><use href="#p2"/><use href="#q1"/><use href="#r2"/><use href="#s1"/><use href="#t1"/><use href="#u2"/><use href="#v3"/><use href="#v4"/><use href="#w7"/><use href="#w8"/><use href="#x2"/><use href="#y4"/><use href="#z4"/><use href="#A2"/><use href="#B4"/><use href="#D2"/><use href="#O2"/><use href="#P2"/><use href="#Q3"/><use href="#Q4"/><use href="#R2"/><use href="#S2"/><use href="#T2"/><use href="#U2"/></g>
<g stroke="#21918c"><use href="#i2"/><use href="#i3"/><use href="#j2"/><use href="#j3"/><use href="#k3"/><use href="#k4"/><use href="#l3"/><use href="#l4"/><use href="#m3"/><use href="#m4"/><use href="#n3"/><use href="#o4"/><use href="#o5"/><use href="#p3"/><use href="#q2"/><use href="#q3"/><use href="#r3"/><use href="#s2"/><use href="#t2"/><use href="#t3"/><use href="#u3"/><use href="#u4"/><use href="#v5"/><use href="#x3"/><use href="#x4"/><use href="#y5"/><use href="#y6"/><use href="#z5"/><use href="#z6"/><use href="#A3"/><use href="#A4"/><use href="#D3"/><use href="#D4"/><use href="#O3"/><use href="#P3"/><use href="#Q5"/><use href="#R3"/><use href="#R4"/><use href="#S3"/><use href="#S4"/><use href="#T3"/><use href="#T4"/><use href="#U3"/><use href="#U4"/></g>
<g stroke="#1f998a"><use href="#h4"/><use href="#j4"/><use href="#k5"/><use href="#l5"/><use href="#m5"/><use href="#n4"/><use href="#n5"/><use href="#o6"/><use href="#p4"/><use href="#p5"/><use href="#q4"/><use href="#r5"/><use href="#s3"/><use href="#t4"/><use href="#u5"/><use href="#v6"/><use href="#x5"/><use href="#y7"/><use href="#A5"/><use href="#D5"/><use href="#O4"/><use href="#O5"/><use href="#P4"/><use href="#P5"/><use href="#Q6"/><use href="#R5"/><use href="#S5"/><use href="#T5"/><use href="#U5"/></g>
<g stroke="#1fa187"><use href="#i5"/><use href="#j5"/><use href="#j6"/><use href="#k6"/><use href="#k7"/><use href="#l6"/><use href="#l7"/><use href="#m6"/><use href="#o7"/><use href="#o8"/><use href="#p6"/><use href="#q5"/><use href="#q6"/><use href="#s4"/><use href="#s5"/><use href="#t5"/><use href="#t6"/><use href="#u6"/><use href="#u7"/><use href="#v7"/><use href="#v8"/><use href="#x6"/><use href="#x7"/><use href="#y8"/><use href="#A6"/><use href="#A7"/><use href="#D6"/><use href="#D7"/><use href="#O6"/><use href="#P6"/><use href="#Q7"/><use href="#Q8"/><use href="#R6"/><use href="#R7"/><use href="#S6"/><use href="#S7"/><use href="#T6"/><use href="#T7"/><use href="#U6"/><use href="#U7"/></g>
<g stroke="#24aa83"><use href="#k8"/><use href="#l8"/><use href="#p7"/><use href="#p8"/><use href="#q7"/><use href="#s6"/><use href="#t7"/><use href="#x8"/><use href="#A8"/><use href="#D8"/><use href="#O7"/><use href="#P7"/><use href="#R8"/><use href="#S8"/><use href="#T8"/><use href="#U8"/></g>
<g stroke="#2db27d"><use href="#g0"/><use href="#q8"/><use href="#s7"/><use href="#s8"/><use href="#t8"/><use href="#E0"/><use href="#F0"/><use href="#O8"/><use href="#P8"/></g>
<g stroke="#3aba76"><use href="#g1"/><use href="#C0"/><use href="#E1"/><use href="#F1"/></g>
<g stroke="#4ac16d"><use href="#g2"/><use href="#g3"/><use href="#C1"/><use href="#E2"/><use href="#E3"/><use href="#F2"/><use href="#F3"/></g>
<g stroke="#5ec962"><use href="#g4"/><use href="#g5"/><use href="#C2"/><use href="#C3"/><use href="#E4"/><use href="#E5"/><use href="#F4"/><use href="#F5"/></g>
<g stroke="#73d056"><use href="#g6"/><use href="#g7"/><use href="#C4"/><use href="#C5"/><use href="#C6"/><use href="#E6"/><use href="#F6"/></g>
<g stroke="#89d548"><use href="#g8"/><use href="#C7"/><use href="#C8"/><use href="#E7"/><use href="#E8"/><use href="#L0"/><use href="#M0"/><use href="#N0"/></g>
<g stroke="#a0da39"><use href="#L1"/><use href="#M1"/><use href="#N1"/></g>
<g stroke="#b8de29"><use href="#L2"/><use href="#M2"/><use href="#N2"/></g>
<g stroke="#d0e11c"><use href="#L3"/><use href="#L4"/><use href="#L5"/><use href="#M3"/><use href="#M4"/><use href="#M5"/><use href="#N3"/><use href="#N4"/><use href="#N5"/></g>
<g stroke="#e7e419"><use href="#L6"/><use href="#M6"/><use href="#N6"/></g>
<g stroke="#fde725"><use href="#L7"/><use href="#L8"/><use href="#M7"/><use href="#M8"/><use href="#N7"/><use href="#N8"/></g>
</g>
<rect x="1335.3" y="478.3" width="12.4" height="350.1" fill="url(#vg)" stroke="#000" stroke-width="1.1"/>
<path d="M1347.7 828.4h6.4" stroke="#000" stroke-width="1.5"/>
<text x="1359.0" y="838.3" class="tk">0</text>
<path d="M1347.7 760.8h6.4" stroke="#000" stroke-width="1.5"/>
<text x="1359.0" y="770.7" class="tk">1</text>
<path d="M1347.7 693.1h6.4" stroke="#000" stroke-width="1.5"/>
<text x="1359.0" y="703.0" class="tk">2</text>
<path d="M1347.7 625.5h6.4" stroke="#000" stroke-width="1.5"/>
<text x="1359.0" y="635.4" class="tk">3</text>
<path d="M1347.7 557.8h6.4" stroke="#000" stroke-width="1.5"/>
<text x="1359.0" y="567.7" class="tk">4</text>
<path d="M1347.7 490.2h6.4" stroke="#000" stroke-width="1.5"/>
<text x="1359.0" y="500.1" class="tk">5</text>
<text x="1150.6" y="468.0" class="tt" text-anchor="middle">QKI</text>
<g transform="translate(1437.1 438.0)" fill="none" stroke-linecap="round" stroke-width="2.5">
<g stroke="#440154"><use href="#a0"/><use href="#a1"/><use href="#b0"/><use href="#b1"/><use href="#e0"/><use href="#f0"/><use href="#j0"/><use href="#j1"/><use href="#j2"/><use href="#k0"/><use href="#l0"/><use href="#m0"/><use href="#o0"/><use href="#o1"/><use href="#o2"/><use href="#q0"/><use href="#q1"/><use href="#s0"/><use href="#s1"/><use href="#s2"/><use href="#s3"/><use href="#s4"/><use href="#s5"/><use href="#t0"/><use href="#t1"/><use href="#t2"/><use href="#t3"/><use href="#t4"/><use href="#x0"/><use href="#x1"/><use href="#D0"/><use href="#D1"/><use href="#D2"/><use href="#D3"/><use href="#D4"/><use href="#H0"/><use href="#H1"/><use href="#I0"/><use href="#J0"/><use href="#J1"/><use href="#P0"/><use href="#P1"/><use href="#P2"/><use href="#P3"/><use href="#R0"/><use href="#R1"/><use href="#T0"/><use href="#T1"/><use href="#T2"/><use href="#V0"/><use href="#V1"/></g>
<g stroke="#481b6d"><use href="#b2"/></g>
<g stroke="#482677"><use href="#D5"/></g>
<g stroke="#46327e"><use href="#b3"/><use href="#H2"/></g>
<g stroke="#433d84"><use href="#a2"/><use href="#b4"/><use href="#e1"/><use href="#o3"/><use href="#s6"/><use href="#R2"/><use href="#V2"/></g>
<g stroke="#3f4788"><use href="#a3"/><use href="#b5"/><use href="#t5"/><use href="#x2"/><use href="#D6"/><use href="#G0"/><use href="#H3"/><use href="#I1"/><use href="#J2"/><use href="#P4"/><use href="#T3"/><use href="#V3"/></g>
<g stroke="#3b528b"><use href="#a4"/><use href="#a5"/><use href="#b6"/><use href="#e2"/><use href="#e3"/><use href="#o4"/><use href="#s7"/><use href="#x3"/><use href="#D7"/><use href="#J3"/><use href="#R3"/><use href="#T4"/><use href="#V4"/><use href="#V5"/></g>
<g stroke="#365c8d"><use href="#a6"/><use href="#b7"/><use href="#e4"/><use href="#f1"/><use href="#o5"/><use href="#t6"/><use href="#x4"/><use href="#G1"/><use href="#H4"/><use href="#I2"/><use href="#J4"/><use href="#P5"/><use href="#R4"/><use href="#T5"/><use href="#V6"/></g>
<g stroke="#32658e"><use href="#a7"/><use href="#b8"/><use href="#e5"/><use href="#f2"/><use href="#o6"/><use href="#s8"/><use href="#t7"/><use href="#x5"/><use href="#D8"/><use href="#G2"/><use href="#H5"/><use href="#J5"/><use href="#P6"/><use href="#R5"/><use href="#R6"/><use href="#T6"/><use href="#V7"/></g>
<g stroke="#2e6e8e"><use href="#a8"/><use href="#e6"/><use href="#f3"/><use href="#h0"/><use href="#i0"/><use href="#k1"/><use href="#l1"/><use href="#m1"/><use href="#o7"/><use href="#x6"/><use href="#G3"/><use href="#H6"/><use href="#I3"/><use href="#J6"/><use href="#J7"/><use href="#R7"/><use href="#T7"/></g>
<g stroke="#2a768e"><use href="#c0"/><use href="#e7"/><use href="#f4"/><use href="#f5"/><use href="#h1"/><use href="#i1"/><use href="#j3"/><use href="#o8"/><use href="#p0"/><use href="#q2"/><use href="#r0"/><use href="#t8"/><use href="#u0"/><use href="#w0"/><use href="#x7"/><use href="#G4"/><use href="#G5"/><use href="#H7"/><use href="#I4"/><use href="#J8"/><use href="#K0"/><use href="#P7"/><use href="#R8"/><use href="#T8"/><use href="#U0"/></g>
<g stroke="#277f8e"><use href="#f6"/><use href="#i2"/><use href="#j4"/><use href="#k2"/><use href="#l2"/><use href="#m2"/><use href="#q3"/><use href="#v0"/><use href="#w1"/><use href="#x8"/><use href="#E0"/><use href="#F0"/><use href="#G6"/><use href="#I5"/><use href="#K1"/><use href="#O0"/></g>
<g stroke="#24878e"><use href="#c1"/><use href="#d0"/><use href="#f7"/><use href="#f8"/><use href="#i3"/><use href="#j5"/><use href="#k3"/><use href="#l3"/><use href="#m3"/><use href="#p1"/><use href="#q4"/><use href="#r1"/><use href="#u1"/><use href="#w2"/><use href="#y0"/><use href="#z0"/><use href="#A0"/><use href="#B0"/><use href="#G7"/><use href="#H8"/><use href="#I6"/><use href="#K2"/><use href="#P8"/><use href="#Q0"/><use href="#U1"/></g>
<g stroke="#21918c"><use href="#c2"/><use href="#c3"/><use href="#d1"/><use href="#h4"/><use href="#i5"/><use href="#j6"/><use href="#k4"/><use href="#l4"/><use href="#l5"/><use href="#m4"/><use href="#m5"/><use href="#p2"/><use href="#p3"/><use href="#q5"/><use href="#r2"/><use href="#r3"/><use href="#u2"/><use href="#v1"/><use href="#w3"/><use href="#E1"/><use href="#F1"/><use href="#I7"/><use href="#K3"/><use href="#Q1"/><use href="#U2"/></g>
<g stroke="#1f998a"><use href="#c4"/><use href="#d2"/><use href="#k5"/><use href="#l6"/><use href="#m6"/><use href="#p4"/><use href="#q6"/><use href="#q7"/><use href="#u3"/><use href="#v2"/><use href="#w4"/><use href="#w5"/><use href="#y1"/><use href="#z1"/><use href="#A1"/><use href="#B1"/><use href="#E2"/><use href="#F2"/><use href="#I8"/><use href="#K4"/><use href="#K5"/><use href="#O1"/><use href="#Q2"/><use href="#S0"/><use href="#U3"/></g>
<g stroke="#1fa187"><use href="#c5"/><use href="#c6"/><use href="#d3"/><use href="#g0"/><use href="#k6"/><use href="#l7"/><use href="#n0"/><use href="#p5"/><use href="#p6"/><use href="#q8"/><use href="#r5"/><use href="#u4"/><use href="#v3"/><use href="#w6"/><use href="#y2"/><use href="#z2"/><use href="#A2"/><use href="#E3"/><use href="#F3"/><use href="#K6"/><use href="#O2"/><use href="#Q3"/><use href="#S1"/><use href="#U4"/></g>
<g stroke="#24aa83"><use href="#c7"/><use href="#d4"/><use href="#d5"/><use href="#k7"/><use href="#l8"/><use href="#n1"/><use href="#p7"/><use href="#u5"/><use href="#u6"/><use href="#v4"/><use href="#v5"/><use href="#w7"/><use href="#w8"/><use href="#y3"/><use href="#y4"/><use href="#z3"/><use href="#z4"/><use href="#A3"/><use href="#A4"/><use href="#B4"/><use href="#E4"/><use href="#E5"/><use href="#F4"/><use href="#F5"/><use href="#K7"/><use href="#K8"/><use href="#O3"/><use href="#Q4"/><use href="#S2"/><use href="#U5"/><use href="#U6"/></g>
<g stroke="#2db27d"><use href="#c8"/><use href="#d6"/><use href="#g1"/><use href="#k8"/><use href="#n2"/><use href="#p8"/><use href="#u7"/><use href="#v6"/><use href="#y5"/><use href="#z5"/><use href="#A5"/><use href="#E6"/><use href="#F6"/><use href="#O4"/><use href="#Q5"/><use href="#Q6"/><use href="#S3"/><use href="#S4"/><use href="#U7"/></g>
<g stroke="#3aba76"><use href="#g2"/><use href="#n3"/><use href="#n4"/><use href="#v7"/><use href="#y6"/><use href="#z6"/><use href="#A6"/><use href="#C0"/><use href="#E7"/><use href="#O5"/><use href="#Q7"/><use href="#S5"/><use href="#U8"/></g>
<g stroke="#4ac16d"><use href="#g3"/><use href="#g4"/><use href="#n5"/><use href="#v8"/><use href="#y7"/><use href="#y8"/><use href="#A7"/><use href="#A8"/><use href="#C1"/><use href="#E8"/><use href="#O6"/><use href="#Q8"/><use href="#S6"/></g>
<g stroke="#5ec962"><use href="#g5"/><use href="#C2"/><use href="#C3"/><use href="#O7"/><use href="#S7"/><use href="#S8"/></g>
<g stroke="#73d056"><use href="#g6"/><use href="#C4"/><use href="#C5"/><use href="#O8"/></g>
<g stroke="#89d548"><use href="#g7"/><use href="#g8"/><use href="#C6"/><use href="#C7"/><use href="#L0"/><use href="#M0"/><use href="#N0"/></g>
<g stroke="#a0da39"><use href="#C8"/><use href="#L1"/><use href="#M1"/><use href="#N1"/></g>
<g stroke="#b8de29"><use href="#L2"/><use href="#M2"/><use href="#N2"/></g>
<g stroke="#d0e11c"><use href="#L3"/><use href="#L4"/><use href="#L5"/><use href="#M3"/><use href="#M4"/><use href="#M5"/><use href="#N3"/><use href="#N4"/><use href="#N5"/></g>
<g stroke="#e7e419"><use href="#L6"/><use href="#M6"/><use href="#N6"/></g>
<g stroke="#fde725"><use href="#L7"/><use href="#L8"/><use href="#M7"/><use href="#M8"/><use href="#N7"/><use href="#N8"/></g>
</g>
<rect x="1814.3" y="478.3" width="12.4" height="350.1" fill="url(#vg)" stroke="#000" stroke-width="1.1"/>
<path d="M1826.7 828.4h6.4" stroke="#000" stroke-width="1.5"/>
<text x="1838.0" y="838.3" class="tk">0</text>
<path d="M1826.7 759.4h6.4" stroke="#000" stroke-width="1.5"/>
<text x="1838.0" y="769.3" class="tk">1</text>
<path d="M1826.7 690.3h6.4" stroke="#000" stroke-width="1.5"/>
<text x="1838.0" y="700.2" class="tk">2</text>
<path d="M1826.7 621.3h6.4" stroke="#000" stroke-width="1.5"/>
<text x="1838.0" y="631.2" class="tk">3</text>
<path d="M1826.7 552.3h6.4" stroke="#000" stroke-width="1.5"/>
<text x="1838.0" y="562.2" class="tk">4</text>
<path d="M1826.7 483.3h6.4" stroke="#000" stroke-width="1.5"/>
<text x="1838.0" y="493.2" class="tk">5</text>
<text x="1629.6" y="468.0" class="tt" text-anchor="middle">PDE4B</text>
<g transform="translate(1916.1 438.0)" fill="none" stroke-linecap="round" stroke-width="2.5">
<g stroke="#440154"><use href="#a0"/><use href="#a1"/><use href="#b0"/><use href="#b1"/><use href="#c0"/><use href="#d0"/><use href="#e0"/><use href="#f0"/><use href="#g0"/><use href="#g1"/><use href="#g2"/><use href="#g3"/><use href="#g4"/><use href="#h0"/><use href="#h1"/><use href="#i0"/><use href="#i1"/><use href="#j0"/><use href="#k0"/><use href="#k1"/><use href="#l0"/><use href="#l1"/><use href="#m0"/><use href="#m1"/><use href="#n0"/><use href="#n1"/><use href="#o0"/><use href="#o1"/><use href="#o2"/><use href="#p0"/><use href="#p1"/><use href="#q0"/><use href="#q1"/><use href="#r0"/><use href="#r1"/><use href="#s0"/><use href="#s1"/><use href="#s2"/><use href="#t0"/><use href="#t1"/><use href="#u0"/><use href="#u1"/><use href="#v0"/><use href="#v1"/><use href="#w0"/><use href="#x0"/><use href="#x1"/><use href="#y0"/><use href="#y1"/><use href="#y2"/><use href="#z0"/><use href="#z1"/><use href="#z2"/><use href="#A0"/><use href="#A1"/><use href="#A2"/><use href="#B0"/><use href="#B1"/><use href="#D0"/><use href="#G0"/><use href="#H0"/><use href="#I0"/><use href="#J0"/><use href="#J1"/><use href="#K0"/><use href="#K1"/><use href="#O0"/><use href="#O1"/><use href="#P0"/><use href="#P1"/><use href="#Q0"/><use href="#Q1"/><use href="#R0"/><use href="#R1"/><use href="#S0"/><use href="#S1"/><use href="#T0"/><use href="#T1"/><use href="#U0"/><use href="#U1"/><use href="#V0"/><use href="#V1"/></g>
<g stroke="#46327e"><use href="#q2"/><use href="#s3"/><use href="#y3"/><use href="#z3"/><use href="#A3"/></g>
<g stroke="#433d84"><use href="#a2"/><use href="#b2"/><use href="#g5"/><use href="#i2"/><use href="#k2"/><use href="#l2"/><use href="#m2"/><use href="#n2"/><use href="#o3"/><use href="#t2"/><use href="#u2"/><use href="#v2"/><use href="#w1"/><use href="#x2"/><use href="#y4"/><use href="#z4"/><use href="#A4"/><use href="#B4"/><use href="#D1"/><use href="#I1"/><use href="#J2"/><use href="#K2"/><use href="#O2"/><use href="#P2"/><use href="#Q2"/><use href="#R2"/><use href="#S2"/><use href="#T2"/><use href="#U2"/><use href="#V2"/></g>
<g stroke="#3f4788"><use href="#a3"/><use href="#b3"/><use href="#f1"/><use href="#l3"/><use href="#m3"/><use href="#o4"/><use href="#p2"/><use href="#q3"/><use href="#r2"/><use href="#s4"/><use href="#t3"/><use href="#u3"/><use href="#R3"/><use href="#S3"/><use href="#T3"/><use href="#U3"/><use href="#V3"/></g>
<g stroke="#3b528b"><use href="#a4"/><use href="#b4"/><use href="#c1"/><use href="#d1"/><use href="#e1"/><use href="#f2"/><use href="#g6"/><use href="#i3"/><use href="#k3"/><use href="#k4"/><use href="#l4"/><use href="#m4"/><use href="#n3"/><use href="#n4"/><use href="#o5"/><use href="#p3"/><use href="#q4"/><use href="#r3"/><use href="#s5"/><use href="#t4"/><use href="#u4"/><use href="#v3"/><use href="#v4"/><use href="#w2"/><use href="#w3"/><use href="#x3"/><use href="#x4"/><use href="#y5"/><use href="#z5"/><use href="#A5"/><use href="#D2"/><use href="#D3"/><use href="#G1"/><use href="#H1"/><use href="#I2"/><use href="#I3"/><use href="#J3"/><use href="#J4"/><use href="#K3"/><use href="#K4"/><use href="#O3"/><use href="#O4"/><use href="#P3"/><use href="#P4"/><use href="#Q3"/><use href="#Q4"/><use href="#R4"/><use href="#S4"/><use href="#T4"/><use href="#U4"/><use href="#V4"/></g>
<g stroke="#365c8d"><use href="#a5"/><use href="#b5"/><use href="#c2"/><use href="#d2"/><use href="#e2"/><use href="#f3"/><use href="#h4"/><use href="#k5"/><use href="#l5"/><use href="#m5"/><use href="#n5"/><use href="#o6"/><use href="#p4"/><use href="#q5"/><use href="#s6"/><use href="#t5"/><use href="#u5"/><use href="#v5"/><use href="#w4"/><use href="#x5"/><use href="#y6"/><use href="#z6"/><use href="#A6"/><use href="#D4"/><use href="#G2"/><use href="#H2"/><use href="#I4"/><use href="#J5"/><use href="#K5"/><use href="#O5"/><use href="#P5"/><use href="#Q5"/><use href="#R5"/><use href="#S5"/><use href="#T5"/><use href="#U5"/><use href="#V5"/></g>
<g stroke="#32658e"><use href="#a6"/><use href="#b6"/><use href="#c3"/><use href="#d3"/><use href="#e3"/><use href="#f4"/><use href="#g7"/><use href="#i5"/><use href="#k6"/><use href="#l6"/><use href="#m6"/><use href="#o7"/><use href="#p5"/><use href="#q6"/><use href="#q7"/><use href="#r5"/><use href="#s7"/><use href="#t6"/><use href="#u6"/><use href="#v6"/><use href="#w5"/><use href="#x6"/><use href="#y7"/><use href="#A7"/><use href="#D5"/><use href="#G3"/><use href="#G4"/><use href="#H3"/><use href="#I5"/><use href="#J6"/><use href="#K6"/><use href="#O6"/><use href="#P6"/><use href="#Q6"/><use href="#R6"/><use href="#S6"/><use href="#T6"/><use href="#U6"/><use href="#V6"/></g>
<g stroke="#2e6e8e"><use href="#a7"/><use href="#a8"/><use href="#b7"/><use href="#b8"/><use href="#c4"/><use href="#d4"/><use href="#e4"/><use href="#f5"/><use href="#g8"/><use href="#k7"/><use href="#l7"/><use href="#l8"/><use href="#o8"/><use href="#p6"/><use href="#p7"/><use href="#q8"/><use href="#s8"/><use href="#t7"/><use href="#t8"/><use href="#u7"/><use href="#v7"/><use href="#w6"/><use href="#x7"/><use href="#y8"/><use href="#A8"/><use href="#D6"/><use href="#G5"/><use href="#H4"/><use href="#H5"/><use href="#I6"/><use href="#J7"/><use href="#K7"/><use href="#O7"/><use href="#P7"/><use href="#Q7"/><use href="#R7"/><use href="#S7"/><use href="#T7"/><use href="#U7"/><use href="#V7"/></g>
<g stroke="#2a768e"><use href="#c5"/><use href="#c6"/><use href="#d5"/><use href="#d6"/><use href="#e5"/><use href="#e6"/><use href="#f6"/><use href="#f7"/><use href="#j1"/><use href="#k8"/><use href="#p8"/><use href="#v8"/><use href="#w7"/><use href="#w8"/><use href="#x8"/><use href="#D7"/><use href="#D8"/><use href="#G6"/><use href="#H6"/><use href="#I7"/><use href="#I8"/><use href="#J8"/><use href="#K8"/><use href="#O8"/><use href="#P8"/><use href="#Q8"/><use href="#R8"/><use href="#S8"/><use href="#T8"/><use href="#U8"/></g>
<g stroke="#277f8e"><use href="#c7"/><use href="#e7"/><use href="#f8"/><use href="#G7"/><use href="#H7"/></g>
<g stroke="#24878e"><use href="#c8"/><use href="#H8"/></g>
<g stroke="#1f998a"><use href="#j2"/><use href="#C0"/></g>
<g stroke="#1fa187"><use href="#C1"/></g>
<g stroke="#24aa83"><use href="#j3"/><use href="#C2"/><use href="#C3"/><use href="#E0"/><use href="#F0"/></g>
<g stroke="#2db27d"><use href="#j4"/><use href="#C4"/><use href="#C5"/><use href="#E1"/><use href="#F1"/></g>
<g stroke="#3aba76"><use href="#C6"/><use href="#E2"/><use href="#F2"/></g>
<g stroke="#4ac16d"><use href="#j5"/><use href="#C7"/><use href="#C8"/><use href="#E3"/><use href="#F3"/><use href="#L0"/></g>
<g stroke="#5ec962"><use href="#E4"/><use href="#F4"/><use href="#L1"/></g>
<g stroke="#73d056"><use href="#j6"/><use href="#E5"/><use href="#E6"/><use href="#F5"/><use href="#F6"/><use href="#L2"/><use href="#N0"/></g>
<g stroke="#89d548"><use href="#E7"/><use href="#L3"/><use href="#M0"/><use href="#N1"/></g>
<g stroke="#a0da39"><use href="#E8"/><use href="#L4"/><use href="#L5"/><use href="#M1"/><use href="#N2"/><use href="#N3"/></g>
<g stroke="#b8de29"><use href="#L6"/><use href="#M2"/><use href="#M3"/><use href="#N4"/><use href="#N5"/></g>
<g stroke="#d0e11c"><use href="#L7"/><use href="#L8"/><use href="#M4"/><use href="#M5"/><use href="#N6"/></g>
<g stroke="#e7e419"><use href="#M6"/><use href="#M7"/><use href="#N7"/><use href="#N8"/></g>
<g stroke="#fde725"><use href="#M8"/></g>
</g>
<rect x="2293.3" y="478.3" width="12.4" height="350.1" fill="url(#vg)" stroke="#000" stroke-width="1.1"/>
<path d="M2305.7 828.4h6.4" stroke="#000" stroke-width="1.5"/>
<text x="2317.0" y="838.3" class="tk">0</text>
<path d="M2305.7 752.4h6.4" stroke="#000" stroke-width="1.5"/>
<text x="2317.0" y="762.3" class="tk">1</text>
<path d="M2305.7 676.3h6.4" stroke="#000" stroke-width="1.5"/>
<text x="2317.0" y="686.2" class="tk">2</text>
<path d="M2305.7 600.3h6.4" stroke="#000" stroke-width="1.5"/>
<text x="2317.0" y="610.2" class="tk">3</text>
<path d="M2305.7 524.2h6.4" stroke="#000" stroke-width="1.5"/>
<text x="2317.0" y="534.1" class="tk">4</text>
<text x="2108.6" y="468.0" class="tt" text-anchor="middle">PHLPP1</text>
</svg>
</body></html>
